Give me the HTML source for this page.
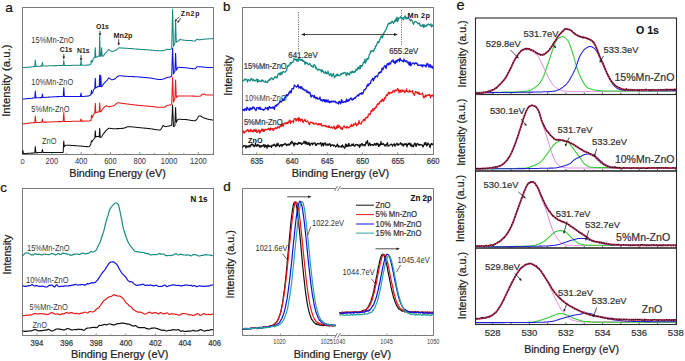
<!DOCTYPE html>
<html><head><meta charset="utf-8"><style>
html,body{margin:0;padding:0;background:#fff;overflow:hidden;width:685px;height:361px;}
svg{display:block;font-family:"Liberation Sans", sans-serif;}
</style></head><body>
<svg width="685" height="361" viewBox="0 0 685 361">
<rect width="685" height="361" fill="#fff"/>
<text x="5.3" y="11.6" font-size="13.6" text-anchor="start" fill="#111" stroke="#111" stroke-width="0.22">a</text>
<rect x="22.5" y="7.5" width="191" height="147" fill="none" stroke="#7c7c7c" stroke-width="1"/>
<line x1="22.5" y1="154.5" x2="22.5" y2="152.0" stroke="#7c7c7c" stroke-width="0.8"/>
<line x1="37.16" y1="154.5" x2="37.16" y2="153.0" stroke="#7c7c7c" stroke-width="0.8"/>
<line x1="51.82" y1="154.5" x2="51.82" y2="152.0" stroke="#7c7c7c" stroke-width="0.8"/>
<line x1="66.48" y1="154.5" x2="66.48" y2="153.0" stroke="#7c7c7c" stroke-width="0.8"/>
<line x1="81.14" y1="154.5" x2="81.14" y2="152.0" stroke="#7c7c7c" stroke-width="0.8"/>
<line x1="95.8" y1="154.5" x2="95.8" y2="153.0" stroke="#7c7c7c" stroke-width="0.8"/>
<line x1="110.46000000000001" y1="154.5" x2="110.46000000000001" y2="152.0" stroke="#7c7c7c" stroke-width="0.8"/>
<line x1="125.12" y1="154.5" x2="125.12" y2="153.0" stroke="#7c7c7c" stroke-width="0.8"/>
<line x1="139.78" y1="154.5" x2="139.78" y2="152.0" stroke="#7c7c7c" stroke-width="0.8"/>
<line x1="154.44" y1="154.5" x2="154.44" y2="153.0" stroke="#7c7c7c" stroke-width="0.8"/>
<line x1="169.1" y1="154.5" x2="169.1" y2="152.0" stroke="#7c7c7c" stroke-width="0.8"/>
<line x1="183.76000000000002" y1="154.5" x2="183.76000000000002" y2="153.0" stroke="#7c7c7c" stroke-width="0.8"/>
<line x1="198.42000000000002" y1="154.5" x2="198.42000000000002" y2="152.0" stroke="#7c7c7c" stroke-width="0.8"/>
<line x1="213.08" y1="154.5" x2="213.08" y2="153.0" stroke="#7c7c7c" stroke-width="0.8"/>
<text x="22.5" y="163.7" font-size="7.5" text-anchor="middle" fill="#333">0</text>
<text x="51.82" y="163.7" font-size="8.4" text-anchor="middle" fill="#333" textLength="12.51" lengthAdjust="spacingAndGlyphs">200</text>
<text x="81.14" y="163.7" font-size="8.4" text-anchor="middle" fill="#333" textLength="12.51" lengthAdjust="spacingAndGlyphs">400</text>
<text x="110.46000000000001" y="163.7" font-size="8.4" text-anchor="middle" fill="#333" textLength="12.51" lengthAdjust="spacingAndGlyphs">600</text>
<text x="139.78" y="163.7" font-size="8.4" text-anchor="middle" fill="#333" textLength="12.51" lengthAdjust="spacingAndGlyphs">800</text>
<text x="169.1" y="163.7" font-size="8.4" text-anchor="middle" fill="#333" textLength="16.69" lengthAdjust="spacingAndGlyphs">1000</text>
<text x="198.42000000000002" y="163.7" font-size="8.4" text-anchor="middle" fill="#333" textLength="16.69" lengthAdjust="spacingAndGlyphs">1200</text>
<text x="117.5" y="177.2" font-size="10.8" text-anchor="middle" fill="#222" stroke="#222" stroke-width="0.22">Binding Energy (eV)</text>
<text x="9.8" y="80.6" font-size="11.45" text-anchor="middle" fill="#222" transform="rotate(-90 9.8 80.6)" stroke="#222" stroke-width="0.22">Intensity (a.u.)</text>
<path d="M22.4,153.6L22.5,152.7L22.9,150.5L23.0,151.1L23.4,153.5L23.5,153.5L24.0,153.5L24.5,153.5L25.0,153.5L25.5,153.4L26.0,153.4L26.5,153.4L27.0,153.4L27.5,153.3L28.0,153.3L28.5,153.3L29.0,153.3L29.5,153.2L30.0,153.2L30.5,153.2L31.0,153.2L31.5,153.1L32.0,153.1L32.5,153.1L33.0,153.1L33.5,153.0L34.0,153.0L34.5,153.0L34.8,152.9L35.0,150.0L35.3,146.6L35.5,148.9L35.9,152.8L36.0,152.8L36.5,152.8L37.0,152.7L37.5,152.6L38.0,152.6L38.5,152.5L39.0,152.5L39.5,152.5L40.0,152.4L40.5,152.4L41.0,152.4L41.5,152.4L41.9,152.4L42.0,151.6L42.4,149.5L42.5,150.0L43.0,152.4L43.0,152.4L43.5,152.4L44.0,152.4L44.5,152.4L45.0,152.4L45.5,152.4L46.0,152.4L46.5,152.4L47.0,152.4L47.5,152.4L48.0,152.4L48.5,152.4L49.0,152.4L49.5,152.4L50.0,152.4L50.5,152.4L51.0,152.4L51.5,152.4L52.0,152.4L52.5,152.5L53.0,152.5L53.5,152.5L54.0,152.5L54.5,152.5L55.0,152.5L55.5,152.5L56.0,152.5L56.5,152.5L57.0,152.5L57.5,152.5L58.0,152.5L58.5,152.5L59.0,152.5L59.5,152.5L60.0,152.5L60.5,152.5L61.0,152.5L61.5,152.5L62.0,152.5L62.5,152.5L63.0,152.5L63.2,152.1L63.5,145.6L63.8,141.0L64.0,144.1L64.3,146.8L64.5,146.5L65.0,145.8L65.5,145.4L66.0,145.2L66.5,145.2L67.0,145.2L67.5,145.2L68.0,145.2L68.5,145.2L69.0,145.3L69.5,145.3L70.0,145.3L70.5,145.3L71.0,145.4L71.5,145.4L72.0,145.4L72.5,145.4L73.0,145.5L73.5,145.5L74.0,145.6L74.5,145.6L75.0,145.6L75.5,145.7L76.0,145.7L76.5,145.7L77.0,145.8L77.5,145.8L78.0,145.9L78.5,145.9L79.0,145.9L79.5,146.0L80.0,146.0L80.5,146.0L81.0,146.1L81.5,146.1L82.0,146.2L82.5,146.2L83.0,146.3L83.5,146.3L84.0,146.4L84.5,146.4L85.0,146.5L85.5,146.5L86.0,146.6L86.5,146.6L87.0,146.6L87.5,146.7L88.0,146.7L88.5,146.7L89.0,146.7L89.5,146.4L90.0,145.6L90.5,144.7L91.0,143.9L91.0,142.7L91.5,140.8L92.0,141.8L92.0,141.7L92.5,140.8L93.0,140.0L93.5,139.5L94.0,139.0L94.5,138.5L94.8,138.2L95.0,134.5L95.3,130.8L95.5,133.3L95.8,137.0L96.0,136.9L96.5,136.7L97.0,136.6L97.5,136.5L98.0,136.5L98.5,136.6L99.0,136.8L99.2,136.9L99.5,131.5L99.7,128.3L100.0,133.1L100.2,137.4L100.5,137.5L101.0,137.5L101.5,137.0L102.0,136.2L102.5,135.3L103.0,134.4L103.5,133.7L104.0,133.1L104.5,132.4L105.0,131.8L105.5,131.2L106.0,130.7L106.5,130.2L107.0,129.7L107.5,129.3L108.0,128.8L108.5,128.5L109.0,128.3L109.5,128.3L110.0,128.3L110.5,128.4L111.0,128.5L111.5,128.5L112.0,128.6L112.5,128.7L113.0,128.7L113.5,128.7L114.0,128.7L114.5,128.7L115.0,128.7L115.5,128.7L116.0,128.7L116.5,128.7L117.0,128.6L117.5,128.6L118.0,128.6L118.5,128.6L119.0,128.6L119.5,128.5L120.0,128.5L120.5,128.5L121.0,128.5L121.5,128.4L122.0,128.4L122.5,128.4L123.0,128.3L123.5,128.3L124.0,128.2L124.5,128.0L125.0,127.8L125.5,127.6L126.0,127.4L126.5,127.1L127.0,126.9L127.5,126.8L128.0,126.7L128.5,126.7L129.0,126.7L129.5,126.7L130.0,126.7L130.5,126.8L131.0,126.8L131.5,126.8L132.0,126.9L132.5,126.9L133.0,127.0L133.5,127.0L134.0,127.0L134.5,127.1L135.0,127.2L135.5,127.2L136.0,127.3L136.5,127.3L137.0,127.4L137.5,127.4L138.0,127.5L138.5,127.5L139.0,127.6L139.5,127.7L140.0,127.7L140.5,127.7L141.0,127.8L141.5,127.8L142.0,127.9L142.5,127.9L143.0,128.0L143.5,128.0L144.0,128.1L144.5,128.1L145.0,128.2L145.5,128.2L146.0,128.3L146.5,128.3L147.0,128.4L147.5,128.4L148.0,128.5L148.5,128.5L149.0,128.6L149.5,128.6L150.0,128.7L150.5,128.8L151.0,128.8L151.5,128.9L152.0,129.0L152.5,129.1L153.0,129.1L153.5,129.2L154.0,129.3L154.5,129.4L155.0,129.5L155.5,129.6L156.0,129.7L156.5,129.7L157.0,129.8L157.5,129.8L158.0,129.9L158.5,129.9L159.0,130.0L159.5,130.0L160.0,130.0L160.5,129.8L161.0,129.1L161.5,128.3L162.0,127.5L162.5,126.3L163.0,125.5L163.5,125.7L164.0,126.0L164.5,126.3L165.0,126.5L165.5,126.5L166.0,126.5L166.5,126.4L167.0,126.3L167.5,126.3L168.0,126.2L168.5,126.1L169.0,126.0L169.5,125.9L170.0,125.8L170.5,125.7L171.0,125.6L171.5,125.5L171.7,125.5L172.0,119.0L172.5,107.3L172.6,105.0L173.0,114.4L173.5,126.5L174.0,126.4L174.5,126.1L174.9,125.8L175.0,121.9L175.5,109.9L175.6,107.5L176.0,117.1L176.3,122.4L176.5,122.0L177.0,120.9L177.5,119.8L178.0,119.3L178.5,119.3L179.0,119.3L179.5,119.3L180.0,119.3L180.5,119.3L181.0,119.3L181.5,119.4L182.0,119.4L182.5,119.4L183.0,119.4L183.5,119.4L184.0,119.5L184.5,119.5L185.0,119.5L185.5,119.5L186.0,119.6L186.5,119.6L187.0,119.7L187.5,119.8L188.0,119.8L188.5,119.9L189.0,120.0L189.5,120.1L190.0,120.2L190.5,120.3L191.0,120.4L191.5,120.5L192.0,120.5L192.5,120.6L193.0,120.7L193.5,120.7L194.0,120.8L194.5,120.8L195.0,120.8L195.5,120.6L196.0,120.2L196.5,119.6L197.0,119.0L197.5,118.2L198.0,117.3L198.5,116.5L199.0,116.0L199.5,115.9L200.0,115.8L200.5,115.9L201.0,116.1L201.5,116.5L202.0,116.9L202.5,117.2L203.0,117.5L203.5,117.7L204.0,117.9L204.5,118.1L205.0,118.3L205.5,118.5L206.0,118.7L206.5,118.8L207.0,119.0L207.5,119.1L208.0,119.2L208.5,119.3L209.0,119.4L209.5,119.5L210.0,119.6L210.5,119.7L211.0,119.8L211.5,119.8L212.0,119.9L212.5,120.0L213.0,120.0" fill="none" stroke="#111" stroke-width="1.05" stroke-linejoin="round"/>
<path d="M22.5,124.0L23.0,123.9L23.5,123.8L24.0,123.8L24.5,123.7L25.0,123.6L25.5,123.6L26.0,123.5L26.5,123.4L27.0,123.4L27.5,123.3L28.0,123.2L28.5,123.2L29.0,123.1L29.5,123.1L30.0,123.0L30.5,122.9L31.0,122.9L31.5,122.8L32.0,122.8L32.5,122.7L33.0,122.7L33.5,122.6L34.0,122.6L34.5,122.6L34.8,122.6L35.0,119.6L35.3,116.0L35.5,118.4L35.9,122.5L36.0,122.5L36.5,122.5L37.0,122.5L37.5,122.4L38.0,122.4L38.5,122.4L39.0,122.4L39.5,122.4L40.0,122.3L40.5,122.3L41.0,122.3L41.5,122.3L41.9,122.3L42.0,121.4L42.4,119.0L42.5,119.6L43.0,122.2L43.0,122.2L43.5,122.2L44.0,122.2L44.5,122.2L45.0,122.1L45.5,122.1L46.0,122.1L46.5,122.1L47.0,122.1L47.5,122.0L48.0,122.0L48.5,122.0L49.0,122.0L49.5,122.0L50.0,121.9L50.5,121.9L51.0,121.9L51.5,121.9L52.0,121.9L52.5,121.8L53.0,121.8L53.5,121.8L54.0,121.8L54.5,121.8L55.0,121.7L55.5,121.7L56.0,121.7L56.5,121.7L57.0,121.7L57.5,121.7L58.0,121.6L58.5,121.6L59.0,121.6L59.5,121.6L60.0,121.6L60.5,121.6L61.0,121.6L61.5,121.5L62.0,121.5L62.5,121.5L63.0,121.5L63.2,121.5L63.5,117.4L63.8,112.5L64.0,115.8L64.3,121.5L64.5,121.5L65.0,121.5L65.5,121.4L66.0,121.4L66.5,121.4L67.0,121.4L67.5,121.4L68.0,121.4L68.5,121.4L69.0,121.4L69.5,121.4L70.0,121.4L70.5,121.4L71.0,121.4L71.5,121.4L72.0,121.3L72.5,121.3L73.0,121.3L73.5,121.3L74.0,121.3L74.5,121.3L75.0,121.3L75.5,121.3L76.0,121.3L76.5,121.3L77.0,121.3L77.5,121.3L78.0,121.2L78.5,121.2L79.0,121.2L79.5,121.2L80.0,121.2L80.5,121.2L80.5,121.0L81.0,119.0L81.5,121.0L81.5,121.2L82.0,121.1L82.5,121.1L83.0,121.1L83.5,121.1L84.0,121.1L84.5,121.0L85.0,121.0L85.5,121.0L86.0,121.0L86.5,121.0L87.0,120.9L87.5,120.9L88.0,120.9L88.5,120.9L89.0,120.9L89.5,120.9L90.0,120.8L90.5,120.8L91.0,120.7L91.0,120.6L91.5,115.8L91.6,115.0L92.0,118.0L92.2,117.5L92.5,116.6L93.0,115.6L93.5,114.7L94.0,114.0L94.5,113.6L94.8,113.4L95.0,108.6L95.3,103.3L95.5,106.9L95.8,112.8L96.0,112.7L96.5,112.5L97.0,112.3L97.5,112.1L98.0,112.0L98.5,111.9L99.0,111.9L99.2,111.9L99.5,106.2L99.7,103.0L100.0,107.8L100.2,111.8L100.5,111.8L101.0,111.6L101.5,110.9L102.0,109.8L102.5,109.0L103.0,108.4L103.5,107.9L104.0,107.4L104.5,107.0L105.0,106.6L105.5,106.3L106.0,106.0L106.5,105.8L107.0,105.9L107.5,106.2L108.0,106.6L108.5,106.7L109.0,106.7L109.5,106.6L110.0,106.6L110.5,106.5L111.0,106.4L111.5,106.3L112.0,106.1L112.5,106.0L113.0,105.9L113.5,105.7L114.0,105.5L114.5,105.2L115.0,104.8L115.5,104.4L116.0,104.0L116.5,103.6L117.0,103.2L117.5,103.0L118.0,102.8L118.5,102.8L119.0,102.8L119.5,102.9L120.0,103.0L120.5,103.1L121.0,103.1L121.5,103.2L122.0,103.3L122.5,103.4L123.0,103.4L123.5,103.5L124.0,103.6L124.5,103.6L125.0,103.7L125.5,103.7L126.0,103.8L126.5,103.9L127.0,103.9L127.5,104.0L128.0,104.1L128.5,104.1L129.0,104.2L129.5,104.2L130.0,104.3L130.5,104.4L131.0,104.4L131.5,104.5L132.0,104.6L132.5,104.6L133.0,104.7L133.5,104.7L134.0,104.8L134.5,104.9L135.0,104.9L135.5,105.0L136.0,105.1L136.5,105.1L137.0,105.2L137.5,105.2L138.0,105.3L138.5,105.3L139.0,105.4L139.5,105.5L140.0,105.5L140.5,105.5L141.0,105.6L141.5,105.6L142.0,105.7L142.5,105.7L143.0,105.8L143.5,105.8L144.0,105.8L144.5,105.9L145.0,105.9L145.5,105.9L146.0,106.0L146.5,106.0L147.0,106.1L147.5,106.1L148.0,106.1L148.5,106.2L149.0,106.2L149.5,106.3L150.0,106.3L150.5,106.3L151.0,106.4L151.5,106.5L152.0,106.5L152.5,106.6L153.0,106.6L153.5,106.7L154.0,106.8L154.5,106.8L155.0,106.9L155.5,107.0L156.0,107.0L156.5,107.1L157.0,107.1L157.5,107.2L158.0,107.2L158.5,107.3L159.0,107.3L159.5,107.3L160.0,107.3L160.5,107.3L161.0,107.3L161.5,107.3L162.0,107.3L162.5,107.2L163.0,107.2L163.5,107.2L164.0,107.1L164.5,107.1L165.0,107.0L165.5,106.8L166.0,106.3L166.5,105.8L167.0,105.5L167.5,105.4L168.0,105.3L168.5,105.2L169.0,105.2L169.5,105.1L170.0,105.0L170.5,104.9L171.0,104.7L171.5,104.5L171.7,104.4L172.0,94.8L172.5,80.4L172.6,77.5L173.0,89.0L173.5,102.0L174.0,100.7L174.5,99.4L174.9,98.8L175.0,95.6L175.5,82.6L175.6,80.0L176.0,90.4L176.3,97.7L176.5,97.5L177.0,96.9L177.5,96.3L178.0,96.0L178.5,96.0L179.0,96.0L179.5,96.0L180.0,96.0L180.5,96.0L181.0,96.0L181.5,96.0L182.0,96.0L182.5,96.0L183.0,96.0L183.5,96.0L184.0,96.0L184.5,96.0L185.0,96.0L185.5,96.0L186.0,96.0L186.5,96.0L187.0,96.0L187.5,96.0L188.0,96.0L188.5,96.0L189.0,96.0L189.5,96.0L190.0,96.0L190.5,96.0L191.0,96.0L191.5,96.0L192.0,96.0L192.5,96.0L193.0,96.1L193.5,96.1L194.0,96.1L194.5,96.1L195.0,96.1L195.5,96.2L196.0,96.2L196.5,96.2L197.0,96.2L197.5,96.3L198.0,96.3L198.5,96.3L199.0,96.3L199.5,96.3L200.0,96.3L200.5,96.1L201.0,95.7L201.5,95.2L202.0,94.6L202.5,94.2L203.0,94.0L203.5,94.0L204.0,94.2L204.5,94.3L205.0,94.5L205.5,94.7L206.0,94.8L206.5,95.0L207.0,95.0L207.5,95.0L208.0,95.0L208.5,95.0L209.0,95.0L209.5,95.0L210.0,95.0L210.5,95.0L211.0,95.0L211.5,95.0L212.0,95.0L212.5,95.0L213.0,95.0" fill="none" stroke="#e81818" stroke-width="1.05" stroke-linejoin="round"/>
<path d="M22.5,99.0L23.0,99.0L23.5,98.9L24.0,98.9L24.5,98.9L25.0,98.8L25.5,98.8L26.0,98.7L26.5,98.7L27.0,98.7L27.5,98.6L28.0,98.6L28.5,98.5L29.0,98.5L29.5,98.4L30.0,98.4L30.5,98.4L31.0,98.3L31.5,98.2L32.0,98.2L32.5,98.1L33.0,98.1L33.5,98.0L34.0,98.0L34.5,98.0L34.8,97.9L35.0,94.8L35.3,91.0L35.5,93.5L35.9,97.9L36.0,97.9L36.5,97.8L37.0,97.8L37.5,97.8L38.0,97.8L38.5,97.7L39.0,97.7L39.5,97.7L40.0,97.7L40.5,97.6L41.0,97.6L41.5,97.6L41.9,97.6L42.0,96.6L42.4,94.0L42.5,94.6L43.0,97.5L43.0,97.5L43.5,97.5L44.0,97.4L44.5,97.4L45.0,97.4L45.5,97.3L46.0,97.3L46.5,97.3L47.0,97.2L47.5,97.2L48.0,97.2L48.5,97.1L49.0,97.1L49.5,97.1L50.0,97.0L50.5,97.0L51.0,97.0L51.5,96.9L52.0,96.9L52.5,96.9L53.0,96.8L53.5,96.8L54.0,96.8L54.5,96.8L55.0,96.7L55.5,96.7L56.0,96.7L56.5,96.7L57.0,96.6L57.5,96.6L58.0,96.6L58.5,96.6L59.0,96.6L59.5,96.5L60.0,96.5L60.5,96.5L61.0,96.5L61.5,96.5L62.0,96.5L62.5,96.5L63.0,96.5L63.2,96.5L63.5,92.4L63.8,87.5L64.0,90.8L64.3,96.5L64.5,96.5L65.0,96.5L65.5,96.5L66.0,96.5L66.5,96.5L67.0,96.5L67.5,96.5L68.0,96.5L68.5,96.5L69.0,96.5L69.5,96.5L70.0,96.5L70.5,96.5L71.0,96.5L71.5,96.5L72.0,96.5L72.5,96.5L73.0,96.5L73.5,96.5L74.0,96.5L74.5,96.5L75.0,96.5L75.5,96.5L76.0,96.5L76.5,96.5L77.0,96.5L77.5,96.5L78.0,96.5L78.5,96.5L79.0,96.5L79.5,96.5L80.0,96.5L80.5,96.5L80.5,96.2L81.0,93.0L81.5,96.2L81.5,96.5L82.0,96.5L82.5,96.5L83.0,96.4L83.5,96.4L84.0,96.4L84.5,96.3L85.0,96.3L85.5,96.3L86.0,96.2L86.5,96.2L87.0,96.1L87.5,96.1L88.0,96.0L88.5,95.9L89.0,95.7L89.5,95.5L90.0,95.3L90.5,95.0L91.0,94.7L91.0,93.8L91.5,90.3L92.0,93.6L92.0,93.5L92.5,92.9L93.0,91.7L93.5,90.2L94.0,89.2L94.5,88.7L94.8,88.6L95.0,83.7L95.3,78.2L95.5,81.9L95.8,88.0L96.0,87.9L96.5,87.6L97.0,87.2L97.5,86.8L98.0,86.6L98.5,86.6L99.0,86.6L99.2,86.6L99.5,79.2L99.7,75.0L100.0,81.3L100.2,86.6L100.5,81.6L100.8,75.5L101.0,79.5L101.3,86.6L101.5,86.6L102.0,86.5L102.5,85.8L103.0,84.7L103.5,83.9L104.0,83.3L104.5,82.8L105.0,82.3L105.5,81.8L106.0,81.3L106.5,80.9L107.0,80.4L107.5,79.8L108.0,78.9L108.5,78.0L109.0,78.1L109.5,78.4L110.0,78.7L110.5,79.0L111.0,79.4L111.5,79.7L112.0,79.8L112.5,79.8L113.0,79.6L113.5,79.5L114.0,79.3L114.5,79.0L115.0,78.8L115.5,78.5L116.0,78.0L116.5,77.4L117.0,76.9L117.5,76.5L118.0,76.2L118.5,76.0L119.0,75.9L119.5,75.8L120.0,75.8L120.5,75.8L121.0,75.8L121.5,75.9L122.0,75.9L122.5,76.0L123.0,76.0L123.5,76.1L124.0,76.1L124.5,76.2L125.0,76.2L125.5,76.2L126.0,76.3L126.5,76.3L127.0,76.3L127.5,76.3L128.0,76.4L128.5,76.4L129.0,76.4L129.5,76.4L130.0,76.5L130.5,76.5L131.0,76.5L131.5,76.5L132.0,76.5L132.5,76.6L133.0,76.6L133.5,76.6L134.0,76.6L134.5,76.7L135.0,76.7L135.5,76.7L136.0,76.8L136.5,76.8L137.0,76.8L137.5,76.9L138.0,76.9L138.5,76.9L139.0,77.0L139.5,77.0L140.0,77.1L140.5,77.1L141.0,77.1L141.5,77.2L142.0,77.2L142.5,77.3L143.0,77.3L143.5,77.3L144.0,77.4L144.5,77.4L145.0,77.5L145.5,77.5L146.0,77.6L146.5,77.6L147.0,77.7L147.5,77.7L148.0,77.8L148.5,77.8L149.0,77.9L149.5,77.9L150.0,78.0L150.5,78.1L151.0,78.1L151.5,78.2L152.0,78.3L152.5,78.4L153.0,78.5L153.5,78.6L154.0,78.7L154.5,78.8L155.0,78.9L155.5,79.0L156.0,79.1L156.5,79.2L157.0,79.2L157.5,79.3L158.0,79.4L158.5,79.4L159.0,79.5L159.5,79.5L160.0,79.5L160.5,79.5L161.0,79.4L161.5,79.4L162.0,79.3L162.5,79.2L163.0,79.1L163.5,78.9L164.0,78.8L164.5,78.7L165.0,78.5L165.5,78.3L166.0,77.9L166.5,77.6L167.0,77.4L167.5,77.3L168.0,77.2L168.5,77.2L169.0,77.2L169.5,77.1L170.0,77.0L170.5,76.9L171.0,76.6L171.5,76.4L171.7,76.2L172.0,66.2L172.5,51.0L172.6,48.0L173.0,60.1L173.5,74.0L174.0,72.9L174.5,71.8L174.9,71.3L175.0,68.2L175.5,55.7L175.6,53.2L176.0,63.2L176.3,70.2L176.5,70.0L177.0,69.0L177.5,67.9L178.0,67.3L178.5,67.3L179.0,67.3L179.5,67.3L180.0,67.3L180.5,67.4L181.0,67.4L181.5,67.4L182.0,67.5L182.5,67.5L183.0,67.5L183.5,67.6L184.0,67.6L184.5,67.7L185.0,67.7L185.5,67.7L186.0,67.8L186.5,67.9L187.0,67.9L187.5,68.0L188.0,68.0L188.5,68.1L189.0,68.2L189.5,68.2L190.0,68.3L190.5,68.4L191.0,68.4L191.5,68.5L192.0,68.6L192.5,68.6L193.0,68.7L193.5,68.7L194.0,68.8L194.5,68.8L195.0,68.8L195.5,68.5L196.0,67.8L196.5,67.1L197.0,66.8L197.5,66.8L198.0,66.7L198.5,66.7L199.0,66.7L199.5,66.7L200.0,66.7L200.5,66.7L201.0,66.8L201.5,66.8L202.0,66.9L202.5,67.0L203.0,67.1L203.5,67.1L204.0,67.2L204.5,67.3L205.0,67.3L205.5,67.3L206.0,67.3L206.5,67.4L207.0,67.4L207.5,67.4L208.0,67.4L208.5,67.4L209.0,67.4L209.5,67.5L210.0,67.5L210.5,67.5L211.0,67.5L211.5,67.5L212.0,67.5L212.5,67.5L213.0,67.5" fill="none" stroke="#1010e0" stroke-width="1.05" stroke-linejoin="round"/>
<path d="M22.5,67.6L23.0,67.6L23.5,67.5L24.0,67.5L24.5,67.5L25.0,67.4L25.5,67.4L26.0,67.3L26.5,67.3L27.0,67.3L27.5,67.2L28.0,67.2L28.5,67.1L29.0,67.1L29.5,67.0L30.0,67.0L30.5,67.0L31.0,66.9L31.5,66.9L32.0,66.8L32.5,66.7L33.0,66.7L33.5,66.6L34.0,66.6L34.5,66.6L34.8,66.5L35.0,63.5L35.3,60.0L35.5,62.4L35.9,66.4L36.0,66.4L36.5,66.4L37.0,66.4L37.5,66.3L38.0,66.3L38.5,66.2L39.0,66.2L39.5,66.2L40.0,66.2L40.5,66.1L41.0,66.1L41.5,66.1L41.9,66.1L42.0,65.0L42.4,62.4L42.5,63.1L43.0,66.0L43.0,66.0L43.5,66.0L44.0,66.0L44.5,66.0L45.0,65.9L45.5,65.9L46.0,65.9L46.5,65.9L47.0,65.9L47.5,65.9L48.0,65.9L48.5,65.8L49.0,65.8L49.5,65.8L50.0,65.8L50.5,65.8L51.0,65.8L51.5,65.7L52.0,65.7L52.5,65.7L53.0,65.7L53.5,65.7L54.0,65.7L54.5,65.6L55.0,65.6L55.5,65.6L56.0,65.6L56.5,65.6L57.0,65.5L57.5,65.5L58.0,65.5L58.5,65.5L59.0,65.5L59.5,65.5L60.0,65.5L60.5,65.4L61.0,65.4L61.5,65.4L62.0,65.4L62.5,65.4L63.0,65.4L63.2,65.4L63.5,63.2L63.8,60.5L64.0,62.3L64.3,65.4L64.5,65.4L65.0,65.4L65.5,65.4L66.0,65.4L66.5,65.4L67.0,65.4L67.5,65.4L68.0,65.4L68.5,65.4L69.0,65.4L69.5,65.4L70.0,65.4L70.5,65.4L71.0,65.4L71.5,65.4L72.0,65.3L72.5,65.3L73.0,65.3L73.5,65.3L74.0,65.3L74.5,65.3L75.0,65.3L75.5,65.3L76.0,65.3L76.5,65.3L77.0,65.3L77.5,65.3L78.0,65.3L78.5,65.3L79.0,65.3L79.5,65.3L80.0,65.3L80.5,65.3L80.5,64.9L81.0,61.0L81.5,64.9L81.5,65.3L82.0,65.3L82.5,65.3L83.0,65.3L83.5,65.3L84.0,65.2L84.5,65.2L85.0,65.2L85.5,65.2L86.0,65.2L86.5,65.2L87.0,65.1L87.5,65.1L88.0,65.1L88.5,65.1L89.0,65.0L89.5,64.8L90.0,64.7L90.5,64.4L90.8,64.1L91.0,62.0L91.3,60.4L91.5,61.5L91.8,62.3L92.0,62.1L92.5,61.1L93.0,59.7L93.5,58.3L94.0,57.8L94.5,57.6L94.8,57.6L95.0,53.1L95.3,47.8L95.5,51.3L95.8,57.4L96.0,57.4L96.5,57.3L97.0,57.0L97.5,56.5L98.0,56.2L98.5,56.2L99.0,56.2L99.2,56.2L99.5,43.5L99.7,36.2L100.0,47.1L100.2,56.2L100.5,56.2L101.0,56.2L101.0,56.2L101.5,49.3L101.6,47.8L102.0,53.9L102.2,56.2L102.5,56.2L103.0,56.2L103.5,55.7L104.0,55.1L104.5,54.3L105.0,53.6L105.5,53.1L106.0,52.6L106.5,52.0L107.0,51.5L107.5,50.8L108.0,50.0L108.5,49.6L109.0,49.7L109.5,50.1L110.0,50.5L110.5,50.8L111.0,51.1L111.5,51.3L112.0,51.4L112.5,51.4L113.0,51.3L113.5,51.1L114.0,50.9L114.5,50.7L115.0,50.5L115.5,50.3L116.0,50.0L116.5,49.7L117.0,49.3L117.5,49.0L118.0,48.6L118.5,48.1L119.0,47.8L119.5,47.8L120.0,47.8L120.5,47.9L121.0,47.9L121.5,48.0L122.0,48.0L122.5,48.0L123.0,48.1L123.5,48.1L124.0,48.1L124.5,48.2L125.0,48.2L125.5,48.2L126.0,48.2L126.5,48.3L127.0,48.3L127.5,48.3L128.0,48.4L128.5,48.4L129.0,48.4L129.5,48.5L130.0,48.5L130.5,48.5L131.0,48.6L131.5,48.6L132.0,48.6L132.5,48.7L133.0,48.7L133.5,48.8L134.0,48.8L134.5,48.9L135.0,48.9L135.5,48.9L136.0,49.0L136.5,49.0L137.0,49.1L137.5,49.1L138.0,49.1L138.5,49.2L139.0,49.2L139.5,49.3L140.0,49.3L140.5,49.3L141.0,49.4L141.5,49.4L142.0,49.4L142.5,49.5L143.0,49.5L143.5,49.5L144.0,49.6L144.5,49.6L145.0,49.6L145.5,49.7L146.0,49.7L146.5,49.8L147.0,49.8L147.5,49.8L148.0,49.9L148.5,49.9L149.0,49.9L149.5,50.0L150.0,50.0L150.5,50.0L151.0,50.1L151.5,50.1L152.0,50.2L152.5,50.2L153.0,50.3L153.5,50.3L154.0,50.4L154.5,50.4L155.0,50.5L155.5,50.5L156.0,50.6L156.5,50.6L157.0,50.7L157.5,50.7L158.0,50.7L158.5,50.8L159.0,50.8L159.5,50.8L160.0,50.8L160.5,50.8L161.0,50.8L161.5,50.7L162.0,50.7L162.5,50.6L163.0,50.6L163.5,50.5L164.0,50.4L164.5,50.3L165.0,50.2L165.5,50.0L166.0,49.6L166.5,49.3L167.0,49.2L167.5,49.2L168.0,49.3L168.5,49.4L169.0,49.4L169.5,49.5L170.0,49.5L170.5,49.4L171.0,49.0L171.5,48.6L171.7,48.4L172.0,34.9L172.5,13.6L172.6,9.3L173.0,26.3L173.5,46.5L174.0,45.3L174.5,43.9L174.9,43.3L175.0,39.6L175.5,24.3L175.6,21.3L176.0,33.5L176.3,42.1L176.5,42.0L177.0,41.8L177.5,41.5L178.0,41.3L178.5,40.9L179.0,40.3L179.5,39.8L180.0,39.6L180.5,39.6L181.0,39.7L181.5,39.7L182.0,39.8L182.5,39.9L183.0,40.0L183.5,40.1L184.0,40.2L184.5,40.3L185.0,40.3L185.5,40.3L186.0,40.4L186.5,40.4L187.0,40.4L187.5,40.4L188.0,40.4L188.5,40.4L189.0,40.5L189.5,40.5L190.0,40.5L190.5,40.5L191.0,40.6L191.5,40.6L192.0,40.7L192.5,40.8L193.0,40.9L193.5,40.9L194.0,41.0L194.5,41.0L195.0,41.0L195.5,40.7L196.0,40.1L196.5,39.5L197.0,39.2L197.5,39.3L198.0,39.5L198.5,39.7L199.0,39.8L199.5,39.8L200.0,39.7L200.5,39.7L201.0,39.6L201.5,39.5L202.0,39.4L202.5,39.4L203.0,39.3L203.5,39.3L204.0,39.2L204.5,39.2L205.0,39.1L205.5,39.1L206.0,39.0L206.5,39.0L207.0,39.0L207.5,38.9L208.0,38.9L208.5,38.9L209.0,38.8L209.5,38.8L210.0,38.8L210.5,38.7L211.0,38.7L211.5,38.7L212.0,38.7L212.5,38.6L213.0,38.6" fill="none" stroke="#178a80" stroke-width="1.05" stroke-linejoin="round"/>
<text x="31.3" y="43" font-size="8.4" text-anchor="start" fill="#383838" textLength="42.51" lengthAdjust="spacingAndGlyphs">15%Mn-ZnO</text>
<text x="31.3" y="84.5" font-size="8.29" text-anchor="start" fill="#383838" textLength="41.95" lengthAdjust="spacingAndGlyphs">10%Mn-ZnO</text>
<text x="31.3" y="112" font-size="8.4" text-anchor="start" fill="#383838" textLength="38.34" lengthAdjust="spacingAndGlyphs">5%Mn-ZnO</text>
<text x="42" y="144" font-size="8.29" text-anchor="start" fill="#383838" textLength="14.39" lengthAdjust="spacingAndGlyphs">ZnO</text>
<text x="59.8" y="51.6" font-size="7.62" text-anchor="start" fill="#222" font-weight="bold" textLength="12.47" lengthAdjust="spacingAndGlyphs">C1s</text>
<text x="77" y="52.5" font-size="7.62" text-anchor="start" fill="#222" font-weight="bold" textLength="12.47" lengthAdjust="spacingAndGlyphs">N1s</text>
<text x="95.9" y="29" font-size="7.73" text-anchor="start" fill="#222" font-weight="bold" textLength="13.04" lengthAdjust="spacingAndGlyphs">O1s</text>
<text x="113.5" y="37.8" font-size="8.06" text-anchor="start" fill="#222" font-weight="bold" textLength="18.80" lengthAdjust="spacingAndGlyphs">Mn2p</text>
<text x="180.8" y="16.4" font-size="6.9" text-anchor="start" fill="#222" font-weight="bold" letter-spacing="0.7">Zn2p</text>
<line x1="63.8" y1="53.8" x2="63.8" y2="57.1" stroke="#222" stroke-width="0.8"/>
<path d="M62.5,56.6 L65.1,56.6 L63.8,59.6 Z" fill="#222"/>
<line x1="81" y1="55" x2="81" y2="58.7" stroke="#222" stroke-width="0.8"/>
<path d="M79.7,58.2 L82.3,58.2 L81,61.2 Z" fill="#222"/>
<line x1="100" y1="30.7" x2="100" y2="33.8" stroke="#222" stroke-width="0.8"/>
<path d="M98.7,33.3 L101.3,33.3 L100,36.3 Z" fill="#222"/>
<line x1="118.7" y1="39.2" x2="118.7" y2="43.3" stroke="#222" stroke-width="0.8"/>
<path d="M117.4,42.8 L120.0,42.8 L118.7,45.8 Z" fill="#222"/>
<line x1="179.4" y1="16.8" x2="175.92871716275025" y2="20.200440330367115" stroke="#222" stroke-width="0.8"/>
<path d="M174.50,21.60 L175.52,19.06 L177.06,20.64 Z" fill="#222"/>
<line x1="180.9" y1="18.2" x2="178.5" y2="21.4" stroke="#222" stroke-width="0.8"/>
<path d="M177.30,23.00 L177.92,20.34 L179.68,21.66 Z" fill="#222"/>
<text x="223.0" y="10.8" font-size="13.3" text-anchor="start" fill="#111" stroke="#111" stroke-width="0.22">b</text>
<rect x="242.5" y="7.5" width="191" height="147" fill="none" stroke="#7c7c7c" stroke-width="1"/>
<line x1="256.8" y1="154.5" x2="256.8" y2="152.3" stroke="#7c7c7c" stroke-width="0.8"/>
<line x1="274.425" y1="154.5" x2="274.425" y2="153.3" stroke="#7c7c7c" stroke-width="0.8"/>
<line x1="292.05" y1="154.5" x2="292.05" y2="152.3" stroke="#7c7c7c" stroke-width="0.8"/>
<line x1="309.675" y1="154.5" x2="309.675" y2="153.3" stroke="#7c7c7c" stroke-width="0.8"/>
<line x1="327.3" y1="154.5" x2="327.3" y2="152.3" stroke="#7c7c7c" stroke-width="0.8"/>
<line x1="344.925" y1="154.5" x2="344.925" y2="153.3" stroke="#7c7c7c" stroke-width="0.8"/>
<line x1="362.55" y1="154.5" x2="362.55" y2="152.3" stroke="#7c7c7c" stroke-width="0.8"/>
<line x1="380.175" y1="154.5" x2="380.175" y2="153.3" stroke="#7c7c7c" stroke-width="0.8"/>
<line x1="397.8" y1="154.5" x2="397.8" y2="152.3" stroke="#7c7c7c" stroke-width="0.8"/>
<line x1="415.425" y1="154.5" x2="415.425" y2="153.3" stroke="#7c7c7c" stroke-width="0.8"/>
<text x="256.8" y="163.7" font-size="8.62" text-anchor="middle" fill="#333" stroke="#333" stroke-width="0.22" textLength="12.85" lengthAdjust="spacingAndGlyphs">635</text>
<text x="292.05" y="163.7" font-size="8.62" text-anchor="middle" fill="#333" stroke="#333" stroke-width="0.22" textLength="12.85" lengthAdjust="spacingAndGlyphs">640</text>
<text x="327.3" y="163.7" font-size="8.62" text-anchor="middle" fill="#333" stroke="#333" stroke-width="0.22" textLength="12.85" lengthAdjust="spacingAndGlyphs">645</text>
<text x="362.55" y="163.7" font-size="8.62" text-anchor="middle" fill="#333" stroke="#333" stroke-width="0.22" textLength="12.85" lengthAdjust="spacingAndGlyphs">650</text>
<text x="397.8" y="163.7" font-size="8.62" text-anchor="middle" fill="#333" stroke="#333" stroke-width="0.22" textLength="12.85" lengthAdjust="spacingAndGlyphs">655</text>
<text x="433.05" y="163.7" font-size="8.62" text-anchor="middle" fill="#333" stroke="#333" stroke-width="0.22" textLength="12.85" lengthAdjust="spacingAndGlyphs">660</text>
<text x="340.5" y="176.8" font-size="10.9" text-anchor="middle" fill="#222" stroke="#222" stroke-width="0.22">Binding Energy (eV)</text>
<text x="232.2" y="75.6" font-size="10.85" text-anchor="middle" fill="#222" transform="rotate(-90 232.2 75.6)" stroke="#222" stroke-width="0.22">Intensity</text>
<path d="M242.5,146.6L243.0,146.9L243.5,146.2L244.0,145.5L244.5,145.8L245.0,145.4L245.5,146.7L246.0,148.0L246.5,146.1L247.0,145.8L247.5,147.0L248.0,147.0L248.5,146.5L249.0,145.5L249.5,146.4L250.0,147.0L250.5,145.0L251.0,145.5L251.5,144.1L252.0,144.4L252.5,144.1L253.0,145.7L253.5,145.0L254.0,146.5L254.5,146.5L255.0,145.8L255.5,143.4L256.0,145.3L256.5,146.2L257.0,146.2L257.5,144.5L258.0,145.4L258.5,145.0L259.0,145.3L259.5,147.1L260.0,145.5L260.5,146.2L261.0,147.1L261.5,145.6L262.0,145.9L262.5,146.2L263.0,146.0L263.5,144.7L264.0,146.2L264.5,147.3L265.0,144.6L265.5,146.7L266.0,146.2L266.5,145.6L267.0,148.2L267.5,146.9L268.0,144.7L268.5,145.9L269.0,146.5L269.5,145.8L270.0,146.5L270.5,145.9L271.0,146.7L271.5,147.3L272.0,145.2L272.5,145.7L273.0,145.2L273.5,145.5L274.0,144.2L274.5,144.7L275.0,145.4L275.5,146.6L276.0,146.7L276.5,144.0L277.0,144.4L277.5,145.7L278.0,143.2L278.5,144.5L279.0,145.3L279.5,146.7L280.0,146.1L280.5,144.8L281.0,144.6L281.5,145.0L282.0,146.6L282.5,144.6L283.0,144.5L283.5,145.1L284.0,144.6L284.5,144.3L285.0,143.3L285.5,144.3L286.0,144.1L286.5,145.7L287.0,145.2L287.5,144.4L288.0,144.9L288.5,144.0L289.0,145.2L289.5,144.3L290.0,144.5L290.5,142.7L291.0,143.9L291.5,141.8L292.0,141.3L292.5,143.1L293.0,142.8L293.5,144.2L294.0,146.2L294.5,143.1L295.0,142.9L295.5,143.9L296.0,144.2L296.5,143.5L297.0,143.5L297.5,144.5L298.0,144.1L298.5,142.5L299.0,143.4L299.5,143.5L300.0,142.5L300.5,143.6L301.0,142.8L301.5,144.6L302.0,144.0L302.5,143.7L303.0,143.0L303.5,143.1L304.0,141.2L304.5,142.2L305.0,143.6L305.5,141.5L306.0,144.0L306.5,142.0L307.0,144.2L307.5,143.0L308.0,144.5L308.5,143.8L309.0,142.3L309.5,145.2L310.0,145.6L310.5,143.9L311.0,143.5L311.5,143.5L312.0,143.0L312.5,144.9L313.0,143.5L313.5,143.7L314.0,143.0L314.5,143.0L315.0,142.7L315.5,145.3L316.0,144.3L316.5,145.2L317.0,144.2L317.5,143.4L318.0,143.6L318.5,143.6L319.0,144.1L319.5,143.8L320.0,143.7L320.5,142.6L321.0,143.5L321.5,146.0L322.0,143.8L322.5,143.2L323.0,144.9L323.5,145.9L324.0,143.1L324.5,144.1L325.0,143.7L325.5,142.8L326.0,145.3L326.5,144.9L327.0,144.8L327.5,144.1L328.0,145.3L328.5,144.4L329.0,144.6L329.5,143.7L330.0,143.8L330.5,146.4L331.0,144.9L331.5,145.5L332.0,145.2L332.5,144.8L333.0,144.8L333.5,146.0L334.0,145.2L334.5,145.3L335.0,145.7L335.5,146.9L336.0,146.5L336.5,146.0L337.0,144.8L337.5,144.1L338.0,146.6L338.5,146.9L339.0,145.8L339.5,146.4L340.0,146.8L340.5,146.9L341.0,146.9L341.5,145.7L342.0,147.2L342.5,144.8L343.0,146.7L343.5,146.7L344.0,147.2L344.5,148.3L345.0,147.7L345.5,144.6L346.0,144.0L346.5,146.5L347.0,145.0L347.5,145.9L348.0,146.7L348.5,144.0L349.0,143.4L349.5,146.0L350.0,146.1L350.5,145.7L351.0,145.9L351.5,144.8L352.0,144.1L352.5,145.4L353.0,144.6L353.5,144.0L354.0,146.1L354.5,145.9L355.0,146.1L355.5,144.6L356.0,144.6L356.5,144.3L357.0,144.5L357.5,145.5L358.0,144.7L358.5,145.7L359.0,146.1L359.5,147.4L360.0,144.1L360.5,146.0L361.0,145.2L361.5,144.8L362.0,143.3L362.5,144.4L363.0,145.7L363.5,144.9L364.0,144.9L364.5,144.6L365.0,146.0L365.5,144.5L366.0,142.1L366.5,143.2L367.0,141.8L367.5,140.6L368.0,143.7L368.5,145.9L369.0,144.6L369.5,143.1L370.0,143.5L370.5,145.6L371.0,144.9L371.5,144.6L372.0,144.5L372.5,144.7L373.0,145.5L373.5,145.3L374.0,144.7L374.5,143.5L375.0,144.8L375.5,144.0L376.0,145.4L376.5,143.2L377.0,144.2L377.5,144.3L378.0,143.3L378.5,146.4L379.0,146.3L379.5,144.3L380.0,145.3L380.5,144.6L381.0,141.7L381.5,144.4L382.0,144.5L382.5,144.4L383.0,143.3L383.5,144.0L384.0,144.4L384.5,145.8L385.0,145.0L385.5,144.8L386.0,146.1L386.5,144.1L387.0,143.7L387.5,142.7L388.0,146.1L388.5,145.9L389.0,145.8L389.5,145.4L390.0,144.8L390.5,144.7L391.0,144.2L391.5,144.2L392.0,144.8L392.5,146.3L393.0,145.3L393.5,144.4L394.0,143.8L394.5,143.9L395.0,146.3L395.5,145.3L396.0,144.6L396.5,144.0L397.0,143.2L397.5,144.4L398.0,145.4L398.5,144.2L399.0,144.2L399.5,144.2L400.0,144.3L400.5,142.7L401.0,143.9L401.5,143.7L402.0,145.2L402.5,143.9L403.0,145.3L403.5,146.2L404.0,144.3L404.5,143.8L405.0,144.6L405.5,144.4L406.0,143.5L406.5,145.2L407.0,146.8L407.5,144.5L408.0,144.1L408.5,143.4L409.0,144.6L409.5,143.1L410.0,143.3L410.5,145.7L411.0,143.9L411.5,145.9L412.0,146.5L412.5,145.2L413.0,145.5L413.5,146.8L414.0,144.6L414.5,143.7L415.0,143.0L415.5,144.7L416.0,146.4L416.5,145.8L417.0,143.6L417.5,143.5L418.0,144.0L418.5,144.9L419.0,144.5L419.5,145.0L420.0,145.0L420.5,144.4L421.0,144.7L421.5,145.0L422.0,144.8L422.5,145.6L423.0,147.0L423.5,145.7L424.0,144.7L424.5,143.0L425.0,144.7L425.5,142.5L426.0,143.1L426.5,145.7L427.0,145.8L427.5,144.6L428.0,142.9L428.5,144.1L429.0,144.2L429.5,145.9L430.0,147.6L430.5,145.4L431.0,143.9L431.5,143.5L432.0,144.7L432.5,144.6L433.0,143.5" fill="none" stroke="#111" stroke-width="1.25" stroke-linejoin="round"/>
<path d="M242.5,131.7L243.0,130.6L243.5,132.8L244.0,133.0L244.5,132.7L245.0,131.1L245.5,131.8L246.0,131.2L246.5,130.8L247.0,130.6L247.5,129.5L248.0,129.5L248.5,131.7L249.0,131.0L249.5,131.4L250.0,131.8L250.5,129.2L251.0,129.9L251.5,131.1L252.0,131.3L252.5,130.7L253.0,132.0L253.5,131.1L254.0,129.5L254.5,129.8L255.0,131.6L255.5,131.2L256.0,129.1L256.5,132.1L257.0,131.8L257.5,132.2L258.0,130.5L258.5,130.2L259.0,129.9L259.5,133.2L260.0,131.1L260.5,132.2L261.0,130.2L261.5,130.5L262.0,128.8L262.5,130.0L263.0,131.3L263.5,129.4L264.0,131.4L264.5,130.7L265.0,129.2L265.5,129.5L266.0,129.7L266.5,130.0L267.0,129.4L267.5,129.0L268.0,129.4L268.5,128.6L269.0,128.3L269.5,129.7L270.0,130.4L270.5,128.1L271.0,129.2L271.5,128.6L272.0,128.3L272.5,129.9L273.0,128.9L273.5,130.4L274.0,128.3L274.5,128.9L275.0,128.2L275.5,127.6L276.0,128.7L276.5,128.0L277.0,128.5L277.5,127.6L278.0,126.3L278.5,127.1L279.0,127.3L279.5,127.9L280.0,126.0L280.5,126.2L281.0,124.7L281.5,126.5L282.0,124.6L282.5,123.6L283.0,125.3L283.5,126.1L284.0,123.3L284.5,123.2L285.0,123.3L285.5,122.9L286.0,124.0L286.5,122.7L287.0,122.5L287.5,123.5L288.0,122.2L288.5,122.8L289.0,121.2L289.5,120.5L290.0,120.1L290.5,123.5L291.0,121.6L291.5,121.6L292.0,121.3L292.5,121.2L293.0,121.2L293.5,122.6L294.0,119.5L294.5,118.4L295.0,118.8L295.5,118.7L296.0,120.8L296.5,120.9L297.0,118.9L297.5,118.3L298.0,119.7L298.5,121.1L299.0,117.4L299.5,120.2L300.0,119.4L300.5,121.2L301.0,119.5L301.5,120.0L302.0,119.0L302.5,119.8L303.0,122.5L303.5,122.2L304.0,120.8L304.5,120.1L305.0,119.3L305.5,120.9L306.0,121.6L306.5,121.7L307.0,121.7L307.5,120.9L308.0,122.0L308.5,122.5L309.0,124.1L309.5,124.7L310.0,122.7L310.5,122.0L311.0,122.7L311.5,122.3L312.0,122.3L312.5,123.0L313.0,122.5L313.5,124.1L314.0,123.8L314.5,124.1L315.0,123.7L315.5,123.2L316.0,123.1L316.5,123.9L317.0,123.9L317.5,124.8L318.0,124.6L318.5,123.5L319.0,124.8L319.5,123.7L320.0,124.5L320.5,124.8L321.0,123.4L321.5,125.6L322.0,126.0L322.5,125.8L323.0,125.6L323.5,125.6L324.0,125.2L324.5,125.9L325.0,125.9L325.5,126.4L326.0,125.4L326.5,126.8L327.0,127.0L327.5,126.7L328.0,126.6L328.5,127.3L329.0,125.5L329.5,127.5L330.0,127.6L330.5,127.7L331.0,127.7L331.5,126.7L332.0,127.2L332.5,128.2L333.0,128.1L333.5,127.6L334.0,126.1L334.5,128.1L335.0,129.1L335.5,128.9L336.0,127.8L336.5,126.1L337.0,128.3L337.5,127.2L338.0,124.9L338.5,127.4L339.0,125.8L339.5,125.8L340.0,126.8L340.5,128.7L341.0,127.3L341.5,127.9L342.0,129.5L342.5,129.3L343.0,127.4L343.5,126.8L344.0,125.8L344.5,126.4L345.0,127.6L345.5,127.7L346.0,127.4L346.5,128.0L347.0,126.3L347.5,126.9L348.0,127.7L348.5,127.7L349.0,128.0L349.5,127.2L350.0,126.4L350.5,126.7L351.0,125.1L351.5,124.5L352.0,126.5L352.5,126.1L353.0,126.0L353.5,124.0L354.0,125.0L354.5,124.7L355.0,124.1L355.5,122.7L356.0,124.5L356.5,125.8L357.0,125.0L357.5,123.7L358.0,124.1L358.5,124.2L359.0,120.6L359.5,122.7L360.0,123.5L360.5,123.5L361.0,124.2L361.5,123.2L362.0,121.8L362.5,121.3L363.0,121.2L363.5,119.4L364.0,119.4L364.5,120.2L365.0,120.7L365.5,118.1L366.0,117.5L366.5,117.5L367.0,118.0L367.5,116.5L368.0,117.0L368.5,114.2L369.0,114.2L369.5,113.9L370.0,114.5L370.5,114.0L371.0,110.8L371.5,110.7L372.0,111.4L372.5,109.8L373.0,108.5L373.5,110.5L374.0,109.7L374.5,108.9L375.0,107.5L375.5,108.2L376.0,106.7L376.5,107.1L377.0,104.6L377.5,104.0L378.0,104.5L378.5,103.3L379.0,104.0L379.5,103.1L380.0,101.4L380.5,101.6L381.0,101.0L381.5,101.5L382.0,99.5L382.5,99.1L383.0,100.5L383.5,101.3L384.0,100.4L384.5,97.8L385.0,97.5L385.5,98.2L386.0,96.1L386.5,94.7L387.0,95.4L387.5,95.3L388.0,93.5L388.5,92.2L389.0,92.2L389.5,94.0L390.0,92.6L390.5,92.8L391.0,93.0L391.5,93.1L392.0,92.0L392.5,92.3L393.0,90.8L393.5,90.9L394.0,90.3L394.5,92.2L395.0,91.0L395.5,90.0L396.0,90.2L396.5,90.4L397.0,90.9L397.5,88.6L398.0,88.8L398.5,89.9L399.0,92.8L399.5,91.4L400.0,90.1L400.5,91.0L401.0,92.3L401.5,90.0L402.0,89.8L402.5,91.4L403.0,91.0L403.5,90.9L404.0,90.1L404.5,92.6L405.0,92.6L405.5,91.4L406.0,91.1L406.5,88.8L407.0,91.3L407.5,91.1L408.0,91.8L408.5,92.2L409.0,91.2L409.5,90.1L410.0,92.0L410.5,91.4L411.0,91.7L411.5,91.6L412.0,91.7L412.5,90.3L413.0,93.7L413.5,93.5L414.0,94.5L414.5,95.4L415.0,93.2L415.5,91.3L416.0,92.0L416.5,92.1L417.0,93.0L417.5,93.5L418.0,91.8L418.5,93.8L419.0,92.6L419.5,94.3L420.0,94.2L420.5,94.1L421.0,94.3L421.5,94.0L422.0,93.8L422.5,93.0L423.0,95.0L423.5,97.4L424.0,97.8L424.5,97.1L425.0,96.1L425.5,94.9L426.0,96.8L426.5,95.5L427.0,95.3L427.5,95.1L428.0,95.4L428.5,95.0L429.0,95.1L429.5,94.2L430.0,95.2L430.5,97.8L431.0,95.7L431.5,95.3L432.0,96.1L432.5,96.2L433.0,94.3" fill="none" stroke="#e81818" stroke-width="1.25" stroke-linejoin="round"/>
<path d="M242.5,109.3L243.0,110.3L243.5,109.7L244.0,109.7L244.5,110.8L245.0,108.7L245.5,109.1L246.0,108.8L246.5,110.3L247.0,107.2L247.5,108.0L248.0,108.5L248.5,109.7L249.0,109.9L249.5,110.3L250.0,107.7L250.5,109.5L251.0,108.7L251.5,108.3L252.0,109.3L252.5,107.8L253.0,106.7L253.5,108.1L254.0,107.3L254.5,108.2L255.0,109.3L255.5,109.6L256.0,110.7L256.5,108.8L257.0,107.3L257.5,107.9L258.0,107.8L258.5,107.7L259.0,109.2L259.5,108.1L260.0,107.0L260.5,109.4L261.0,109.0L261.5,109.4L262.0,109.2L262.5,109.6L263.0,109.2L263.5,110.3L264.0,109.6L264.5,109.4L265.0,109.1L265.5,107.3L266.0,108.4L266.5,108.5L267.0,108.7L267.5,107.5L268.0,110.1L268.5,108.7L269.0,107.0L269.5,106.5L270.0,107.9L270.5,108.1L271.0,107.5L271.5,108.0L272.0,107.3L272.5,108.1L273.0,106.8L273.5,107.2L274.0,108.4L274.5,109.4L275.0,105.8L275.5,105.5L276.0,105.2L276.5,106.3L277.0,104.3L277.5,104.5L278.0,104.6L278.5,103.4L279.0,103.0L279.5,102.9L280.0,101.0L280.5,101.1L281.0,101.9L281.5,102.0L282.0,101.0L282.5,98.9L283.0,99.6L283.5,100.5L284.0,99.7L284.5,98.3L285.0,97.0L285.5,97.6L286.0,95.9L286.5,94.5L287.0,94.5L287.5,96.0L288.0,94.5L288.5,94.5L289.0,92.5L289.5,92.9L290.0,91.0L290.5,91.0L291.0,93.0L291.5,90.8L292.0,88.7L292.5,88.5L293.0,88.6L293.5,88.8L294.0,86.6L294.5,84.9L295.0,86.0L295.5,86.3L296.0,86.3L296.5,87.2L297.0,86.3L297.5,86.3L298.0,84.6L298.5,86.6L299.0,88.2L299.5,87.2L300.0,86.7L300.5,87.0L301.0,88.7L301.5,86.6L302.0,87.6L302.5,88.9L303.0,89.5L303.5,88.9L304.0,89.9L304.5,89.9L305.0,90.6L305.5,90.6L306.0,90.0L306.5,91.4L307.0,92.5L307.5,91.1L308.0,92.0L308.5,93.1L309.0,91.9L309.5,93.1L310.0,92.6L310.5,95.2L311.0,97.0L311.5,96.9L312.0,95.0L312.5,95.9L313.0,95.8L313.5,96.2L314.0,97.6L314.5,95.5L315.0,97.7L315.5,97.4L316.0,98.8L316.5,97.9L317.0,97.2L317.5,98.4L318.0,99.2L318.5,98.8L319.0,99.2L319.5,98.2L320.0,97.0L320.5,100.1L321.0,100.5L321.5,100.0L322.0,100.2L322.5,101.2L323.0,99.9L323.5,99.6L324.0,100.5L324.5,101.7L325.0,99.7L325.5,101.8L326.0,100.3L326.5,100.0L327.0,102.2L327.5,101.1L328.0,99.8L328.5,100.9L329.0,102.5L329.5,102.8L330.0,101.3L330.5,102.0L331.0,102.3L331.5,101.1L332.0,102.0L332.5,101.7L333.0,101.1L333.5,101.2L334.0,101.8L334.5,101.8L335.0,101.2L335.5,101.4L336.0,102.9L336.5,102.3L337.0,102.9L337.5,103.2L338.0,102.9L338.5,104.1L339.0,101.3L339.5,102.4L340.0,101.7L340.5,103.8L341.0,103.4L341.5,99.7L342.0,100.4L342.5,102.2L343.0,102.6L343.5,102.4L344.0,101.6L344.5,102.0L345.0,102.1L345.5,101.5L346.0,102.0L346.5,99.0L347.0,101.2L347.5,100.0L348.0,101.5L348.5,100.3L349.0,99.5L349.5,100.3L350.0,99.0L350.5,98.5L351.0,97.8L351.5,99.2L352.0,99.8L352.5,100.0L353.0,98.8L353.5,99.4L354.0,98.2L354.5,97.8L355.0,98.2L355.5,98.3L356.0,96.6L356.5,96.2L357.0,96.0L357.5,95.8L358.0,94.7L358.5,96.0L359.0,94.6L359.5,94.7L360.0,93.3L360.5,93.9L361.0,93.6L361.5,92.7L362.0,94.4L362.5,92.8L363.0,93.4L363.5,92.1L364.0,89.9L364.5,89.6L365.0,89.9L365.5,89.1L366.0,88.5L366.5,87.4L367.0,85.5L367.5,86.1L368.0,84.0L368.5,85.7L369.0,84.4L369.5,83.7L370.0,83.7L370.5,83.5L371.0,81.1L371.5,80.0L372.0,79.9L372.5,78.4L373.0,79.1L373.5,80.9L374.0,78.1L374.5,78.6L375.0,76.4L375.5,77.2L376.0,76.3L376.5,76.0L377.0,76.3L377.5,76.8L378.0,74.8L378.5,73.8L379.0,72.4L379.5,73.2L380.0,72.1L380.5,72.5L381.0,71.4L381.5,72.0L382.0,68.1L382.5,68.9L383.0,69.6L383.5,67.9L384.0,66.8L384.5,66.7L385.0,65.3L385.5,66.7L386.0,68.7L386.5,66.9L387.0,64.1L387.5,63.7L388.0,64.1L388.5,65.0L389.0,63.0L389.5,62.8L390.0,64.2L390.5,64.0L391.0,62.4L391.5,61.2L392.0,60.6L392.5,61.0L393.0,59.8L393.5,62.3L394.0,61.3L394.5,62.3L395.0,63.7L395.5,62.7L396.0,60.3L396.5,62.0L397.0,62.2L397.5,60.2L398.0,59.7L398.5,60.2L399.0,59.2L399.5,61.6L400.0,58.2L400.5,59.1L401.0,60.2L401.5,60.4L402.0,60.9L402.5,61.1L403.0,60.9L403.5,61.9L404.0,59.0L404.5,60.8L405.0,60.6L405.5,61.5L406.0,61.7L406.5,60.7L407.0,61.2L407.5,62.9L408.0,62.6L408.5,62.1L409.0,65.0L409.5,65.2L410.0,61.8L410.5,63.5L411.0,65.9L411.5,64.4L412.0,63.6L412.5,63.1L413.0,62.8L413.5,63.2L414.0,63.1L414.5,64.3L415.0,63.4L415.5,63.2L416.0,62.7L416.5,63.8L417.0,63.3L417.5,64.2L418.0,65.6L418.5,65.2L419.0,65.4L419.5,65.3L420.0,65.1L420.5,64.9L421.0,65.0L421.5,66.0L422.0,64.7L422.5,66.9L423.0,65.9L423.5,65.0L424.0,65.2L424.5,65.2L425.0,66.0L425.5,65.4L426.0,67.0L426.5,65.0L427.0,63.4L427.5,64.6L428.0,63.8L428.5,65.8L429.0,67.2L429.5,66.6L430.0,64.5L430.5,65.2L431.0,67.7L431.5,66.5L432.0,66.1L432.5,67.3L433.0,68.8" fill="none" stroke="#1010e0" stroke-width="1.25" stroke-linejoin="round"/>
<path d="M242.5,81.4L243.0,80.3L243.5,80.4L244.0,80.6L244.5,79.4L245.0,78.9L245.5,79.8L246.0,79.1L246.5,79.8L247.0,80.4L247.5,82.1L248.0,79.5L248.5,79.8L249.0,79.9L249.5,80.5L250.0,81.0L250.5,79.6L251.0,79.0L251.5,78.3L252.0,79.2L252.5,80.7L253.0,80.4L253.5,79.5L254.0,80.1L254.5,80.8L255.0,81.2L255.5,80.3L256.0,80.4L256.5,79.1L257.0,80.0L257.5,82.4L258.0,79.4L258.5,80.8L259.0,81.6L259.5,81.1L260.0,80.7L260.5,81.3L261.0,81.5L261.5,81.2L262.0,79.6L262.5,80.9L263.0,80.5L263.5,80.8L264.0,81.6L264.5,82.1L265.0,82.2L265.5,81.0L266.0,82.1L266.5,82.5L267.0,82.4L267.5,82.3L268.0,80.7L268.5,80.4L269.0,80.9L269.5,79.0L270.0,80.0L270.5,79.3L271.0,79.0L271.5,77.6L272.0,78.1L272.5,78.9L273.0,79.6L273.5,79.4L274.0,78.1L274.5,77.5L275.0,76.7L275.5,77.5L276.0,76.8L276.5,77.4L277.0,78.0L277.5,75.9L278.0,74.0L278.5,74.0L279.0,73.2L279.5,73.4L280.0,75.3L280.5,74.1L281.0,72.2L281.5,73.9L282.0,74.2L282.5,72.4L283.0,71.6L283.5,71.6L284.0,72.0L284.5,72.0L285.0,72.2L285.5,71.7L286.0,71.1L286.5,70.5L287.0,68.8L287.5,66.0L288.0,66.4L288.5,66.2L289.0,65.0L289.5,65.2L290.0,63.5L290.5,62.5L291.0,64.0L291.5,63.0L292.0,62.1L292.5,62.3L293.0,62.2L293.5,60.9L294.0,58.2L294.5,59.3L295.0,59.5L295.5,59.1L296.0,60.1L296.5,61.0L297.0,59.3L297.5,58.9L298.0,61.5L298.5,59.4L299.0,58.5L299.5,59.8L300.0,60.0L300.5,59.2L301.0,60.4L301.5,59.5L302.0,59.3L302.5,60.6L303.0,61.4L303.5,60.5L304.0,61.4L304.5,61.8L305.0,64.3L305.5,61.8L306.0,63.4L306.5,62.5L307.0,62.6L307.5,63.7L308.0,64.3L308.5,64.8L309.0,64.1L309.5,63.3L310.0,63.7L310.5,64.9L311.0,65.5L311.5,66.4L312.0,65.9L312.5,66.7L313.0,67.3L313.5,66.1L314.0,64.6L314.5,64.9L315.0,65.4L315.5,68.2L316.0,66.9L316.5,68.8L317.0,68.9L317.5,70.2L318.0,69.9L318.5,69.1L319.0,69.2L319.5,69.8L320.0,70.1L320.5,69.8L321.0,70.7L321.5,72.1L322.0,69.7L322.5,71.3L323.0,70.8L323.5,72.0L324.0,72.9L324.5,72.4L325.0,73.0L325.5,71.4L326.0,73.7L326.5,72.7L327.0,73.8L327.5,73.4L328.0,71.1L328.5,72.8L329.0,74.3L329.5,75.6L330.0,74.7L330.5,74.4L331.0,73.3L331.5,76.0L332.0,76.6L332.5,75.0L333.0,74.4L333.5,73.4L334.0,75.9L334.5,77.8L335.0,76.2L335.5,76.4L336.0,75.6L336.5,74.3L337.0,76.0L337.5,74.0L338.0,74.7L338.5,75.4L339.0,75.9L339.5,75.6L340.0,75.3L340.5,74.1L341.0,73.6L341.5,74.7L342.0,74.0L342.5,73.2L343.0,73.2L343.5,73.6L344.0,72.4L344.5,72.5L345.0,72.5L345.5,74.1L346.0,74.7L346.5,75.7L347.0,72.6L347.5,73.1L348.0,74.5L348.5,73.5L349.0,73.4L349.5,75.0L350.0,73.0L350.5,71.9L351.0,71.7L351.5,73.1L352.0,72.9L352.5,71.2L353.0,71.3L353.5,72.6L354.0,72.5L354.5,71.3L355.0,72.1L355.5,71.6L356.0,69.2L356.5,70.0L357.0,70.3L357.5,68.8L358.0,66.9L358.5,68.1L359.0,68.9L359.5,68.8L360.0,65.4L360.5,68.6L361.0,65.3L361.5,66.3L362.0,66.3L362.5,65.4L363.0,63.8L363.5,62.1L364.0,62.9L364.5,61.0L365.0,59.1L365.5,63.1L366.0,61.3L366.5,61.1L367.0,58.2L367.5,59.5L368.0,59.2L368.5,58.3L369.0,55.9L369.5,53.9L370.0,53.8L370.5,51.3L371.0,51.0L371.5,51.9L372.0,50.5L372.5,50.5L373.0,50.3L373.5,51.5L374.0,50.3L374.5,48.4L375.0,48.5L375.5,46.1L376.0,45.7L376.5,45.9L377.0,43.3L377.5,43.1L378.0,41.5L378.5,42.2L379.0,42.6L379.5,39.9L380.0,39.5L380.5,37.7L381.0,36.5L381.5,35.9L382.0,37.7L382.5,37.9L383.0,35.2L383.5,33.1L384.0,33.2L384.5,31.6L385.0,31.6L385.5,30.3L386.0,29.4L386.5,28.7L387.0,26.7L387.5,25.7L388.0,23.8L388.5,24.2L389.0,23.1L389.5,23.7L390.0,22.8L390.5,23.5L391.0,23.4L391.5,21.4L392.0,21.4L392.5,21.3L393.0,22.6L393.5,23.3L394.0,22.2L394.5,20.8L395.0,21.7L395.5,19.2L396.0,21.2L396.5,18.9L397.0,17.1L397.5,21.6L398.0,20.7L398.5,18.0L399.0,18.5L399.5,18.2L400.0,18.1L400.5,16.6L401.0,17.1L401.5,18.2L402.0,18.1L402.5,18.8L403.0,18.1L403.5,19.8L404.0,17.3L404.5,17.6L405.0,15.9L405.5,16.6L406.0,19.0L406.5,17.5L407.0,18.7L407.5,18.3L408.0,17.6L408.5,18.4L409.0,18.6L409.5,19.1L410.0,20.5L410.5,20.7L411.0,19.7L411.5,19.7L412.0,21.0L412.5,21.2L413.0,22.7L413.5,24.4L414.0,23.0L414.5,22.1L415.0,22.0L415.5,21.5L416.0,21.6L416.5,21.8L417.0,22.5L417.5,22.9L418.0,24.0L418.5,23.3L419.0,23.3L419.5,22.9L420.0,25.5L420.5,25.1L421.0,26.1L421.5,25.6L422.0,26.0L422.5,24.7L423.0,25.8L423.5,27.4L424.0,24.3L424.5,26.2L425.0,26.8L425.5,25.7L426.0,26.0L426.5,26.2L427.0,24.6L427.5,25.2L428.0,24.1L428.5,24.1L429.0,24.3L429.5,24.8L430.0,25.2L430.5,25.3L431.0,23.9L431.5,26.8L432.0,26.4L432.5,25.7L433.0,24.5" fill="none" stroke="#178a80" stroke-width="1.25" stroke-linejoin="round"/>
<line x1="298.5" y1="12" x2="298.5" y2="51" stroke="#333" stroke-width="0.7" stroke-dasharray="1.2,1.2"/>
<line x1="401.5" y1="10" x2="401.5" y2="46" stroke="#333" stroke-width="0.7" stroke-dasharray="1.2,1.2"/>
<line x1="305.0" y1="34.5" x2="394.5" y2="34.5" stroke="#222" stroke-width="0.8"/>
<path d="M398.00,34.50 L394.00,35.90 L394.00,33.10 Z" fill="#222"/>
<path d="M301.00,34.50 L305.00,35.90 L305.00,33.10 Z" fill="#222"/>
<text x="288.3" y="57.5" font-size="8.85" text-anchor="start" fill="#333" stroke="#333" stroke-width="0.22" textLength="29.43" lengthAdjust="spacingAndGlyphs">641.2eV</text>
<text x="389.2" y="54.2" font-size="8.74" text-anchor="start" fill="#333" stroke="#333" stroke-width="0.22" textLength="29.06" lengthAdjust="spacingAndGlyphs">655.2eV</text>
<text x="407.5" y="17.5" font-size="7.3" text-anchor="start" fill="#111" font-weight="bold" letter-spacing="0.35">Mn 2p</text>
<text x="243.7" y="69" font-size="8.51" text-anchor="start" fill="#383838" stroke="#383838" stroke-width="0.22" textLength="43.08" lengthAdjust="spacingAndGlyphs">15%Mn-ZnO</text>
<text x="244.8" y="100.6" font-size="8.29" text-anchor="start" fill="#383838" textLength="41.95" lengthAdjust="spacingAndGlyphs">10%Mn-ZnO</text>
<text x="243.9" y="124.7" font-size="8.51" text-anchor="start" fill="#383838" stroke="#383838" stroke-width="0.22" textLength="38.85" lengthAdjust="spacingAndGlyphs">5%Mn-ZnO</text>
<text x="248.1" y="143.3" font-size="8.06" text-anchor="start" fill="#111" font-weight="bold" textLength="14.40" lengthAdjust="spacingAndGlyphs">ZnO</text>
<text x="0.2" y="191.9" font-size="13.3" text-anchor="start" fill="#111" stroke="#111" stroke-width="0.22">c</text>
<rect x="22.5" y="188.5" width="191" height="147" fill="none" stroke="#7c7c7c" stroke-width="1"/>
<line x1="37.0" y1="335.5" x2="37.0" y2="333.3" stroke="#7c7c7c" stroke-width="0.8"/>
<line x1="51.8" y1="335.5" x2="51.8" y2="334.3" stroke="#7c7c7c" stroke-width="0.8"/>
<line x1="66.6" y1="335.5" x2="66.6" y2="333.3" stroke="#7c7c7c" stroke-width="0.8"/>
<line x1="81.4" y1="335.5" x2="81.4" y2="334.3" stroke="#7c7c7c" stroke-width="0.8"/>
<line x1="96.2" y1="335.5" x2="96.2" y2="333.3" stroke="#7c7c7c" stroke-width="0.8"/>
<line x1="111.0" y1="335.5" x2="111.0" y2="334.3" stroke="#7c7c7c" stroke-width="0.8"/>
<line x1="125.80000000000001" y1="335.5" x2="125.80000000000001" y2="333.3" stroke="#7c7c7c" stroke-width="0.8"/>
<line x1="140.60000000000002" y1="335.5" x2="140.60000000000002" y2="334.3" stroke="#7c7c7c" stroke-width="0.8"/>
<line x1="155.4" y1="335.5" x2="155.4" y2="333.3" stroke="#7c7c7c" stroke-width="0.8"/>
<line x1="170.20000000000002" y1="335.5" x2="170.20000000000002" y2="334.3" stroke="#7c7c7c" stroke-width="0.8"/>
<line x1="185.0" y1="335.5" x2="185.0" y2="333.3" stroke="#7c7c7c" stroke-width="0.8"/>
<line x1="199.8" y1="335.5" x2="199.8" y2="334.3" stroke="#7c7c7c" stroke-width="0.8"/>
<text x="37.0" y="345.5" font-size="8.62" text-anchor="middle" fill="#333" stroke="#333" stroke-width="0.22" textLength="12.85" lengthAdjust="spacingAndGlyphs">394</text>
<text x="66.6" y="345.5" font-size="8.62" text-anchor="middle" fill="#333" stroke="#333" stroke-width="0.22" textLength="12.85" lengthAdjust="spacingAndGlyphs">396</text>
<text x="96.2" y="345.5" font-size="8.62" text-anchor="middle" fill="#333" stroke="#333" stroke-width="0.22" textLength="12.85" lengthAdjust="spacingAndGlyphs">398</text>
<text x="125.80000000000001" y="345.5" font-size="8.62" text-anchor="middle" fill="#333" stroke="#333" stroke-width="0.22" textLength="12.85" lengthAdjust="spacingAndGlyphs">400</text>
<text x="155.4" y="345.5" font-size="8.62" text-anchor="middle" fill="#333" stroke="#333" stroke-width="0.22" textLength="12.85" lengthAdjust="spacingAndGlyphs">402</text>
<text x="185.0" y="345.5" font-size="8.62" text-anchor="middle" fill="#333" stroke="#333" stroke-width="0.22" textLength="12.85" lengthAdjust="spacingAndGlyphs">404</text>
<text x="214.60000000000002" y="345.5" font-size="8.62" text-anchor="middle" fill="#333" stroke="#333" stroke-width="0.22" textLength="12.85" lengthAdjust="spacingAndGlyphs">406</text>
<text x="119.7" y="357.8" font-size="10.9" text-anchor="middle" fill="#222" stroke="#222" stroke-width="0.22">Binding Energy (eV)</text>
<text x="10.9" y="254.55" font-size="10.66" text-anchor="middle" fill="#222" transform="rotate(-90 10.9 254.55)" stroke="#222" stroke-width="0.22">Intensity</text>
<path d="M22.5,331.2L23.0,331.1L23.5,331.1L24.0,331.2L24.5,331.3L25.0,331.4L25.5,331.4L26.0,331.3L26.5,331.3L27.0,331.2L27.5,331.1L28.0,331.1L28.5,331.0L29.0,331.0L29.5,330.9L30.0,330.8L30.5,330.8L31.0,330.8L31.5,330.8L32.0,330.7L32.5,330.5L33.0,330.3L33.5,330.0L34.0,329.7L34.5,329.6L35.0,329.6L35.5,329.7L36.0,329.9L36.5,330.1L37.0,330.3L37.5,330.5L38.0,330.7L38.5,330.9L39.0,330.9L39.5,330.8L40.0,330.7L40.5,330.7L41.0,330.8L41.5,330.8L42.0,330.7L42.5,330.5L43.0,330.4L43.5,330.4L44.0,330.4L44.5,330.2L45.0,330.1L45.5,330.1L46.0,330.1L46.5,330.1L47.0,329.9L47.5,329.6L48.0,329.4L48.5,329.3L49.0,329.4L49.5,329.7L50.0,330.1L50.5,330.4L51.0,330.7L51.5,330.9L52.0,331.0L52.5,331.0L53.0,330.8L53.5,330.6L54.0,330.3L54.5,330.0L55.0,329.7L55.5,329.4L56.0,329.2L56.5,329.0L57.0,329.0L57.5,328.9L58.0,328.9L58.5,329.0L59.0,329.1L59.5,329.2L60.0,329.3L60.5,329.4L61.0,329.4L61.5,329.5L62.0,329.6L62.5,329.8L63.0,329.8L63.5,329.8L64.0,329.8L64.5,329.8L65.0,329.7L65.5,329.5L66.0,329.2L66.5,328.9L67.0,328.6L67.5,328.5L68.0,328.5L68.5,328.7L69.0,328.9L69.5,329.1L70.0,329.3L70.5,329.5L71.0,329.7L71.5,329.8L72.0,330.0L72.5,330.0L73.0,329.9L73.5,329.7L74.0,329.5L74.5,329.5L75.0,329.5L75.5,329.6L76.0,329.6L76.5,329.6L77.0,329.6L77.5,329.4L78.0,329.3L78.5,329.2L79.0,329.2L79.5,329.4L80.0,329.5L80.5,329.5L81.0,329.4L81.5,329.4L82.0,329.6L82.5,329.8L83.0,330.1L83.5,330.3L84.0,330.3L84.5,330.0L85.0,329.6L85.5,329.2L86.0,328.8L86.5,328.5L87.0,328.2L87.5,328.1L88.0,328.0L88.5,328.0L89.0,328.0L89.5,328.0L90.0,328.0L90.5,327.8L91.0,327.7L91.5,327.6L92.0,327.5L92.5,327.5L93.0,327.4L93.5,327.3L94.0,327.3L94.5,327.3L95.0,327.4L95.5,327.6L96.0,327.7L96.5,327.7L97.0,327.5L97.5,327.1L98.0,326.5L98.5,326.0L99.0,325.6L99.5,325.4L100.0,325.5L100.5,325.5L101.0,325.5L101.5,325.3L102.0,325.2L102.5,325.0L103.0,324.8L103.5,324.7L104.0,324.5L104.5,324.4L105.0,324.5L105.5,324.6L106.0,324.8L106.5,324.9L107.0,324.8L107.5,324.5L108.0,324.2L108.5,324.0L109.0,324.0L109.5,324.0L110.0,324.0L110.5,324.1L111.0,324.2L111.5,324.4L112.0,324.6L112.5,324.7L113.0,324.8L113.5,324.8L114.0,324.8L114.5,324.8L115.0,324.7L115.5,324.4L116.0,324.2L116.5,323.9L117.0,323.7L117.5,323.6L118.0,323.6L118.5,323.6L119.0,323.6L119.5,323.5L120.0,323.4L120.5,323.3L121.0,323.2L121.5,323.2L122.0,323.2L122.5,323.1L123.0,323.1L123.5,323.2L124.0,323.3L124.5,323.4L125.0,323.5L125.5,323.6L126.0,323.7L126.5,323.8L127.0,323.9L127.5,324.1L128.0,324.1L128.5,324.1L129.0,324.2L129.5,324.3L130.0,324.6L130.5,324.9L131.0,325.2L131.5,325.3L132.0,325.5L132.5,325.8L133.0,326.1L133.5,326.2L134.0,326.1L134.5,325.8L135.0,325.6L135.5,325.5L136.0,325.8L136.5,326.2L137.0,326.7L137.5,327.0L138.0,327.3L138.5,327.4L139.0,327.6L139.5,327.6L140.0,327.6L140.5,327.6L141.0,327.6L141.5,327.6L142.0,327.6L142.5,327.6L143.0,327.6L143.5,327.6L144.0,327.5L144.5,327.6L145.0,327.8L145.5,328.1L146.0,328.4L146.5,328.6L147.0,328.7L147.5,328.7L148.0,328.8L148.5,329.0L149.0,329.1L149.5,329.0L150.0,328.8L150.5,328.5L151.0,328.3L151.5,328.2L152.0,328.2L152.5,328.2L153.0,328.2L153.5,328.1L154.0,328.0L154.5,327.9L155.0,328.0L155.5,328.2L156.0,328.3L156.5,328.5L157.0,328.6L157.5,328.7L158.0,328.9L158.5,329.1L159.0,329.3L159.5,329.5L160.0,329.7L160.5,329.8L161.0,330.0L161.5,330.2L162.0,330.3L162.5,330.3L163.0,330.2L163.5,330.2L164.0,330.2L164.5,330.3L165.0,330.5L165.5,330.7L166.0,330.9L166.5,331.0L167.0,331.0L167.5,330.8L168.0,330.6L168.5,330.4L169.0,330.4L169.5,330.5L170.0,330.5L170.5,330.4L171.0,330.2L171.5,330.1L172.0,329.9L172.5,329.8L173.0,329.7L173.5,329.6L174.0,329.6L174.5,329.8L175.0,329.9L175.5,330.0L176.0,330.1L176.5,330.0L177.0,329.9L177.5,329.7L178.0,329.6L178.5,329.7L179.0,329.9L179.5,330.3L180.0,330.7L180.5,331.1L181.0,331.3L181.5,331.2L182.0,331.0L182.5,330.9L183.0,331.0L183.5,331.1L184.0,331.3L184.5,331.4L185.0,331.5L185.5,331.5L186.0,331.4L186.5,331.3L187.0,331.2L187.5,331.1L188.0,331.1L188.5,331.1L189.0,331.2L189.5,331.2L190.0,331.2L190.5,331.1L191.0,331.0L191.5,330.9L192.0,330.7L192.5,330.5L193.0,330.3L193.5,330.4L194.0,330.6L194.5,330.9L195.0,331.0L195.5,331.0L196.0,330.9L196.5,331.0L197.0,331.0L197.5,331.0L198.0,330.9L198.5,330.6L199.0,330.4L199.5,330.1L200.0,329.8L200.5,329.7L201.0,329.7L201.5,329.9L202.0,330.0L202.5,330.2L203.0,330.5L203.5,330.7L204.0,331.0L204.5,331.1L205.0,331.0L205.5,330.9L206.0,330.6L206.5,330.5L207.0,330.4L207.5,330.4L208.0,330.4L208.5,330.4L209.0,330.4L209.5,330.2L210.0,330.0L210.5,329.8L211.0,329.7L211.5,329.6L212.0,329.6L212.5,329.6L213.0,329.6" fill="none" stroke="#111" stroke-width="1.2" stroke-linejoin="round"/>
<path d="M22.5,315.5L23.0,315.6L23.5,315.7L24.0,315.7L24.5,315.6L25.0,315.5L25.5,315.4L26.0,315.2L26.5,315.2L27.0,315.2L27.5,315.3L28.0,315.3L28.5,315.2L29.0,315.0L29.5,314.8L30.0,314.8L30.5,314.8L31.0,314.8L31.5,314.8L32.0,314.7L32.5,314.5L33.0,314.1L33.5,313.8L34.0,313.7L34.5,313.7L35.0,313.7L35.5,313.7L36.0,313.7L36.5,313.8L37.0,314.0L37.5,314.0L38.0,314.0L38.5,313.9L39.0,313.8L39.5,313.7L40.0,313.7L40.5,313.7L41.0,313.7L41.5,313.8L42.0,313.9L42.5,314.0L43.0,314.0L43.5,313.9L44.0,313.8L44.5,313.8L45.0,314.0L45.5,314.2L46.0,314.4L46.5,314.4L47.0,314.4L47.5,314.3L48.0,314.3L48.5,314.3L49.0,314.1L49.5,313.7L50.0,313.3L50.5,313.0L51.0,312.8L51.5,312.7L52.0,312.8L52.5,312.9L53.0,313.1L53.5,313.4L54.0,313.7L54.5,313.9L55.0,314.0L55.5,314.1L56.0,314.0L56.5,314.0L57.0,314.1L57.5,314.1L58.0,314.1L58.5,314.1L59.0,314.2L59.5,314.4L60.0,314.6L60.5,314.7L61.0,314.5L61.5,314.1L62.0,313.8L62.5,313.7L63.0,313.8L63.5,314.0L64.0,313.9L64.5,313.6L65.0,313.2L65.5,312.8L66.0,312.7L66.5,312.7L67.0,312.8L67.5,312.9L68.0,313.1L68.5,313.2L69.0,313.2L69.5,313.1L70.0,312.9L70.5,312.7L71.0,312.6L71.5,312.6L72.0,312.8L72.5,312.9L73.0,313.1L73.5,313.2L74.0,313.4L74.5,313.5L75.0,313.6L75.5,313.7L76.0,313.6L76.5,313.4L77.0,313.3L77.5,313.4L78.0,313.7L78.5,314.0L79.0,314.0L79.5,313.9L80.0,313.6L80.5,313.3L81.0,313.2L81.5,313.1L82.0,313.1L82.5,313.1L83.0,312.9L83.5,312.7L84.0,312.4L84.5,312.2L85.0,312.1L85.5,312.3L86.0,312.5L86.5,312.8L87.0,313.0L87.5,313.0L88.0,312.8L88.5,312.3L89.0,311.9L89.5,311.6L90.0,311.5L90.5,311.5L91.0,311.6L91.5,311.8L92.0,312.0L92.5,312.0L93.0,312.0L93.5,311.8L94.0,311.5L94.5,311.2L95.0,310.8L95.5,310.2L96.0,309.6L96.5,309.0L97.0,308.6L97.5,308.3L98.0,308.2L98.5,307.9L99.0,307.4L99.5,306.7L100.0,306.0L100.5,305.2L101.0,304.5L101.5,303.8L102.0,303.1L102.5,302.5L103.0,301.8L103.5,301.1L104.0,300.5L104.5,300.1L105.0,299.9L105.5,299.7L106.0,299.3L106.5,298.8L107.0,298.3L107.5,297.8L108.0,297.5L108.5,297.2L109.0,296.9L109.5,296.7L110.0,296.7L110.5,296.6L111.0,296.5L111.5,296.2L112.0,295.9L112.5,295.5L113.0,295.2L113.5,294.9L114.0,294.8L114.5,294.8L115.0,295.1L115.5,295.4L116.0,295.6L116.5,295.7L117.0,295.8L117.5,295.9L118.0,296.0L118.5,296.0L119.0,296.1L119.5,296.1L120.0,296.2L120.5,296.4L121.0,296.8L121.5,297.2L122.0,297.7L122.5,298.2L123.0,298.7L123.5,299.2L124.0,299.7L124.5,300.5L125.0,301.3L125.5,302.1L126.0,302.8L126.5,303.3L127.0,303.6L127.5,303.9L128.0,304.4L128.5,304.9L129.0,305.5L129.5,306.0L130.0,306.3L130.5,306.5L131.0,306.7L131.5,307.2L132.0,307.9L132.5,308.7L133.0,309.3L133.5,309.6L134.0,309.9L134.5,310.2L135.0,310.5L135.5,310.9L136.0,311.2L136.5,311.5L137.0,311.7L137.5,311.9L138.0,312.1L138.5,312.2L139.0,312.2L139.5,312.1L140.0,312.0L140.5,312.1L141.0,312.3L141.5,312.5L142.0,312.7L142.5,313.0L143.0,313.3L143.5,313.6L144.0,313.8L144.5,314.0L145.0,314.1L145.5,314.0L146.0,313.9L146.5,313.7L147.0,313.4L147.5,313.1L148.0,312.8L148.5,312.5L149.0,312.3L149.5,312.2L150.0,312.3L150.5,312.6L151.0,312.9L151.5,313.2L152.0,313.4L152.5,313.3L153.0,313.2L153.5,312.9L154.0,312.7L154.5,312.7L155.0,312.7L155.5,312.8L156.0,312.8L156.5,312.9L157.0,313.1L157.5,313.5L158.0,313.8L158.5,313.9L159.0,313.7L159.5,313.3L160.0,312.8L160.5,312.6L161.0,312.7L161.5,312.9L162.0,313.2L162.5,313.5L163.0,313.7L163.5,313.8L164.0,313.9L164.5,313.8L165.0,313.6L165.5,313.4L166.0,313.2L166.5,313.0L167.0,312.9L167.5,313.0L168.0,313.4L168.5,313.9L169.0,314.3L169.5,314.4L170.0,314.3L170.5,314.0L171.0,313.8L171.5,313.7L172.0,313.8L172.5,313.9L173.0,313.9L173.5,314.0L174.0,314.0L174.5,314.1L175.0,314.2L175.5,314.4L176.0,314.5L176.5,314.5L177.0,314.5L177.5,314.6L178.0,314.8L178.5,315.1L179.0,315.3L179.5,315.1L180.0,314.8L180.5,314.3L181.0,313.9L181.5,313.8L182.0,313.8L182.5,313.7L183.0,313.7L183.5,313.5L184.0,313.5L184.5,313.5L185.0,313.7L185.5,313.9L186.0,314.0L186.5,314.0L187.0,314.0L187.5,314.1L188.0,314.4L188.5,314.8L189.0,315.0L189.5,314.9L190.0,314.7L190.5,314.7L191.0,314.7L191.5,315.0L192.0,315.2L192.5,315.4L193.0,315.4L193.5,315.4L194.0,315.3L194.5,315.1L195.0,314.9L195.5,314.6L196.0,314.3L196.5,314.1L197.0,313.9L197.5,313.7L198.0,313.7L198.5,313.9L199.0,314.4L199.5,315.0L200.0,315.4L200.5,315.5L201.0,315.2L201.5,314.9L202.0,314.5L202.5,314.1L203.0,313.9L203.5,313.8L204.0,313.8L204.5,313.9L205.0,314.1L205.5,314.3L206.0,314.5L206.5,314.6L207.0,314.6L207.5,314.5L208.0,314.4L208.5,314.3L209.0,314.4L209.5,314.5L210.0,314.7L210.5,314.7L211.0,314.6L211.5,314.3L212.0,314.2L212.5,314.1L213.0,314.2" fill="none" stroke="#e81818" stroke-width="1.2" stroke-linejoin="round"/>
<path d="M22.5,285.7L23.0,285.8L23.5,286.0L24.0,286.1L24.5,286.3L25.0,286.4L25.5,286.4L26.0,286.4L26.5,286.3L27.0,286.2L27.5,286.0L28.0,285.8L28.5,285.7L29.0,285.6L29.5,285.6L30.0,285.6L30.5,285.5L31.0,285.2L31.5,284.8L32.0,284.6L32.5,284.7L33.0,285.1L33.5,285.5L34.0,285.9L34.5,286.0L35.0,285.9L35.5,285.8L36.0,285.6L36.5,285.6L37.0,285.7L37.5,285.8L38.0,286.1L38.5,286.3L39.0,286.3L39.5,286.3L40.0,286.3L40.5,286.3L41.0,286.3L41.5,286.3L42.0,286.2L42.5,286.1L43.0,286.2L43.5,286.3L44.0,286.5L44.5,286.7L45.0,286.8L45.5,287.0L46.0,287.0L46.5,287.0L47.0,286.9L47.5,286.7L48.0,286.3L48.5,285.8L49.0,285.5L49.5,285.4L50.0,285.4L50.5,285.4L51.0,285.3L51.5,285.1L52.0,285.1L52.5,285.3L53.0,285.8L53.5,286.5L54.0,286.9L54.5,287.0L55.0,286.5L55.5,285.8L56.0,285.1L56.5,284.8L57.0,285.0L57.5,285.5L58.0,286.1L58.5,286.5L59.0,286.7L59.5,286.7L60.0,286.5L60.5,286.3L61.0,286.1L61.5,286.0L62.0,286.1L62.5,286.3L63.0,286.4L63.5,286.3L64.0,286.1L64.5,285.9L65.0,285.9L65.5,285.9L66.0,285.9L66.5,286.0L67.0,286.0L67.5,286.0L68.0,285.9L68.5,285.8L69.0,285.8L69.5,285.7L70.0,285.7L70.5,285.6L71.0,285.4L71.5,285.3L72.0,285.2L72.5,285.2L73.0,285.2L73.5,285.1L74.0,284.9L74.5,284.6L75.0,284.4L75.5,284.4L76.0,284.5L76.5,284.7L77.0,284.9L77.5,285.0L78.0,285.1L78.5,285.0L79.0,285.0L79.5,284.9L80.0,284.9L80.5,284.8L81.0,284.7L81.5,284.6L82.0,284.5L82.5,284.5L83.0,284.6L83.5,284.7L84.0,284.9L84.5,285.1L85.0,285.2L85.5,284.9L86.0,284.5L86.5,284.1L87.0,283.8L87.5,283.7L88.0,283.8L88.5,283.8L89.0,283.7L89.5,283.6L90.0,283.4L90.5,283.2L91.0,282.9L91.5,282.7L92.0,282.7L92.5,282.8L93.0,282.9L93.5,282.9L94.0,282.8L94.5,282.6L95.0,282.4L95.5,282.1L96.0,281.7L96.5,281.2L97.0,280.6L97.5,280.0L98.0,279.4L98.5,278.7L99.0,277.9L99.5,277.1L100.0,276.2L100.5,275.5L101.0,274.8L101.5,274.0L102.0,273.3L102.5,272.6L103.0,272.0L103.5,271.4L104.0,270.9L104.5,270.3L105.0,269.5L105.5,268.7L106.0,267.9L106.5,267.1L107.0,266.4L107.5,265.6L108.0,264.8L108.5,264.0L109.0,263.4L109.5,262.8L110.0,262.4L110.5,262.1L111.0,262.0L111.5,262.0L112.0,262.0L112.5,261.9L113.0,261.8L113.5,261.9L114.0,262.1L114.5,262.5L115.0,262.9L115.5,263.3L116.0,263.7L116.5,264.1L117.0,264.7L117.5,265.5L118.0,266.4L118.5,267.4L119.0,268.4L119.5,269.3L120.0,270.1L120.5,271.0L121.0,271.8L121.5,272.6L122.0,273.3L122.5,273.9L123.0,274.5L123.5,274.9L124.0,275.3L124.5,275.8L125.0,276.3L125.5,276.9L126.0,277.5L126.5,278.3L127.0,279.1L127.5,279.9L128.0,280.5L128.5,280.9L129.0,281.4L129.5,281.7L130.0,281.8L130.5,281.7L131.0,281.7L131.5,281.8L132.0,282.0L132.5,282.4L133.0,282.8L133.5,283.2L134.0,283.7L134.5,284.1L135.0,284.5L135.5,284.9L136.0,285.2L136.5,285.3L137.0,285.4L137.5,285.3L138.0,285.2L138.5,285.0L139.0,284.9L139.5,284.8L140.0,284.8L140.5,284.9L141.0,284.8L141.5,284.7L142.0,284.4L142.5,284.2L143.0,284.2L143.5,284.4L144.0,284.7L144.5,285.1L145.0,285.3L145.5,285.4L146.0,285.4L146.5,285.3L147.0,285.2L147.5,285.2L148.0,285.3L148.5,285.4L149.0,285.3L149.5,285.2L150.0,285.1L150.5,285.1L151.0,285.1L151.5,285.3L152.0,285.4L152.5,285.6L153.0,285.7L153.5,285.8L154.0,285.8L154.5,285.7L155.0,285.5L155.5,285.4L156.0,285.3L156.5,285.3L157.0,285.5L157.5,285.9L158.0,286.2L158.5,286.5L159.0,286.5L159.5,286.5L160.0,286.4L160.5,286.4L161.0,286.5L161.5,286.5L162.0,286.4L162.5,286.2L163.0,285.8L163.5,285.5L164.0,285.2L164.5,285.0L165.0,285.1L165.5,285.5L166.0,286.0L166.5,286.4L167.0,286.6L167.5,286.5L168.0,286.3L168.5,286.0L169.0,285.8L169.5,285.7L170.0,285.6L170.5,285.5L171.0,285.3L171.5,285.2L172.0,285.1L172.5,285.1L173.0,285.0L173.5,284.9L174.0,284.8L174.5,285.0L175.0,285.1L175.5,285.3L176.0,285.5L176.5,285.5L177.0,285.5L177.5,285.4L178.0,285.3L178.5,285.4L179.0,285.4L179.5,285.5L180.0,285.6L180.5,285.8L181.0,285.9L181.5,285.9L182.0,285.8L182.5,285.7L183.0,285.6L183.5,285.5L184.0,285.3L184.5,285.2L185.0,285.1L185.5,285.1L186.0,285.1L186.5,285.2L187.0,285.2L187.5,285.2L188.0,285.2L188.5,285.4L189.0,285.5L189.5,285.5L190.0,285.4L190.5,285.3L191.0,285.3L191.5,285.6L192.0,285.9L192.5,286.1L193.0,286.1L193.5,285.8L194.0,285.6L194.5,285.6L195.0,285.8L195.5,286.1L196.0,286.4L196.5,286.6L197.0,286.6L197.5,286.5L198.0,286.3L198.5,286.0L199.0,285.8L199.5,285.8L200.0,286.0L200.5,286.2L201.0,286.2L201.5,286.1L202.0,286.0L202.5,286.1L203.0,286.2L203.5,286.3L204.0,286.4L204.5,286.4L205.0,286.3L205.5,286.2L206.0,286.1L206.5,286.0L207.0,286.1L207.5,286.1L208.0,286.1L208.5,286.1L209.0,286.0L209.5,285.9L210.0,285.6L210.5,285.3L211.0,285.1L211.5,285.0L212.0,285.0L212.5,285.1L213.0,285.2" fill="none" stroke="#1010e0" stroke-width="1.2" stroke-linejoin="round"/>
<path d="M22.5,255.6L23.0,255.4L23.5,255.0L24.0,254.4L24.5,253.8L25.0,253.3L25.5,253.0L26.0,252.9L26.5,252.9L27.0,252.9L27.5,253.0L28.0,253.0L28.5,253.1L29.0,253.4L29.5,253.9L30.0,254.3L30.5,254.6L31.0,254.7L31.5,254.8L32.0,254.8L32.5,254.8L33.0,254.9L33.5,254.8L34.0,254.5L34.5,254.1L35.0,253.9L35.5,253.8L36.0,253.9L36.5,254.1L37.0,254.3L37.5,254.4L38.0,254.4L38.5,254.3L39.0,254.2L39.5,254.2L40.0,254.2L40.5,254.4L41.0,254.7L41.5,254.9L42.0,254.9L42.5,254.8L43.0,254.6L43.5,254.3L44.0,254.0L44.5,254.0L45.0,254.1L45.5,254.2L46.0,254.4L46.5,254.4L47.0,254.5L47.5,254.5L48.0,254.6L48.5,254.6L49.0,254.6L49.5,254.5L50.0,254.3L50.5,254.0L51.0,253.7L51.5,253.5L52.0,253.5L52.5,253.7L53.0,253.9L53.5,254.1L54.0,254.3L54.5,254.5L55.0,254.7L55.5,254.8L56.0,254.8L56.5,254.6L57.0,254.3L57.5,253.9L58.0,253.7L58.5,253.6L59.0,253.8L59.5,254.2L60.0,254.4L60.5,254.5L61.0,254.4L61.5,254.0L62.0,253.6L62.5,253.3L63.0,253.2L63.5,253.3L64.0,253.3L64.5,253.4L65.0,253.5L65.5,253.6L66.0,253.8L66.5,253.9L67.0,254.1L67.5,254.1L68.0,254.2L68.5,254.3L69.0,254.5L69.5,254.8L70.0,255.1L70.5,255.2L71.0,255.3L71.5,255.2L72.0,255.1L72.5,254.9L73.0,254.6L73.5,254.4L74.0,254.3L74.5,254.2L75.0,254.2L75.5,254.1L76.0,254.0L76.5,254.0L77.0,254.0L77.5,254.1L78.0,254.2L78.5,254.3L79.0,254.3L79.5,254.3L80.0,254.3L80.5,254.1L81.0,253.7L81.5,253.4L82.0,253.1L82.5,253.0L83.0,253.1L83.5,253.3L84.0,253.5L84.5,253.6L85.0,253.8L85.5,253.9L86.0,253.8L86.5,253.7L87.0,253.5L87.5,253.3L88.0,253.3L88.5,253.2L89.0,253.0L89.5,252.7L90.0,252.2L90.5,251.7L91.0,251.6L91.5,251.7L92.0,251.9L92.5,252.0L93.0,252.0L93.5,251.8L94.0,251.5L94.5,251.2L95.0,251.0L95.5,250.7L96.0,250.3L96.5,249.6L97.0,248.5L97.5,247.4L98.0,246.3L98.5,245.3L99.0,244.4L99.5,243.4L100.0,242.4L100.5,241.0L101.0,239.5L101.5,237.8L102.0,236.3L102.5,234.8L103.0,233.4L103.5,231.9L104.0,230.2L104.5,228.3L105.0,226.2L105.5,224.0L106.0,221.9L106.5,220.1L107.0,218.5L107.5,217.0L108.0,215.4L108.5,213.6L109.0,211.8L109.5,210.2L110.0,209.0L110.5,208.2L111.0,207.4L111.5,206.8L112.0,206.1L112.5,205.6L113.0,205.1L113.5,204.6L114.0,204.1L114.5,203.6L115.0,203.2L115.5,203.0L116.0,203.0L116.5,203.1L117.0,203.3L117.5,203.6L118.0,204.2L118.5,205.3L119.0,207.0L119.5,209.1L120.0,211.4L120.5,213.8L121.0,216.1L121.5,218.6L122.0,221.3L122.5,224.1L123.0,226.6L123.5,228.8L124.0,230.7L124.5,232.2L125.0,233.8L125.5,235.3L126.0,236.8L126.5,238.2L127.0,239.6L127.5,240.8L128.0,241.9L128.5,242.8L129.0,243.7L129.5,244.5L130.0,245.3L130.5,246.0L131.0,246.7L131.5,247.3L132.0,247.8L132.5,248.4L133.0,249.1L133.5,249.7L134.0,250.3L134.5,250.9L135.0,251.3L135.5,251.5L136.0,251.6L136.5,251.6L137.0,251.6L137.5,251.6L138.0,251.7L138.5,251.9L139.0,252.0L139.5,252.1L140.0,252.1L140.5,252.3L141.0,252.4L141.5,252.5L142.0,252.5L142.5,252.5L143.0,252.4L143.5,252.5L144.0,252.6L144.5,252.9L145.0,253.1L145.5,253.4L146.0,253.6L146.5,253.7L147.0,253.7L147.5,253.6L148.0,253.5L148.5,253.6L149.0,253.8L149.5,254.3L150.0,254.7L150.5,255.0L151.0,255.0L151.5,254.8L152.0,254.7L152.5,254.6L153.0,254.6L153.5,254.7L154.0,254.6L154.5,254.5L155.0,254.5L155.5,254.6L156.0,254.6L156.5,254.6L157.0,254.5L157.5,254.3L158.0,254.0L158.5,253.8L159.0,253.7L159.5,253.7L160.0,253.8L160.5,253.9L161.0,254.1L161.5,254.2L162.0,254.2L162.5,254.1L163.0,254.0L163.5,254.0L164.0,254.2L164.5,254.6L165.0,255.1L165.5,255.4L166.0,255.7L166.5,255.7L167.0,255.7L167.5,255.6L168.0,255.5L168.5,255.5L169.0,255.5L169.5,255.5L170.0,255.6L170.5,255.6L171.0,255.5L171.5,255.3L172.0,255.1L172.5,255.1L173.0,255.1L173.5,255.0L174.0,254.8L174.5,254.5L175.0,254.1L175.5,253.8L176.0,253.7L176.5,254.0L177.0,254.4L177.5,254.7L178.0,255.0L178.5,255.0L179.0,254.8L179.5,254.5L180.0,254.4L180.5,254.3L181.0,254.3L181.5,254.4L182.0,254.5L182.5,254.6L183.0,254.8L183.5,254.9L184.0,255.0L184.5,255.0L185.0,255.0L185.5,255.1L186.0,255.2L186.5,255.2L187.0,255.1L187.5,255.0L188.0,254.8L188.5,254.8L189.0,254.9L189.5,255.2L190.0,255.5L190.5,255.7L191.0,255.8L191.5,255.7L192.0,255.5L192.5,255.1L193.0,254.8L193.5,254.6L194.0,254.6L194.5,254.6L195.0,254.7L195.5,254.8L196.0,254.9L196.5,255.0L197.0,255.2L197.5,255.4L198.0,255.7L198.5,255.9L199.0,256.0L199.5,256.0L200.0,255.9L200.5,255.7L201.0,255.5L201.5,255.4L202.0,255.4L202.5,255.4L203.0,255.4L203.5,255.3L204.0,255.1L204.5,254.9L205.0,254.8L205.5,254.7L206.0,254.7L206.5,254.8L207.0,254.9L207.5,255.0L208.0,255.0L208.5,255.0L209.0,255.0L209.5,255.1L210.0,255.1L210.5,255.2L211.0,255.2L211.5,255.3L212.0,255.5L212.5,255.8L213.0,256.0" fill="none" stroke="#178a80" stroke-width="1.2" stroke-linejoin="round"/>
<text x="27" y="251" font-size="8.4" text-anchor="start" fill="#383838" textLength="42.51" lengthAdjust="spacingAndGlyphs">15%Mn-ZnO</text>
<text x="26" y="283" font-size="8.4" text-anchor="start" fill="#383838" textLength="42.51" lengthAdjust="spacingAndGlyphs">10%Mn-ZnO</text>
<text x="29.5" y="310" font-size="8.4" text-anchor="start" fill="#383838" textLength="38.34" lengthAdjust="spacingAndGlyphs">5%Mn-ZnO</text>
<text x="32.5" y="328" font-size="8.29" text-anchor="start" fill="#383838" textLength="14.39" lengthAdjust="spacingAndGlyphs">ZnO</text>
<text x="190.5" y="202" font-size="8.96" text-anchor="start" fill="#111" font-weight="bold" stroke="#111" stroke-width="0.1" textLength="16.90" lengthAdjust="spacingAndGlyphs">N 1s</text>
<text x="223.3" y="191" font-size="13.5" text-anchor="start" fill="#111" stroke="#111" stroke-width="0.22">d</text>
<path d="M335.5,188.5 L242.5,188.5 L242.5,335.5 L335.5,335.5" fill="none" stroke="#7c7c7c" stroke-width="1"/>
<path d="M340.5,188.5 L433.5,188.5 L433.5,335.5 L340.5,335.5" fill="none" stroke="#7c7c7c" stroke-width="1"/>
<line x1="334.5" y1="191.0" x2="337.5" y2="186.0" stroke="#555" stroke-width="0.8"/>
<line x1="337.5" y1="191.0" x2="340.5" y2="186.0" stroke="#555" stroke-width="0.8"/>
<line x1="334.5" y1="338.0" x2="337.5" y2="333.0" stroke="#555" stroke-width="0.8"/>
<line x1="337.5" y1="338.0" x2="340.5" y2="333.0" stroke="#555" stroke-width="0.8"/>
<line x1="243.3" y1="335.5" x2="243.3" y2="334.5" stroke="#7c7c7c" stroke-width="0.7"/>
<line x1="252.6" y1="335.5" x2="252.6" y2="334.5" stroke="#7c7c7c" stroke-width="0.7"/>
<line x1="261.9" y1="335.5" x2="261.9" y2="334.5" stroke="#7c7c7c" stroke-width="0.7"/>
<line x1="271.2" y1="335.5" x2="271.2" y2="334.5" stroke="#7c7c7c" stroke-width="0.7"/>
<line x1="280.5" y1="335.5" x2="280.5" y2="333.5" stroke="#7c7c7c" stroke-width="0.7"/>
<line x1="289.8" y1="335.5" x2="289.8" y2="334.5" stroke="#7c7c7c" stroke-width="0.7"/>
<line x1="299.1" y1="335.5" x2="299.1" y2="334.5" stroke="#7c7c7c" stroke-width="0.7"/>
<line x1="308.4" y1="335.5" x2="308.4" y2="334.5" stroke="#7c7c7c" stroke-width="0.7"/>
<line x1="317.7" y1="335.5" x2="317.7" y2="334.5" stroke="#7c7c7c" stroke-width="0.7"/>
<line x1="327.0" y1="335.5" x2="327.0" y2="333.5" stroke="#7c7c7c" stroke-width="0.7"/>
<line x1="349.0" y1="335.5" x2="349.0" y2="334.5" stroke="#7c7c7c" stroke-width="0.7"/>
<line x1="358.5" y1="335.5" x2="358.5" y2="334.5" stroke="#7c7c7c" stroke-width="0.7"/>
<line x1="368.0" y1="335.5" x2="368.0" y2="334.5" stroke="#7c7c7c" stroke-width="0.7"/>
<line x1="377.5" y1="335.5" x2="377.5" y2="334.5" stroke="#7c7c7c" stroke-width="0.7"/>
<line x1="387.0" y1="335.5" x2="387.0" y2="333.5" stroke="#7c7c7c" stroke-width="0.7"/>
<line x1="396.5" y1="335.5" x2="396.5" y2="334.5" stroke="#7c7c7c" stroke-width="0.7"/>
<line x1="406.0" y1="335.5" x2="406.0" y2="334.5" stroke="#7c7c7c" stroke-width="0.7"/>
<line x1="415.5" y1="335.5" x2="415.5" y2="334.5" stroke="#7c7c7c" stroke-width="0.7"/>
<line x1="425.0" y1="335.5" x2="425.0" y2="334.5" stroke="#7c7c7c" stroke-width="0.7"/>
<text x="279.5" y="343.6" font-size="6.27" text-anchor="middle" fill="#383838" textLength="12.46" lengthAdjust="spacingAndGlyphs">1020</text>
<text x="320.5" y="343.6" font-size="6.27" text-anchor="start" fill="#383838" textLength="24.92" lengthAdjust="spacingAndGlyphs">10251040</text>
<text x="386.6" y="343.6" font-size="6.27" text-anchor="middle" fill="#383838" textLength="12.46" lengthAdjust="spacingAndGlyphs">1045</text>
<text x="433.2" y="343.6" font-size="6.27" text-anchor="middle" fill="#383838" textLength="12.46" lengthAdjust="spacingAndGlyphs">1050</text>
<text x="342.5" y="357.8" font-size="10.9" text-anchor="middle" fill="#222" stroke="#222" stroke-width="0.22">Binding Energy (eV)</text>
<text x="234.1" y="264.25" font-size="10.8" text-anchor="middle" fill="#222" transform="rotate(-90 234.1 264.25)" stroke="#222" stroke-width="0.22">Intensity (a.u.)</text>
<path d="M242.5,328.4L243.0,328.9L243.5,329.0L244.0,328.6L244.5,328.5L245.0,329.4L245.5,328.7L246.0,329.3L246.5,328.9L247.0,328.7L247.5,328.8L248.0,328.8L248.5,328.9L249.0,328.7L249.5,328.6L250.0,328.6L250.5,328.8L251.0,328.7L251.5,328.2L252.0,328.2L252.5,328.4L253.0,328.2L253.5,328.2L254.0,328.0L254.5,328.2L255.0,328.3L255.5,328.4L256.0,328.1L256.5,328.6L257.0,328.0L257.5,328.8L258.0,328.2L258.5,328.0L259.0,327.7L259.5,327.1L260.0,327.7L260.5,327.8L261.0,328.1L261.5,327.3L262.0,328.0L262.5,327.4L263.0,327.6L263.5,326.7L264.0,327.4L264.5,327.2L265.0,327.4L265.5,327.1L266.0,326.8L266.5,327.2L267.0,327.1L267.5,327.0L268.0,327.0L268.5,326.9L269.0,326.5L269.5,326.1L270.0,326.0L270.5,326.5L271.0,326.2L271.5,325.9L272.0,325.6L272.5,325.5L273.0,325.3L273.5,324.9L274.0,324.5L274.5,324.9L275.0,324.0L275.5,323.3L276.0,322.6L276.5,322.2L277.0,321.8L277.5,321.0L278.0,319.8L278.5,318.8L279.0,317.5L279.5,315.8L280.0,314.8L280.5,312.8L281.0,311.3L281.5,308.2L282.0,305.8L282.5,303.2L283.0,299.8L283.5,296.1L284.0,292.5L284.5,288.8L285.0,284.6L285.5,280.0L286.0,275.4L286.5,270.4L287.0,265.0L287.5,259.6L288.0,254.0L288.5,248.6L289.0,243.1L289.5,237.4L290.0,232.1L290.5,226.7L291.0,221.5L291.5,217.1L292.0,213.4L292.5,209.7L293.0,207.0L293.5,204.3L294.0,202.9L294.5,202.2L295.0,202.0L295.5,202.3L296.0,203.9L296.5,206.1L297.0,208.7L297.5,212.6L298.0,216.7L298.5,220.8L299.0,226.2L299.5,230.8L300.0,236.1L300.5,241.6L301.0,247.0L301.5,252.9L302.0,258.3L302.5,264.1L303.0,269.0L303.5,274.0L304.0,278.6L304.5,282.9L305.0,287.5L305.5,291.3L306.0,295.5L306.5,298.7L307.0,302.2L307.5,304.8L308.0,307.4L308.5,309.6L309.0,311.6L309.5,313.5L310.0,315.2L310.5,316.2L311.0,317.8L311.5,319.4L312.0,319.6L312.5,320.4L313.0,321.0L313.5,321.4L314.0,322.6L314.5,322.7L315.0,323.2L315.5,323.9L316.0,324.3L316.5,323.7L317.0,324.4L317.5,324.5L318.0,324.6L318.5,324.7L319.0,324.7L319.5,325.2L320.0,325.1L320.5,325.1L321.0,325.4L321.5,325.4L322.0,325.3L322.5,325.3L323.0,325.7L323.5,325.5L324.0,325.4L324.5,325.2L325.0,325.4L325.5,325.2L326.0,325.5L326.5,325.6L327.0,325.1L327.5,325.6L328.0,325.8L328.5,325.7L329.0,325.4L329.5,326.0L330.0,325.5L330.5,325.4L331.0,325.5L331.5,325.7L332.0,326.0L332.5,326.1L333.0,325.8L333.5,325.5L334.0,325.6L334.5,325.6L335.0,325.8L335.5,325.4" fill="none" stroke="#111" stroke-width="1.2" stroke-linejoin="round"/>
<path d="M242.5,328.9L243.0,329.0L243.5,328.8L244.0,328.9L244.5,328.5L245.0,328.4L245.5,328.6L246.0,329.0L246.5,328.9L247.0,328.5L247.5,328.9L248.0,328.5L248.5,328.9L249.0,328.6L249.5,328.4L250.0,328.6L250.5,328.2L251.0,328.1L251.5,328.0L252.0,328.4L252.5,328.3L253.0,328.2L253.5,328.1L254.0,328.5L254.5,328.0L255.0,327.9L255.5,328.4L256.0,328.4L256.5,328.0L257.0,327.5L257.5,327.7L258.0,328.0L258.5,327.8L259.0,328.1L259.5,327.3L260.0,327.8L260.5,327.4L261.0,327.9L261.5,327.5L262.0,327.7L262.5,327.2L263.0,327.0L263.5,327.0L264.0,327.0L264.5,326.9L265.0,327.3L265.5,327.3L266.0,327.0L266.5,326.6L267.0,326.7L267.5,326.5L268.0,326.9L268.5,326.5L269.0,326.5L269.5,326.1L270.0,325.6L270.5,325.8L271.0,325.5L271.5,325.7L272.0,325.4L272.5,325.0L273.0,324.9L273.5,325.1L274.0,324.1L274.5,323.8L275.0,323.5L275.5,322.9L276.0,322.4L276.5,322.1L277.0,321.6L277.5,320.0L278.0,319.5L278.5,318.4L279.0,317.2L279.5,315.9L280.0,314.3L280.5,313.0L281.0,310.8L281.5,308.8L282.0,306.5L282.5,304.0L283.0,301.2L283.5,298.5L284.0,295.0L284.5,291.6L285.0,287.8L285.5,283.6L286.0,279.5L286.5,275.0L287.0,270.7L287.5,265.7L288.0,260.7L288.5,256.0L289.0,251.0L289.5,245.3L290.0,241.1L290.5,235.6L291.0,230.7L291.5,226.3L292.0,221.5L292.5,217.2L293.0,214.1L293.5,209.9L294.0,207.3L294.5,205.2L295.0,203.0L295.5,202.1L296.0,201.8L296.5,202.5L297.0,202.5L297.5,204.2L298.0,206.5L298.5,209.0L299.0,211.8L299.5,215.9L300.0,219.8L300.5,224.2L301.0,229.0L301.5,233.8L302.0,238.6L302.5,243.6L303.0,248.4L303.5,253.7L304.0,258.8L304.5,263.6L305.0,268.5L305.5,272.9L306.0,278.0L306.5,282.4L307.0,285.7L307.5,289.7L308.0,293.1L308.5,296.8L309.0,299.6L309.5,302.3L310.0,304.8L310.5,307.2L311.0,309.1L311.5,311.4L312.0,312.8L312.5,314.6L313.0,315.9L313.5,317.3L314.0,318.1L314.5,319.3L315.0,319.6L315.5,320.7L316.0,321.1L316.5,321.8L317.0,322.2L317.5,322.8L318.0,322.4L318.5,323.3L319.0,323.1L319.5,324.0L320.0,323.4L320.5,323.9L321.0,323.8L321.5,324.8L322.0,324.2L322.5,324.6L323.0,324.6L323.5,324.3L324.0,324.8L324.5,325.1L325.0,325.0L325.5,325.3L326.0,325.0L326.5,325.2L327.0,325.1L327.5,325.3L328.0,325.7L328.5,325.4L329.0,325.4L329.5,325.2L330.0,325.2L330.5,325.8L331.0,325.2L331.5,325.2L332.0,325.5L332.5,325.4L333.0,326.0L333.5,324.9L334.0,325.6L334.5,325.8L335.0,325.3L335.5,325.4" fill="none" stroke="#e81818" stroke-width="1.2" stroke-linejoin="round"/>
<path d="M242.5,329.0L243.0,329.3L243.5,328.6L244.0,328.5L244.5,329.1L245.0,329.2L245.5,328.7L246.0,328.2L246.5,329.1L247.0,328.6L247.5,328.9L248.0,328.6L248.5,328.5L249.0,328.5L249.5,328.9L250.0,328.9L250.5,328.0L251.0,328.2L251.5,328.9L252.0,328.3L252.5,328.0L253.0,328.3L253.5,328.3L254.0,328.3L254.5,328.1L255.0,328.1L255.5,328.1L256.0,328.2L256.5,327.9L257.0,328.0L257.5,328.0L258.0,328.3L258.5,328.0L259.0,327.9L259.5,328.0L260.0,327.9L260.5,328.1L261.0,327.9L261.5,328.1L262.0,328.0L262.5,327.6L263.0,327.4L263.5,327.7L264.0,327.6L264.5,327.4L265.0,327.0L265.5,326.8L266.0,327.3L266.5,327.4L267.0,327.3L267.5,326.7L268.0,327.2L268.5,326.8L269.0,326.9L269.5,326.9L270.0,326.5L270.5,326.4L271.0,326.0L271.5,326.2L272.0,325.9L272.5,326.3L273.0,326.1L273.5,326.2L274.0,325.9L274.5,325.5L275.0,325.5L275.5,325.2L276.0,325.2L276.5,324.9L277.0,324.2L277.5,324.2L278.0,323.8L278.5,323.3L279.0,323.1L279.5,322.8L280.0,321.7L280.5,321.0L281.0,319.7L281.5,319.3L282.0,318.2L282.5,316.6L283.0,315.9L283.5,314.5L284.0,312.6L284.5,310.9L285.0,308.7L285.5,306.9L286.0,304.0L286.5,301.6L287.0,299.3L287.5,295.7L288.0,292.5L288.5,288.8L289.0,284.7L289.5,281.0L290.0,276.8L290.5,272.0L291.0,267.8L291.5,263.3L292.0,258.4L292.5,252.7L293.0,247.9L293.5,242.8L294.0,238.5L294.5,233.5L295.0,228.8L295.5,223.9L296.0,219.6L296.5,215.9L297.0,212.4L297.5,209.0L298.0,206.6L298.5,204.6L299.0,203.0L299.5,201.8L300.0,201.2L300.5,201.9L301.0,203.0L301.5,204.4L302.0,206.5L302.5,209.1L303.0,212.5L303.5,215.9L304.0,219.9L304.5,223.8L305.0,228.4L305.5,233.3L306.0,237.8L306.5,242.7L307.0,247.9L307.5,253.3L308.0,257.9L308.5,263.1L309.0,267.4L309.5,271.9L310.0,276.0L310.5,280.4L311.0,284.9L311.5,288.4L312.0,292.0L312.5,295.3L313.0,298.2L313.5,301.0L314.0,303.7L314.5,306.2L315.0,308.3L315.5,310.3L316.0,312.0L316.5,313.3L317.0,314.9L317.5,316.0L318.0,317.6L318.5,317.8L319.0,319.1L319.5,320.5L320.0,320.5L320.5,320.9L321.0,321.7L321.5,322.5L322.0,322.5L322.5,323.0L323.0,323.2L323.5,323.3L324.0,324.4L324.5,323.8L325.0,323.9L325.5,324.0L326.0,324.4L326.5,324.5L327.0,324.7L327.5,324.6L328.0,324.3L328.5,324.9L329.0,324.7L329.5,324.8L330.0,324.5L330.5,324.8L331.0,324.8L331.5,325.0L332.0,324.7L332.5,325.1L333.0,325.2L333.5,324.9L334.0,325.1L334.5,325.0L335.0,325.5L335.5,324.7" fill="none" stroke="#1010e0" stroke-width="1.2" stroke-linejoin="round"/>
<path d="M242.5,328.9L243.0,328.6L243.5,328.8L244.0,329.1L244.5,328.7L245.0,328.9L245.5,328.6L246.0,329.3L246.5,329.0L247.0,329.1L247.5,328.4L248.0,328.4L248.5,329.0L249.0,328.6L249.5,328.6L250.0,328.7L250.5,328.3L251.0,328.7L251.5,328.5L252.0,328.6L252.5,328.3L253.0,328.6L253.5,328.2L254.0,328.6L254.5,328.6L255.0,328.5L255.5,328.4L256.0,328.4L256.5,327.5L257.0,328.4L257.5,328.1L258.0,328.1L258.5,328.0L259.0,327.7L259.5,327.9L260.0,328.1L260.5,328.3L261.0,327.7L261.5,327.6L262.0,328.2L262.5,327.6L263.0,328.2L263.5,327.7L264.0,327.4L264.5,327.8L265.0,328.0L265.5,327.1L266.0,327.8L266.5,327.3L267.0,327.7L267.5,327.2L268.0,326.8L268.5,327.3L269.0,327.4L269.5,327.6L270.0,327.4L270.5,327.1L271.0,326.8L271.5,326.7L272.0,326.6L272.5,326.4L273.0,326.5L273.5,325.8L274.0,326.4L274.5,326.2L275.0,326.8L275.5,326.2L276.0,325.8L276.5,325.9L277.0,325.3L277.5,325.3L278.0,324.7L278.5,325.3L279.0,324.9L279.5,324.1L280.0,324.1L280.5,324.0L281.0,323.4L281.5,322.9L282.0,322.0L282.5,321.5L283.0,320.9L283.5,320.3L284.0,318.9L284.5,317.8L285.0,317.1L285.5,315.2L286.0,314.2L286.5,312.3L287.0,310.6L287.5,308.7L288.0,306.1L288.5,303.5L289.0,300.3L289.5,297.3L290.0,294.4L290.5,291.1L291.0,287.3L291.5,283.5L292.0,278.8L292.5,274.3L293.0,269.9L293.5,264.8L294.0,259.9L294.5,254.6L295.0,250.0L295.5,244.4L296.0,239.7L296.5,234.2L297.0,230.0L297.5,224.8L298.0,220.8L298.5,216.1L299.0,212.7L299.5,209.9L300.0,206.6L300.5,204.6L301.0,202.9L301.5,201.5L302.0,201.8L302.5,202.1L303.0,202.7L303.5,204.8L304.0,206.6L304.5,209.3L305.0,212.8L305.5,216.3L306.0,221.2L306.5,224.6L307.0,229.8L307.5,234.7L308.0,239.0L308.5,244.1L309.0,249.8L309.5,254.6L310.0,259.8L310.5,264.9L311.0,269.2L311.5,273.7L312.0,277.7L312.5,282.6L313.0,286.3L313.5,290.3L314.0,293.8L314.5,296.6L315.0,300.4L315.5,303.0L316.0,305.4L316.5,307.2L317.0,309.5L317.5,311.3L318.0,313.0L318.5,314.3L319.0,316.0L319.5,317.1L320.0,318.2L320.5,318.9L321.0,320.1L321.5,320.6L322.0,320.4L322.5,321.5L323.0,322.1L323.5,322.7L324.0,322.8L324.5,323.1L325.0,323.2L325.5,323.8L326.0,323.7L326.5,323.8L327.0,323.9L327.5,324.4L328.0,324.2L328.5,324.0L329.0,324.7L329.5,324.5L330.0,324.8L330.5,324.9L331.0,325.1L331.5,325.1L332.0,324.8L332.5,324.9L333.0,324.7L333.5,325.5L334.0,325.2L334.5,325.5L335.0,325.1L335.5,324.7" fill="none" stroke="#2aa49c" stroke-width="1.2" stroke-linejoin="round"/>
<path d="M339.5,313.1L340.0,312.7L340.5,312.7L341.0,312.6L341.5,312.8L342.0,312.8L342.5,312.1L343.0,312.9L343.5,312.4L344.0,312.4L344.5,313.1L345.0,312.8L345.5,312.4L346.0,311.9L346.5,312.5L347.0,312.6L347.5,312.4L348.0,312.1L348.5,312.2L349.0,312.0L349.5,312.5L350.0,312.6L350.5,312.7L351.0,312.1L351.5,312.4L352.0,312.5L352.5,312.1L353.0,312.2L353.5,312.9L354.0,312.3L354.5,312.4L355.0,312.0L355.5,312.1L356.0,311.6L356.5,312.0L357.0,312.4L357.5,312.6L358.0,312.3L358.5,312.1L359.0,311.8L359.5,311.6L360.0,311.6L360.5,311.8L361.0,311.3L361.5,311.7L362.0,311.0L362.5,310.6L363.0,310.7L363.5,310.3L364.0,310.2L364.5,310.7L365.0,310.0L365.5,309.8L366.0,309.7L366.5,309.3L367.0,308.2L367.5,308.2L368.0,307.2L368.5,306.3L369.0,305.6L369.5,304.0L370.0,303.1L370.5,302.0L371.0,300.9L371.5,299.0L372.0,297.4L372.5,296.0L373.0,294.1L373.5,291.9L374.0,289.8L374.5,286.9L375.0,284.5L375.5,282.2L376.0,279.4L376.5,276.7L377.0,274.7L377.5,271.5L378.0,268.7L378.5,266.6L379.0,264.7L379.5,261.9L380.0,260.3L380.5,258.0L381.0,256.6L381.5,255.4L382.0,254.7L382.5,254.9L383.0,254.0L383.5,255.2L384.0,255.1L384.5,256.4L385.0,258.1L385.5,259.7L386.0,261.6L386.5,263.2L387.0,266.1L387.5,268.2L388.0,271.8L388.5,273.6L389.0,276.4L389.5,278.6L390.0,281.4L390.5,283.7L391.0,286.9L391.5,288.8L392.0,291.3L392.5,293.1L393.0,295.1L393.5,297.5L394.0,298.5L394.5,299.8L395.0,301.9L395.5,302.7L396.0,304.0L396.5,305.5L397.0,305.9L397.5,307.2L398.0,307.4L398.5,308.7L399.0,309.1L399.5,309.1L400.0,309.5L400.5,309.7L401.0,310.3L401.5,310.8L402.0,310.3L402.5,311.2L403.0,310.7L403.5,310.9L404.0,310.8L404.5,312.0L405.0,311.5L405.5,311.7L406.0,311.4L406.5,312.0L407.0,311.1L407.5,311.8L408.0,312.5L408.5,311.8L409.0,311.9L409.5,312.2L410.0,311.8L410.5,312.0L411.0,312.3L411.5,312.1L412.0,312.2L412.5,312.0L413.0,312.2L413.5,312.2L414.0,312.6L414.5,312.4L415.0,312.1L415.5,311.5L416.0,312.5L416.5,312.5L417.0,312.0L417.5,311.7L418.0,312.0L418.5,312.6L419.0,312.0L419.5,312.2L420.0,312.4L420.5,312.7L421.0,312.4L421.5,312.4L422.0,312.2L422.5,312.9L423.0,312.7L423.5,312.4L424.0,312.0L424.5,312.2L425.0,312.6L425.5,312.2L426.0,312.7L426.5,312.6L427.0,312.6L427.5,312.7L428.0,312.6L428.5,312.2L429.0,312.4L429.5,313.2L430.0,312.1L430.5,312.4L431.0,312.8L431.5,312.5L432.0,312.3L432.5,312.1L433.0,312.7" fill="none" stroke="#111" stroke-width="1.2" stroke-linejoin="round"/>
<path d="M339.5,312.9L340.0,313.1L340.5,312.6L341.0,312.9L341.5,312.3L342.0,312.6L342.5,312.4L343.0,312.6L343.5,312.8L344.0,312.9L344.5,312.2L345.0,312.9L345.5,312.4L346.0,312.2L346.5,312.4L347.0,312.0L347.5,312.5L348.0,312.5L348.5,312.4L349.0,312.6L349.5,312.3L350.0,312.4L350.5,311.9L351.0,312.4L351.5,312.1L352.0,312.2L352.5,312.3L353.0,312.3L353.5,311.7L354.0,311.7L354.5,312.1L355.0,312.3L355.5,312.2L356.0,312.4L356.5,312.5L357.0,312.2L357.5,312.0L358.0,311.6L358.5,311.6L359.0,311.7L359.5,311.9L360.0,311.8L360.5,311.7L361.0,311.5L361.5,311.7L362.0,311.5L362.5,311.4L363.0,311.2L363.5,310.8L364.0,310.5L364.5,310.8L365.0,310.5L365.5,310.0L366.0,309.7L366.5,310.1L367.0,308.8L367.5,308.4L368.0,308.0L368.5,306.9L369.0,306.6L369.5,306.3L370.0,305.1L370.5,304.0L371.0,302.8L371.5,301.4L372.0,300.3L372.5,298.4L373.0,296.7L373.5,295.0L374.0,293.3L374.5,291.1L375.0,289.1L375.5,286.0L376.0,284.6L376.5,282.5L377.0,279.7L377.5,276.7L378.0,274.0L378.5,271.8L379.0,269.0L379.5,267.1L380.0,264.4L380.5,262.7L381.0,260.9L381.5,258.2L382.0,257.4L382.5,255.9L383.0,254.9L383.5,254.6L384.0,254.5L384.5,255.1L385.0,254.8L385.5,256.5L386.0,257.9L386.5,259.0L387.0,260.7L387.5,262.4L388.0,264.2L388.5,267.0L389.0,269.4L389.5,271.9L390.0,275.0L390.5,277.0L391.0,279.4L391.5,282.3L392.0,283.8L392.5,286.2L393.0,288.7L393.5,290.8L394.0,293.3L394.5,294.9L395.0,297.3L395.5,298.9L396.0,300.2L396.5,301.2L397.0,302.8L397.5,304.0L398.0,304.5L398.5,305.8L399.0,306.7L399.5,307.3L400.0,308.3L400.5,308.8L401.0,308.7L401.5,309.4L402.0,309.5L402.5,310.2L403.0,310.0L403.5,310.8L404.0,310.9L404.5,311.2L405.0,311.0L405.5,310.8L406.0,311.8L406.5,311.4L407.0,311.9L407.5,311.7L408.0,311.8L408.5,312.2L409.0,311.9L409.5,312.2L410.0,311.4L410.5,312.1L411.0,311.8L411.5,311.9L412.0,312.0L412.5,312.1L413.0,312.5L413.5,311.5L414.0,312.1L414.5,311.9L415.0,312.5L415.5,312.0L416.0,312.3L416.5,312.1L417.0,312.4L417.5,312.5L418.0,312.1L418.5,312.3L419.0,311.8L419.5,312.4L420.0,312.5L420.5,312.1L421.0,312.7L421.5,311.7L422.0,311.8L422.5,311.9L423.0,312.2L423.5,312.4L424.0,312.4L424.5,312.4L425.0,312.6L425.5,312.3L426.0,312.0L426.5,312.1L427.0,313.1L427.5,311.7L428.0,312.4L428.5,312.9L429.0,312.6L429.5,312.2L430.0,312.5L430.5,312.7L431.0,312.8L431.5,312.2L432.0,312.7L432.5,312.6L433.0,312.8" fill="none" stroke="#e81818" stroke-width="1.2" stroke-linejoin="round"/>
<path d="M339.5,313.5L340.0,313.0L340.5,312.6L341.0,313.2L341.5,313.6L342.0,313.3L342.5,313.1L343.0,313.8L343.5,312.7L344.0,313.3L344.5,312.8L345.0,313.0L345.5,313.0L346.0,313.4L346.5,312.7L347.0,312.8L347.5,312.5L348.0,313.1L348.5,312.8L349.0,313.0L349.5,312.6L350.0,312.8L350.5,313.2L351.0,312.8L351.5,313.0L352.0,313.0L352.5,312.7L353.0,312.3L353.5,313.1L354.0,312.8L354.5,313.0L355.0,312.1L355.5,312.2L356.0,312.0L356.5,312.4L357.0,312.9L357.5,312.8L358.0,312.6L358.5,312.6L359.0,312.8L359.5,312.4L360.0,312.6L360.5,312.5L361.0,311.7L361.5,312.2L362.0,312.7L362.5,312.1L363.0,312.1L363.5,311.9L364.0,311.9L364.5,312.3L365.0,311.8L365.5,311.5L366.0,310.7L366.5,311.3L367.0,310.7L367.5,310.6L368.0,311.2L368.5,310.9L369.0,309.8L369.5,310.3L370.0,309.8L370.5,309.0L371.0,308.9L371.5,307.6L372.0,307.0L372.5,306.2L373.0,305.5L373.5,305.1L374.0,303.4L374.5,302.2L375.0,301.0L375.5,299.9L376.0,298.2L376.5,296.8L377.0,294.5L377.5,292.4L378.0,290.6L378.5,288.5L379.0,285.9L379.5,283.9L380.0,281.9L380.5,278.7L381.0,276.4L381.5,274.2L382.0,271.1L382.5,268.6L383.0,266.1L383.5,264.3L384.0,262.2L384.5,260.1L385.0,258.5L385.5,257.4L386.0,256.1L386.5,254.6L387.0,254.5L387.5,254.3L388.0,254.7L388.5,254.9L389.0,255.6L389.5,256.9L390.0,257.9L390.5,260.1L391.0,261.9L391.5,264.3L392.0,266.1L392.5,268.7L393.0,271.0L393.5,273.5L394.0,276.6L394.5,278.7L395.0,281.5L395.5,283.5L396.0,286.2L396.5,288.0L397.0,290.6L397.5,292.6L398.0,294.9L398.5,296.6L399.0,298.2L399.5,300.1L400.0,301.3L400.5,302.7L401.0,304.0L401.5,304.8L402.0,305.7L402.5,306.7L403.0,307.3L403.5,308.2L404.0,309.0L404.5,309.4L405.0,309.5L405.5,309.6L406.0,310.3L406.5,310.6L407.0,311.2L407.5,311.0L408.0,311.3L408.5,311.7L409.0,311.5L409.5,311.7L410.0,312.4L410.5,312.4L411.0,312.2L411.5,312.2L412.0,311.9L412.5,312.4L413.0,312.3L413.5,312.4L414.0,312.2L414.5,312.4L415.0,312.4L415.5,312.6L416.0,312.9L416.5,312.7L417.0,312.1L417.5,312.3L418.0,312.1L418.5,312.4L419.0,312.8L419.5,312.8L420.0,312.5L420.5,312.8L421.0,312.5L421.5,312.3L422.0,312.4L422.5,312.5L423.0,313.2L423.5,312.4L424.0,313.2L424.5,313.3L425.0,312.8L425.5,312.9L426.0,312.7L426.5,312.9L427.0,313.1L427.5,312.9L428.0,313.2L428.5,313.3L429.0,313.1L429.5,313.1L430.0,313.0L430.5,313.1L431.0,312.7L431.5,313.1L432.0,313.1L432.5,312.8L433.0,313.7" fill="none" stroke="#1010e0" stroke-width="1.2" stroke-linejoin="round"/>
<path d="M339.5,314.8L340.0,314.8L340.5,315.2L341.0,314.5L341.5,314.8L342.0,314.6L342.5,314.8L343.0,315.0L343.5,315.1L344.0,315.4L344.5,315.3L345.0,315.4L345.5,315.2L346.0,314.9L346.5,315.3L347.0,314.8L347.5,314.8L348.0,315.4L348.5,315.2L349.0,315.0L349.5,315.2L350.0,315.2L350.5,314.5L351.0,314.9L351.5,314.5L352.0,314.9L352.5,314.7L353.0,315.3L353.5,315.0L354.0,314.6L354.5,314.8L355.0,314.4L355.5,314.8L356.0,314.9L356.5,314.8L357.0,314.1L357.5,314.6L358.0,314.8L358.5,314.8L359.0,315.0L359.5,314.2L360.0,314.7L360.5,314.4L361.0,314.6L361.5,314.6L362.0,314.7L362.5,314.3L363.0,314.4L363.5,314.0L364.0,313.9L364.5,314.4L365.0,314.2L365.5,313.6L366.0,313.8L366.5,314.0L367.0,314.3L367.5,314.0L368.0,313.8L368.5,312.9L369.0,313.2L369.5,313.2L370.0,312.9L370.5,312.7L371.0,312.1L371.5,312.4L372.0,311.8L372.5,310.9L373.0,310.0L373.5,310.3L374.0,308.7L374.5,308.4L375.0,307.7L375.5,305.7L376.0,304.9L376.5,303.4L377.0,302.2L377.5,300.5L378.0,299.3L378.5,297.0L379.0,294.8L379.5,293.0L380.0,290.3L380.5,288.0L381.0,286.3L381.5,282.8L382.0,280.3L382.5,277.9L383.0,274.9L383.5,272.0L384.0,270.4L384.5,267.4L385.0,265.1L385.5,263.0L386.0,260.9L386.5,259.2L387.0,258.2L387.5,257.7L388.0,256.5L388.5,256.1L389.0,255.4L389.5,256.1L390.0,256.5L390.5,258.1L391.0,259.2L391.5,260.9L392.0,262.7L392.5,264.7L393.0,266.7L393.5,269.8L394.0,271.7L394.5,274.3L395.0,277.2L395.5,279.7L396.0,282.6L396.5,285.4L397.0,287.7L397.5,290.0L398.0,292.3L398.5,294.7L399.0,295.9L399.5,298.5L400.0,299.8L400.5,301.4L401.0,303.2L401.5,304.5L402.0,306.0L402.5,307.2L403.0,307.2L403.5,308.7L404.0,310.1L404.5,310.5L405.0,311.2L405.5,311.4L406.0,311.3L406.5,311.8L407.0,312.7L407.5,313.1L408.0,312.8L408.5,313.2L409.0,313.5L409.5,313.1L410.0,313.6L410.5,314.4L411.0,314.6L411.5,314.0L412.0,314.7L412.5,314.1L413.0,314.0L413.5,313.7L414.0,314.7L414.5,314.3L415.0,315.2L415.5,314.6L416.0,314.6L416.5,314.0L417.0,315.1L417.5,314.5L418.0,314.6L418.5,314.0L419.0,315.0L419.5,315.0L420.0,314.6L420.5,314.8L421.0,314.9L421.5,315.1L422.0,314.9L422.5,315.4L423.0,314.8L423.5,314.7L424.0,314.8L424.5,314.2L425.0,314.7L425.5,315.3L426.0,315.1L426.5,314.7L427.0,315.1L427.5,314.4L428.0,314.9L428.5,315.2L429.0,315.3L429.5,314.8L430.0,315.3L430.5,315.6L431.0,315.0L431.5,315.3L432.0,314.6L432.5,314.5L433.0,315.3" fill="none" stroke="#2aa49c" stroke-width="1.2" stroke-linejoin="round"/>
<line x1="287.2" y1="196.8" x2="308.6" y2="196.8" stroke="#222" stroke-width="0.8"/>
<path d="M311.60,196.80 L308.10,198.20 L308.10,195.40 Z" fill="#222"/>
<line x1="375.5" y1="248.8" x2="397.0" y2="248.8" stroke="#222" stroke-width="0.8"/>
<path d="M400.00,248.80 L396.50,250.20 L396.50,247.40 Z" fill="#222"/>
<text x="255.5" y="250.7" font-size="8.4" text-anchor="start" fill="#333" textLength="32.11" lengthAdjust="spacingAndGlyphs">1021.6eV</text>
<text x="312" y="226" font-size="8.4" text-anchor="start" fill="#333" textLength="32.11" lengthAdjust="spacingAndGlyphs">1022.2eV</text>
<text x="342.6" y="274.6" font-size="8.4" text-anchor="start" fill="#333" textLength="32.11" lengthAdjust="spacingAndGlyphs">1044.7eV</text>
<text x="397.6" y="262.8" font-size="8.4" text-anchor="start" fill="#333" textLength="32.11" lengthAdjust="spacingAndGlyphs">1045.4eV</text>
<line x1="282.5" y1="253.7" x2="287.5" y2="260" stroke="#222" stroke-width="0.7"/>
<line x1="310.8" y1="226.5" x2="307.8" y2="235" stroke="#222" stroke-width="0.7"/>
<line x1="371.5" y1="278.8" x2="375.7" y2="284.3" stroke="#222" stroke-width="0.7"/>
<line x1="400.6" y1="265" x2="396.5" y2="272" stroke="#222" stroke-width="0.7"/>
<text x="410.5" y="201" font-size="8.96" text-anchor="start" fill="#111" font-weight="bold" stroke="#111" stroke-width="0.1" textLength="21.33" lengthAdjust="spacingAndGlyphs">Zn 2p</text>
<line x1="356" y1="205.2" x2="374" y2="205.2" stroke="#111" stroke-width="1.0"/>
<text x="375.6" y="207.79999999999998" font-size="8.62" text-anchor="start" fill="#333" stroke="#333" stroke-width="0.22" textLength="14.98" lengthAdjust="spacingAndGlyphs">ZnO</text>
<line x1="356" y1="214.6" x2="374" y2="214.6" stroke="#e81818" stroke-width="1.0"/>
<text x="375.6" y="217.2" font-size="8.62" text-anchor="start" fill="#333" stroke="#333" stroke-width="0.22" textLength="41.50" lengthAdjust="spacingAndGlyphs">5% Mn-ZnO</text>
<line x1="356" y1="224" x2="374" y2="224" stroke="#1010e0" stroke-width="1.0"/>
<text x="375.6" y="226.6" font-size="8.62" text-anchor="start" fill="#333" stroke="#333" stroke-width="0.22" textLength="45.79" lengthAdjust="spacingAndGlyphs">10% Mn-ZnO</text>
<line x1="356" y1="233.1" x2="374" y2="233.1" stroke="#2aa49c" stroke-width="1.0"/>
<text x="375.6" y="235.7" font-size="8.62" text-anchor="start" fill="#333" stroke="#333" stroke-width="0.22" textLength="45.79" lengthAdjust="spacingAndGlyphs">15% Mn-ZnO</text>
<text x="456.6" y="9.6" font-size="14.5" text-anchor="start" fill="#111" stroke="#111" stroke-width="0.22">e</text>
<rect x="475.5" y="18" width="201" height="76.5" fill="none" stroke="#2a2a2a" stroke-width="1.1"/>
<rect x="475.5" y="94.5" width="201" height="76.5" fill="none" stroke="#2a2a2a" stroke-width="1.1"/>
<rect x="475.5" y="171" width="201" height="77" fill="none" stroke="#2a2a2a" stroke-width="1.1"/>
<rect x="475.5" y="248" width="201" height="76.5" fill="none" stroke="#2a2a2a" stroke-width="1.1"/>
<line x1="492.7" y1="94.5" x2="492.7" y2="92.5" stroke="#2a2a2a" stroke-width="0.7"/>
<line x1="511.01" y1="94.5" x2="511.01" y2="92.5" stroke="#2a2a2a" stroke-width="0.7"/>
<line x1="529.3199999999999" y1="94.5" x2="529.3199999999999" y2="92.5" stroke="#2a2a2a" stroke-width="0.7"/>
<line x1="547.63" y1="94.5" x2="547.63" y2="92.5" stroke="#2a2a2a" stroke-width="0.7"/>
<line x1="565.9399999999999" y1="94.5" x2="565.9399999999999" y2="92.5" stroke="#2a2a2a" stroke-width="0.7"/>
<line x1="584.25" y1="94.5" x2="584.25" y2="92.5" stroke="#2a2a2a" stroke-width="0.7"/>
<line x1="602.56" y1="94.5" x2="602.56" y2="92.5" stroke="#2a2a2a" stroke-width="0.7"/>
<line x1="620.87" y1="94.5" x2="620.87" y2="92.5" stroke="#2a2a2a" stroke-width="0.7"/>
<line x1="639.18" y1="94.5" x2="639.18" y2="92.5" stroke="#2a2a2a" stroke-width="0.7"/>
<line x1="657.49" y1="94.5" x2="657.49" y2="92.5" stroke="#2a2a2a" stroke-width="0.7"/>
<line x1="675.8" y1="94.5" x2="675.8" y2="92.5" stroke="#2a2a2a" stroke-width="0.7"/>
<line x1="492.7" y1="171" x2="492.7" y2="169.0" stroke="#2a2a2a" stroke-width="0.7"/>
<line x1="511.01" y1="171" x2="511.01" y2="169.0" stroke="#2a2a2a" stroke-width="0.7"/>
<line x1="529.3199999999999" y1="171" x2="529.3199999999999" y2="169.0" stroke="#2a2a2a" stroke-width="0.7"/>
<line x1="547.63" y1="171" x2="547.63" y2="169.0" stroke="#2a2a2a" stroke-width="0.7"/>
<line x1="565.9399999999999" y1="171" x2="565.9399999999999" y2="169.0" stroke="#2a2a2a" stroke-width="0.7"/>
<line x1="584.25" y1="171" x2="584.25" y2="169.0" stroke="#2a2a2a" stroke-width="0.7"/>
<line x1="602.56" y1="171" x2="602.56" y2="169.0" stroke="#2a2a2a" stroke-width="0.7"/>
<line x1="620.87" y1="171" x2="620.87" y2="169.0" stroke="#2a2a2a" stroke-width="0.7"/>
<line x1="639.18" y1="171" x2="639.18" y2="169.0" stroke="#2a2a2a" stroke-width="0.7"/>
<line x1="657.49" y1="171" x2="657.49" y2="169.0" stroke="#2a2a2a" stroke-width="0.7"/>
<line x1="675.8" y1="171" x2="675.8" y2="169.0" stroke="#2a2a2a" stroke-width="0.7"/>
<line x1="492.7" y1="248" x2="492.7" y2="246.0" stroke="#2a2a2a" stroke-width="0.7"/>
<line x1="511.01" y1="248" x2="511.01" y2="246.0" stroke="#2a2a2a" stroke-width="0.7"/>
<line x1="529.3199999999999" y1="248" x2="529.3199999999999" y2="246.0" stroke="#2a2a2a" stroke-width="0.7"/>
<line x1="547.63" y1="248" x2="547.63" y2="246.0" stroke="#2a2a2a" stroke-width="0.7"/>
<line x1="565.9399999999999" y1="248" x2="565.9399999999999" y2="246.0" stroke="#2a2a2a" stroke-width="0.7"/>
<line x1="584.25" y1="248" x2="584.25" y2="246.0" stroke="#2a2a2a" stroke-width="0.7"/>
<line x1="602.56" y1="248" x2="602.56" y2="246.0" stroke="#2a2a2a" stroke-width="0.7"/>
<line x1="620.87" y1="248" x2="620.87" y2="246.0" stroke="#2a2a2a" stroke-width="0.7"/>
<line x1="639.18" y1="248" x2="639.18" y2="246.0" stroke="#2a2a2a" stroke-width="0.7"/>
<line x1="657.49" y1="248" x2="657.49" y2="246.0" stroke="#2a2a2a" stroke-width="0.7"/>
<line x1="675.8" y1="248" x2="675.8" y2="246.0" stroke="#2a2a2a" stroke-width="0.7"/>
<line x1="492.7" y1="324.5" x2="492.7" y2="322.5" stroke="#2a2a2a" stroke-width="0.7"/>
<line x1="511.01" y1="324.5" x2="511.01" y2="322.5" stroke="#2a2a2a" stroke-width="0.7"/>
<line x1="529.3199999999999" y1="324.5" x2="529.3199999999999" y2="322.5" stroke="#2a2a2a" stroke-width="0.7"/>
<line x1="547.63" y1="324.5" x2="547.63" y2="322.5" stroke="#2a2a2a" stroke-width="0.7"/>
<line x1="565.9399999999999" y1="324.5" x2="565.9399999999999" y2="322.5" stroke="#2a2a2a" stroke-width="0.7"/>
<line x1="584.25" y1="324.5" x2="584.25" y2="322.5" stroke="#2a2a2a" stroke-width="0.7"/>
<line x1="602.56" y1="324.5" x2="602.56" y2="322.5" stroke="#2a2a2a" stroke-width="0.7"/>
<line x1="620.87" y1="324.5" x2="620.87" y2="322.5" stroke="#2a2a2a" stroke-width="0.7"/>
<line x1="639.18" y1="324.5" x2="639.18" y2="322.5" stroke="#2a2a2a" stroke-width="0.7"/>
<line x1="657.49" y1="324.5" x2="657.49" y2="322.5" stroke="#2a2a2a" stroke-width="0.7"/>
<line x1="675.8" y1="324.5" x2="675.8" y2="322.5" stroke="#2a2a2a" stroke-width="0.7"/>
<text x="492.7" y="336.2" font-size="9.5" text-anchor="middle" fill="#333" stroke="#333" stroke-width="0.22">528</text>
<text x="529.3199999999999" y="336.2" font-size="9.5" text-anchor="middle" fill="#333" stroke="#333" stroke-width="0.22">530</text>
<text x="565.9399999999999" y="336.2" font-size="9.5" text-anchor="middle" fill="#333" stroke="#333" stroke-width="0.22">532</text>
<text x="602.56" y="336.2" font-size="9.5" text-anchor="middle" fill="#333" stroke="#333" stroke-width="0.22">534</text>
<text x="639.18" y="336.2" font-size="9.5" text-anchor="middle" fill="#333" stroke="#333" stroke-width="0.22">536</text>
<text x="675.8" y="336.2" font-size="9.5" text-anchor="middle" fill="#333" stroke="#333" stroke-width="0.22">538</text>
<text x="571.6" y="352.8" font-size="10.6" text-anchor="middle" fill="#222" stroke="#222" stroke-width="0.22">Binding Energy (eV)</text>
<text x="466.3" y="53.95" font-size="10.6" text-anchor="middle" fill="#222" transform="rotate(-90 466.3 53.95)" stroke="#222" stroke-width="0.22">Intensity (a.u.)</text>
<text x="464.9" y="132.3" font-size="10.6" text-anchor="middle" fill="#222" transform="rotate(-90 464.9 132.3)" stroke="#222" stroke-width="0.22">Intensity (a.u.)</text>
<text x="464.2" y="208.5" font-size="10.6" text-anchor="middle" fill="#222" transform="rotate(-90 464.2 208.5)" stroke="#222" stroke-width="0.22">Intensity (a.u.)</text>
<text x="465.9" y="285.6" font-size="10.6" text-anchor="middle" fill="#222" transform="rotate(-90 465.9 285.6)" stroke="#222" stroke-width="0.22">Intensity (a.u.)</text>
<text x="636" y="33.5" font-size="10.6" text-anchor="start" fill="#111" font-weight="bold" stroke="#111" stroke-width="0.1">O 1s</text>
<path d="M476.0,93.8L476.5,93.8L477.0,93.8L477.5,93.7L478.0,93.7L478.5,93.6L479.0,93.6L479.5,93.5L480.0,93.5L480.5,93.4L481.0,93.3L481.5,93.3L482.0,93.2L482.5,93.1L483.0,93.0L483.5,93.0L484.0,92.9L484.5,92.8L485.0,92.7L485.5,92.6L486.0,92.5L486.5,92.4L487.0,92.3L487.5,92.1L488.0,92.0L488.5,91.9L489.0,91.7L489.5,91.6L490.0,91.4L490.5,91.2L491.0,91.1L491.5,90.9L492.0,90.7L492.5,90.5L493.0,90.2L493.5,90.0L494.0,89.8L494.5,89.5L495.0,89.2L495.5,88.9L496.0,88.5L496.5,88.1L497.0,87.7L497.5,87.2L498.0,86.7L498.5,86.2L499.0,85.7L499.5,85.2L500.0,84.7L500.5,84.2L501.0,83.7L501.5,83.2L502.0,82.6L502.5,82.1L503.0,81.5L503.5,80.9L504.0,80.3L504.5,79.7L505.0,79.0L505.5,78.3L506.0,77.5L506.5,76.6L507.0,75.7L507.5,74.8L508.0,73.8L508.5,72.8L509.0,71.9L509.5,70.9L510.0,69.9L510.5,68.9L511.0,67.9L511.5,66.8L512.0,65.8L512.5,64.7L513.0,63.6L513.5,62.6L514.0,61.6L514.5,60.6L515.0,59.7L515.5,58.8L516.0,58.0L516.5,57.2L517.0,56.5L517.5,55.8L518.0,55.1L518.5,54.4L519.0,53.8L519.5,53.1L520.0,52.5L520.5,51.9L521.0,51.3L521.5,50.9L522.0,50.6L522.5,50.3L523.0,50.1L523.5,49.9L524.0,49.7L524.5,49.5L525.0,49.3L525.5,49.2L526.0,49.1L526.5,49.0L527.0,49.3L527.5,49.4L528.0,49.6L528.5,49.7L529.0,49.9L529.5,50.1L530.0,50.3L530.5,50.5L531.0,50.7L531.5,51.0L532.0,51.3L532.5,51.6L533.0,51.9L533.5,52.3L534.0,52.6L534.5,53.0L535.0,53.4L535.5,53.8L536.0,54.2L536.5,54.7L537.0,55.2L537.5,55.8L538.0,56.4L538.5,57.0L539.0,57.7L539.5,58.6L540.0,59.6L540.5,60.6L541.0,61.7L541.5,62.8L542.0,64.0L542.5,65.1L543.0,66.2L543.5,67.3L544.0,68.3L544.5,69.4L545.0,70.4L545.5,71.5L546.0,72.6L546.5,73.6L547.0,74.6L547.5,75.6L548.0,76.6L548.5,77.5L549.0,78.4L549.5,79.3L550.0,80.2L550.5,81.1L551.0,82.0L551.5,82.8L552.0,83.6L552.5,84.3L553.0,84.9L553.5,85.5L554.0,86.0L554.5,86.5L555.0,86.9L555.5,87.4L556.0,87.8L556.5,88.1L557.0,88.5L557.5,88.8L558.0,89.0L558.5,89.3L559.0,89.5L559.5,89.8L560.0,90.0L560.5,90.2L561.0,90.4L561.5,90.6L562.0,90.7L562.5,90.8L563.0,90.9L563.5,91.0L564.0,91.0L564.5,91.1L565.0,91.1L565.5,91.2L566.0,91.2L566.5,91.2L567.0,91.3L567.5,91.3L568.0,91.3L568.5,91.4L569.0,91.4L569.5,91.4L570.0,91.4L570.5,91.5L571.0,91.5L571.5,91.5L572.0,91.5L572.5,91.5L573.0,91.5L573.5,91.5L574.0,91.5L574.5,91.5L575.0,91.5L575.5,91.5L576.0,91.5L576.5,91.5L577.0,91.5L577.5,91.5L578.0,91.5L578.5,91.5L579.0,91.5L579.5,91.5L580.0,91.5L580.5,91.5L581.0,91.5L581.5,91.5L582.0,91.5L582.5,91.5L583.0,91.5L583.5,91.5L584.0,91.5L584.5,91.5L585.0,91.5L585.5,91.5L586.0,91.5L586.5,91.5L587.0,91.5L587.5,91.5L588.0,91.5L588.5,91.5L589.0,91.5L589.5,91.5L590.0,91.5L590.5,91.5L591.0,91.5L591.5,91.5L592.0,91.5L592.5,91.5L593.0,91.5L593.5,91.5L594.0,91.5L594.5,91.5L595.0,91.5L595.5,91.5L596.0,91.5L596.5,91.5L597.0,91.5L597.5,91.5L598.0,91.5L598.5,91.5L599.0,91.5L599.5,91.5L600.0,91.5L600.5,91.5L601.0,91.5L601.5,91.5L602.0,91.5L602.5,91.5L603.0,91.5L603.5,91.5L604.0,91.5L604.5,91.5L605.0,91.5L605.5,91.5L606.0,91.5L606.5,91.5L607.0,91.5L607.5,91.5L608.0,91.5L608.5,91.5L609.0,91.5L609.5,91.5L610.0,91.5L610.5,91.5L611.0,91.5L611.5,91.5L612.0,91.5L612.5,91.5L613.0,91.5L613.5,91.5L614.0,91.5L614.5,91.5L615.0,91.5L615.5,91.5L616.0,91.5L616.5,91.5L617.0,91.5L617.5,91.5L618.0,91.5L618.5,91.5L619.0,91.5L619.5,91.5L620.0,91.5L620.5,91.5L621.0,91.5L621.5,91.4L622.0,91.4L622.5,91.4L623.0,91.4L623.5,91.4L624.0,91.4L624.5,91.4L625.0,91.4L625.5,91.4L626.0,91.4L626.5,91.4L627.0,91.4L627.5,91.4L628.0,91.4L628.5,91.4L629.0,91.4L629.5,91.4L630.0,91.4L630.5,91.4L631.0,91.4L631.5,91.4L632.0,91.4L632.5,91.4L633.0,91.4L633.5,91.4L634.0,91.4L634.5,91.4L635.0,91.4L635.5,91.4L636.0,91.4L636.5,91.4L637.0,91.4L637.5,91.4L638.0,91.4L638.5,91.4L639.0,91.4L639.5,91.4L640.0,91.4L640.5,91.4L641.0,91.4L641.5,91.4L642.0,91.4L642.5,91.3L643.0,91.3L643.5,91.3L644.0,91.3L644.5,91.3L645.0,91.3L645.5,91.3L646.0,91.3L646.5,91.3L647.0,91.3L647.5,91.3L648.0,91.3L648.5,91.3L649.0,91.3L649.5,91.3L650.0,91.3L650.5,91.3L651.0,91.3L651.5,91.3L652.0,91.3L652.5,91.3L653.0,91.3L653.5,91.3L654.0,91.3L654.5,91.3L655.0,91.2L655.5,91.2L656.0,91.2L656.5,91.2L657.0,91.2L657.5,91.2L658.0,91.2L658.5,91.2L659.0,91.2L659.5,91.2L660.0,91.2L660.5,91.2L661.0,91.2L661.5,91.2L662.0,91.2L662.5,91.2L663.0,91.2L663.5,91.2L664.0,91.2L664.5,91.2L665.0,91.1L665.5,91.1L666.0,91.1L666.5,91.1L667.0,91.1L667.5,91.1L668.0,91.1L668.5,91.1L669.0,91.1L669.5,91.1L670.0,91.1L670.5,91.1L671.0,91.1L671.5,91.1L672.0,91.1L672.5,91.0L673.0,91.0L673.5,91.0L674.0,91.0L674.5,91.0L675.0,91.0L675.5,91.0L676.0,91.0" fill="none" stroke="#dd7ddd" stroke-width="1.0" stroke-linejoin="round"/>
<path d="M476.0,92.3L476.5,92.3L477.0,92.3L477.5,92.3L478.0,92.3L478.5,92.3L479.0,92.3L479.5,92.3L480.0,92.3L480.5,92.3L481.0,92.3L481.5,92.3L482.0,92.3L482.5,92.3L483.0,92.3L483.5,92.3L484.0,92.3L484.5,92.3L485.0,92.3L485.5,92.3L486.0,92.3L486.5,92.3L487.0,92.3L487.5,92.3L488.0,92.3L488.5,92.3L489.0,92.3L489.5,92.3L490.0,92.3L490.5,92.3L491.0,92.3L491.5,92.2L492.0,92.2L492.5,92.2L493.0,92.2L493.5,92.2L494.0,92.2L494.5,92.2L495.0,92.2L495.5,92.2L496.0,92.2L496.5,92.2L497.0,92.2L497.5,92.2L498.0,92.2L498.5,92.2L499.0,92.2L499.5,92.2L500.0,92.2L500.5,92.2L501.0,92.2L501.5,92.2L502.0,92.2L502.5,92.1L503.0,92.1L503.5,92.1L504.0,92.1L504.5,92.1L505.0,92.1L505.5,92.1L506.0,92.1L506.5,92.1L507.0,92.1L507.5,92.1L508.0,92.1L508.5,92.1L509.0,92.1L509.5,92.0L510.0,92.0L510.5,92.0L511.0,92.0L511.5,92.0L512.0,92.0L512.5,92.0L513.0,92.0L513.5,92.0L514.0,92.0L514.5,92.0L515.0,92.0L515.5,91.9L516.0,91.9L516.5,91.9L517.0,91.9L517.5,91.9L518.0,91.9L518.5,91.9L519.0,91.9L519.5,91.8L520.0,91.8L520.5,91.8L521.0,91.7L521.5,91.7L522.0,91.7L522.5,91.6L523.0,91.6L523.5,91.5L524.0,91.5L524.5,91.4L525.0,91.3L525.5,91.3L526.0,91.2L526.5,91.1L527.0,91.1L527.5,91.0L528.0,90.9L528.5,90.8L529.0,90.7L529.5,90.5L530.0,90.3L530.5,90.1L531.0,89.9L531.5,89.6L532.0,89.4L532.5,89.1L533.0,88.8L533.5,88.5L534.0,88.1L534.5,87.8L535.0,87.4L535.5,87.1L536.0,86.7L536.5,86.3L537.0,85.9L537.5,85.5L538.0,85.1L538.5,84.5L539.0,84.0L539.5,83.4L540.0,82.7L540.5,82.0L541.0,81.2L541.5,80.4L542.0,79.5L542.5,78.6L543.0,77.6L543.5,76.5L544.0,75.2L544.5,73.9L545.0,72.4L545.5,70.9L546.0,69.4L546.5,67.9L547.0,66.4L547.5,65.0L548.0,63.6L548.5,62.1L549.0,60.6L549.5,59.1L550.0,57.6L550.5,56.0L551.0,54.5L551.5,53.1L552.0,51.6L552.5,50.2L553.0,48.8L553.5,47.3L554.0,45.8L554.5,44.5L555.0,43.3L555.5,42.3L556.0,41.5L556.5,40.8L557.0,40.1L557.5,39.5L558.0,38.9L558.5,38.4L559.0,38.0L559.5,37.7L560.0,37.4L560.5,37.2L561.0,36.9L561.5,36.8L562.0,36.6L562.5,36.6L563.0,36.6L563.5,36.8L564.0,37.0L564.5,37.3L565.0,37.6L565.5,38.0L566.0,38.5L566.5,39.0L567.0,39.5L567.5,40.0L568.0,40.7L568.5,41.5L569.0,42.6L569.5,43.8L570.0,45.1L570.5,46.5L571.0,48.0L571.5,49.5L572.0,51.0L572.5,52.5L573.0,54.0L573.5,55.7L574.0,57.4L574.5,59.2L575.0,61.1L575.5,62.9L576.0,64.7L576.5,66.4L577.0,68.0L577.5,69.5L578.0,70.8L578.5,72.2L579.0,73.4L579.5,74.7L580.0,75.8L580.5,77.0L581.0,78.0L581.5,79.1L582.0,80.0L582.5,80.9L583.0,81.8L583.5,82.6L584.0,83.5L584.5,84.3L585.0,85.1L585.5,85.8L586.0,86.4L586.5,87.0L587.0,87.4L587.5,87.7L588.0,87.9L588.5,88.2L589.0,88.4L589.5,88.6L590.0,88.8L590.5,88.9L591.0,89.1L591.5,89.3L592.0,89.4L592.5,89.5L593.0,89.7L593.5,89.8L594.0,89.9L594.5,90.0L595.0,90.1L595.5,90.1L596.0,90.2L596.5,90.3L597.0,90.3L597.5,90.4L598.0,90.4L598.5,90.5L599.0,90.5L599.5,90.6L600.0,90.6L600.5,90.7L601.0,90.7L601.5,90.8L602.0,90.8L602.5,90.8L603.0,90.9L603.5,90.9L604.0,90.9L604.5,90.9L605.0,91.0L605.5,91.0L606.0,91.0L606.5,91.0L607.0,91.0L607.5,91.0L608.0,91.0L608.5,91.0L609.0,91.0L609.5,91.0L610.0,91.0L610.5,91.0L611.0,91.0L611.5,91.0L612.0,91.0L612.5,91.0L613.0,91.0L613.5,91.0L614.0,91.0L614.5,91.0L615.0,91.0L615.5,91.0L616.0,91.0L616.5,91.0L617.0,91.0L617.5,91.0L618.0,91.0L618.5,91.0L619.0,91.0L619.5,91.0L620.0,91.0L620.5,91.0L621.0,91.0L621.5,91.0L622.0,91.0L622.5,91.0L623.0,91.0L623.5,91.0L624.0,91.0L624.5,91.0L625.0,91.0L625.5,91.0L626.0,91.0L626.5,91.0L627.0,91.0L627.5,91.0L628.0,91.0L628.5,91.0L629.0,91.0L629.5,91.0L630.0,91.0L630.5,91.0L631.0,91.0L631.5,91.0L632.0,91.0L632.5,91.0L633.0,91.0L633.5,91.0L634.0,91.0L634.5,91.0L635.0,91.0L635.5,91.0L636.0,91.0L636.5,91.0L637.0,91.0L637.5,91.0L638.0,91.0L638.5,91.0L639.0,91.0L639.5,91.0L640.0,91.0L640.5,91.0L641.0,91.0L641.5,91.0L642.0,91.0L642.5,91.0L643.0,91.0L643.5,91.0L644.0,91.0L644.5,91.0L645.0,91.0L645.5,91.0L646.0,91.0L646.5,91.0L647.0,91.0L647.5,91.0L648.0,91.0L648.5,91.0L649.0,91.0L649.5,91.0L650.0,91.0L650.5,91.0L651.0,91.0L651.5,91.0L652.0,91.0L652.5,91.0L653.0,91.0L653.5,91.0L654.0,91.0L654.5,91.0L655.0,91.0L655.5,91.0L656.0,91.0L656.5,91.0L657.0,91.0L657.5,91.0L658.0,91.0L658.5,91.0L659.0,91.0L659.5,91.0L660.0,91.0L660.5,91.0L661.0,91.0L661.5,91.0L662.0,91.0L662.5,91.0L663.0,91.0L663.5,91.0L664.0,91.0L664.5,91.0L665.0,91.0L665.5,91.0L666.0,91.0L666.5,91.0L667.0,91.0L667.5,91.0L668.0,91.0L668.5,91.0L669.0,91.0L669.5,91.0L670.0,91.0L670.5,91.0L671.0,91.0L671.5,91.0L672.0,91.0L672.5,91.0L673.0,91.0L673.5,91.0L674.0,91.0L674.5,91.0L675.0,91.0L675.5,91.0L676.0,91.0" fill="none" stroke="#2ecc2e" stroke-width="1.05" stroke-linejoin="round"/>
<path d="M476.0,92.6L476.5,92.6L477.0,92.6L477.5,92.6L478.0,92.6L478.5,92.6L479.0,92.6L479.5,92.6L480.0,92.6L480.5,92.6L481.0,92.6L481.5,92.6L482.0,92.6L482.5,92.6L483.0,92.6L483.5,92.6L484.0,92.6L484.5,92.6L485.0,92.6L485.5,92.6L486.0,92.6L486.5,92.6L487.0,92.6L487.5,92.6L488.0,92.6L488.5,92.6L489.0,92.6L489.5,92.6L490.0,92.6L490.5,92.6L491.0,92.6L491.5,92.6L492.0,92.6L492.5,92.6L493.0,92.6L493.5,92.6L494.0,92.6L494.5,92.5L495.0,92.5L495.5,92.5L496.0,92.5L496.5,92.5L497.0,92.5L497.5,92.5L498.0,92.5L498.5,92.5L499.0,92.5L499.5,92.5L500.0,92.5L500.5,92.5L501.0,92.5L501.5,92.5L502.0,92.5L502.5,92.5L503.0,92.5L503.5,92.5L504.0,92.5L504.5,92.5L505.0,92.5L505.5,92.5L506.0,92.5L506.5,92.5L507.0,92.5L507.5,92.4L508.0,92.4L508.5,92.4L509.0,92.4L509.5,92.4L510.0,92.4L510.5,92.4L511.0,92.4L511.5,92.4L512.0,92.4L512.5,92.4L513.0,92.4L513.5,92.4L514.0,92.4L514.5,92.4L515.0,92.4L515.5,92.4L516.0,92.3L516.5,92.3L517.0,92.3L517.5,92.3L518.0,92.3L518.5,92.3L519.0,92.3L519.5,92.3L520.0,92.3L520.5,92.3L521.0,92.3L521.5,92.3L522.0,92.3L522.5,92.3L523.0,92.2L523.5,92.2L524.0,92.2L524.5,92.2L525.0,92.2L525.5,92.2L526.0,92.2L526.5,92.2L527.0,92.2L527.5,92.2L528.0,92.2L528.5,92.2L529.0,92.1L529.5,92.1L530.0,92.1L530.5,92.1L531.0,92.1L531.5,92.1L532.0,92.1L532.5,92.1L533.0,92.1L533.5,92.1L534.0,92.0L534.5,92.0L535.0,92.0L535.5,92.0L536.0,92.0L536.5,92.0L537.0,92.0L537.5,92.0L538.0,92.0L538.5,92.0L539.0,91.9L539.5,91.9L540.0,91.9L540.5,91.9L541.0,91.9L541.5,91.9L542.0,91.9L542.5,91.9L543.0,91.8L543.5,91.8L544.0,91.8L544.5,91.8L545.0,91.8L545.5,91.8L546.0,91.8L546.5,91.8L547.0,91.7L547.5,91.7L548.0,91.7L548.5,91.6L549.0,91.6L549.5,91.6L550.0,91.5L550.5,91.5L551.0,91.5L551.5,91.4L552.0,91.4L552.5,91.3L553.0,91.3L553.5,91.2L554.0,91.1L554.5,91.1L555.0,91.0L555.5,90.9L556.0,90.8L556.5,90.7L557.0,90.5L557.5,90.3L558.0,90.1L558.5,89.9L559.0,89.6L559.5,89.4L560.0,89.1L560.5,88.8L561.0,88.5L561.5,88.1L562.0,87.8L562.5,87.4L563.0,87.1L563.5,86.7L564.0,86.3L564.5,85.9L565.0,85.5L565.5,85.1L566.0,84.6L566.5,84.0L567.0,83.5L567.5,82.8L568.0,82.1L568.5,81.4L569.0,80.7L569.5,79.9L570.0,79.1L570.5,78.2L571.0,77.3L571.5,76.4L572.0,75.5L572.5,74.5L573.0,73.6L573.5,72.6L574.0,71.6L574.5,70.5L575.0,69.5L575.5,68.4L576.0,67.1L576.5,65.6L577.0,64.1L577.5,62.5L578.0,61.0L578.5,59.5L579.0,58.2L579.5,56.9L580.0,55.9L580.5,55.0L581.0,54.1L581.5,53.3L582.0,52.5L582.5,51.8L583.0,51.1L583.5,50.5L584.0,49.9L584.5,49.4L585.0,49.0L585.5,48.6L586.0,48.2L586.5,47.9L587.0,47.5L587.5,47.2L588.0,47.0L588.5,46.7L589.0,46.5L589.5,46.4L590.0,46.4L590.5,46.4L591.0,46.5L591.5,46.7L592.0,46.9L592.5,47.2L593.0,47.5L593.5,47.8L594.0,48.2L594.5,48.6L595.0,49.0L595.5,49.5L596.0,50.2L596.5,50.9L597.0,51.8L597.5,52.8L598.0,53.9L598.5,55.0L599.0,56.1L599.5,57.2L600.0,58.2L600.5,59.2L601.0,60.3L601.5,61.5L602.0,62.6L602.5,63.8L603.0,64.9L603.5,66.1L604.0,67.3L604.5,68.4L605.0,69.5L605.5,70.6L606.0,71.7L606.5,72.8L607.0,73.9L607.5,75.0L608.0,76.0L608.5,77.0L609.0,78.0L609.5,78.9L610.0,79.8L610.5,80.6L611.0,81.4L611.5,82.2L612.0,83.0L612.5,83.7L613.0,84.4L613.5,85.0L614.0,85.6L614.5,86.1L615.0,86.6L615.5,87.0L616.0,87.4L616.5,87.8L617.0,88.2L617.5,88.5L618.0,88.8L618.5,89.1L619.0,89.3L619.5,89.5L620.0,89.6L620.5,89.7L621.0,89.8L621.5,89.8L622.0,89.9L622.5,90.0L623.0,90.0L623.5,90.1L624.0,90.2L624.5,90.2L625.0,90.3L625.5,90.3L626.0,90.3L626.5,90.4L627.0,90.4L627.5,90.4L628.0,90.5L628.5,90.5L629.0,90.5L629.5,90.5L630.0,90.5L630.5,90.5L631.0,90.5L631.5,90.5L632.0,90.5L632.5,90.5L633.0,90.5L633.5,90.5L634.0,90.5L634.5,90.5L635.0,90.5L635.5,90.5L636.0,90.5L636.5,90.5L637.0,90.5L637.5,90.5L638.0,90.5L638.5,90.5L639.0,90.5L639.5,90.5L640.0,90.5L640.5,90.5L641.0,90.5L641.5,90.6L642.0,90.6L642.5,90.6L643.0,90.6L643.5,90.6L644.0,90.6L644.5,90.6L645.0,90.6L645.5,90.6L646.0,90.6L646.5,90.6L647.0,90.6L647.5,90.6L648.0,90.6L648.5,90.6L649.0,90.6L649.5,90.6L650.0,90.6L650.5,90.6L651.0,90.6L651.5,90.6L652.0,90.6L652.5,90.6L653.0,90.6L653.5,90.6L654.0,90.6L654.5,90.6L655.0,90.6L655.5,90.6L656.0,90.6L656.5,90.6L657.0,90.6L657.5,90.6L658.0,90.6L658.5,90.6L659.0,90.6L659.5,90.6L660.0,90.6L660.5,90.6L661.0,90.6L661.5,90.6L662.0,90.6L662.5,90.6L663.0,90.6L663.5,90.6L664.0,90.6L664.5,90.6L665.0,90.6L665.5,90.6L666.0,90.6L666.5,90.6L667.0,90.6L667.5,90.6L668.0,90.6L668.5,90.6L669.0,90.6L669.5,90.6L670.0,90.6L670.5,90.6L671.0,90.6L671.5,90.6L672.0,90.6L672.5,90.6L673.0,90.6L673.5,90.6L674.0,90.6L674.5,90.6L675.0,90.6L675.5,90.6L676.0,90.6" fill="none" stroke="#2323d6" stroke-width="1.05" stroke-linejoin="round"/>
<path d="M476.0,93.4L476.5,93.4L477.0,93.4L477.5,93.3L478.0,93.3L478.5,93.2L479.0,93.2L479.5,93.1L480.0,93.1L480.5,93.0L481.0,92.9L481.5,92.9L482.0,92.8L482.5,92.7L483.0,92.6L483.5,92.6L484.0,92.5L484.5,92.4L485.0,92.3L485.5,92.2L486.0,92.1L486.5,92.0L487.0,91.9L487.5,91.7L488.0,91.6L488.5,91.5L489.0,91.3L489.5,91.2L490.0,91.0L490.5,90.8L491.0,90.7L491.5,90.5L492.0,90.3L492.5,90.1L493.0,89.8L493.5,89.6L494.0,89.4L494.5,89.1L495.0,88.8L495.5,88.5L496.0,88.1L496.5,87.7L497.0,87.3L497.5,86.8L498.0,86.3L498.5,85.8L499.0,85.3L499.5,84.8L500.0,84.3L500.5,83.8L501.0,83.3L501.5,82.8L502.0,82.2L502.5,81.7L503.0,81.1L503.5,80.5L504.0,79.9L504.5,79.3L505.0,78.6L505.5,77.9L506.0,77.1L506.5,76.2L507.0,75.3L507.5,74.4L508.0,73.4L508.5,72.4L509.0,71.5L509.5,70.5L510.0,69.5L510.5,68.5L511.0,67.5L511.5,66.4L512.0,65.4L512.5,64.3L513.0,63.2L513.5,62.2L514.0,61.2L514.5,60.2L515.0,59.3L515.5,58.4L516.0,57.6L516.5,56.8L517.0,56.1L517.5,55.4L518.0,54.7L518.5,54.0L519.0,53.4L519.5,52.7L520.0,52.1L520.5,51.5L521.0,50.9L521.5,50.5L522.0,50.2L522.5,49.9L523.0,49.7L523.5,49.5L524.0,49.3L524.5,49.1L525.0,48.9L525.5,48.8L526.0,48.7L526.5,48.6L527.0,48.6L527.5,48.6L528.0,48.7L528.5,48.8L529.0,49.0L529.5,49.1L530.0,49.3L530.5,49.6L531.0,49.8L531.5,50.0L532.0,50.2L532.5,50.4L533.0,50.7L533.5,51.0L534.0,51.3L534.5,51.6L535.0,51.9L535.5,52.2L536.0,52.6L536.5,52.9L537.0,53.1L537.5,53.4L538.0,53.6L538.5,53.8L539.0,54.0L539.5,54.2L540.0,54.4L540.5,54.6L541.0,54.7L541.5,54.8L542.0,54.8L542.5,54.8L543.0,54.7L543.5,54.5L544.0,54.3L544.5,54.0L545.0,53.7L545.5,53.4L546.0,53.0L546.5,52.6L547.0,52.2L547.5,51.8L548.0,51.4L548.5,50.9L549.0,50.4L549.5,49.8L550.0,49.1L550.5,48.4L551.0,47.6L551.5,46.8L552.0,46.0L552.5,45.3L553.0,44.5L553.5,43.7L554.0,42.9L554.5,42.1L555.0,41.3L555.5,40.5L556.0,39.6L556.5,38.8L557.0,38.0L557.5,37.3L558.0,36.6L558.5,35.9L559.0,35.3L559.5,34.7L560.0,34.1L560.5,33.5L561.0,33.0L561.5,32.5L562.0,32.0L562.5,31.5L563.0,31.0L563.5,30.5L564.0,30.0L564.5,29.6L565.0,29.3L565.5,29.1L566.0,29.0L566.5,29.0L567.0,29.1L567.5,29.1L568.0,29.2L568.5,29.4L569.0,29.5L569.5,29.6L570.0,29.8L570.5,30.0L571.0,30.4L571.5,30.8L572.0,31.3L572.5,31.8L573.0,32.3L573.5,32.8L574.0,33.2L574.5,33.5L575.0,33.9L575.5,34.2L576.0,34.6L576.5,34.9L577.0,35.2L577.5,35.5L578.0,35.7L578.5,36.0L579.0,36.2L579.5,36.4L580.0,36.6L580.5,36.7L581.0,36.9L581.5,37.0L582.0,37.1L582.5,37.2L583.0,37.3L583.5,37.4L584.0,37.5L584.5,37.6L585.0,37.7L585.5,37.8L586.0,38.0L586.5,38.1L587.0,38.3L587.5,38.5L588.0,38.6L588.5,38.8L589.0,39.0L589.5,39.3L590.0,39.5L590.5,39.8L591.0,40.1L591.5,40.4L592.0,40.8L592.5,41.3L593.0,41.8L593.5,42.4L594.0,43.1L594.5,43.9L595.0,44.9L595.5,45.8L596.0,46.8L596.5,47.9L597.0,49.1L597.5,50.4L598.0,51.7L598.5,53.1L599.0,54.4L599.5,55.8L600.0,57.0L600.5,58.2L601.0,59.3L601.5,60.4L602.0,61.6L602.5,62.7L603.0,63.8L603.5,64.9L604.0,66.0L604.5,67.2L605.0,68.4L605.5,69.6L606.0,70.8L606.5,71.9L607.0,73.1L607.5,74.2L608.0,75.2L608.5,76.2L609.0,77.1L609.5,78.1L610.0,79.0L610.5,79.8L611.0,80.6L611.5,81.4L612.0,82.0L612.5,82.6L613.0,83.2L613.5,83.7L614.0,84.2L614.5,84.7L615.0,85.2L615.5,85.6L616.0,86.0L616.5,86.4L617.0,86.7L617.5,87.0L618.0,87.3L618.5,87.5L619.0,87.8L619.5,88.0L620.0,88.2L620.5,88.4L621.0,88.6L621.5,88.8L622.0,88.9L622.5,89.1L623.0,89.2L623.5,89.3L624.0,89.4L624.5,89.5L625.0,89.5L625.5,89.5L626.0,89.6L626.5,89.6L627.0,89.6L627.5,89.7L628.0,89.7L628.5,89.7L629.0,89.7L629.5,89.8L630.0,89.8L630.5,89.8L631.0,89.8L631.5,89.8L632.0,89.9L632.5,89.9L633.0,89.9L633.5,89.9L634.0,89.9L634.5,89.9L635.0,89.9L635.5,90.0L636.0,90.0L636.5,90.0L637.0,90.0L637.5,90.0L638.0,90.0L638.5,90.0L639.0,90.0L639.5,90.0L640.0,90.0L640.5,90.0L641.0,90.0L641.5,90.0L642.0,90.0L642.5,90.0L643.0,90.0L643.5,90.0L644.0,90.0L644.5,90.0L645.0,90.0L645.5,90.0L646.0,90.0L646.5,90.0L647.0,90.0L647.5,90.0L648.0,90.0L648.5,90.0L649.0,90.0L649.5,90.0L650.0,90.0L650.5,90.0L651.0,90.0L651.5,90.0L652.0,90.0L652.5,90.0L653.0,90.0L653.5,90.0L654.0,90.0L654.5,90.0L655.0,90.0L655.5,90.0L656.0,90.0L656.5,90.0L657.0,89.9L657.5,89.9L658.0,89.9L658.5,89.9L659.0,89.9L659.5,89.9L660.0,89.9L660.5,89.9L661.0,89.9L661.5,89.9L662.0,89.9L662.5,89.9L663.0,89.9L663.5,89.9L664.0,89.9L664.5,89.8L665.0,89.8L665.5,89.8L666.0,89.8L666.5,89.8L667.0,89.8L667.5,89.8L668.0,89.8L668.5,89.8L669.0,89.7L669.5,89.7L670.0,89.7L670.5,89.7L671.0,89.7L671.5,89.7L672.0,89.6L672.5,89.6L673.0,89.6L673.5,89.6L674.0,89.6L674.5,89.6L675.0,89.5L675.5,89.5L676.0,89.5" fill="none" stroke="#de4a74" stroke-width="1.9" stroke-linejoin="round"/>
<path d="M476.0,93.4L476.5,93.4L477.0,93.2L477.5,93.2L478.0,93.5L478.5,93.7L479.0,93.1L479.5,92.6L480.0,93.4L480.5,93.2L481.0,93.1L481.5,92.9L482.0,93.5L482.5,92.7L483.0,92.8L483.5,92.0L484.0,92.3L484.5,92.2L485.0,92.3L485.5,92.3L486.0,91.9L486.5,92.5L487.0,91.5L487.5,91.6L488.0,91.7L488.5,91.1L489.0,91.5L489.5,91.3L490.0,90.9L490.5,91.4L491.0,90.7L491.5,90.5L492.0,90.0L492.5,89.5L493.0,89.6L493.5,89.5L494.0,89.2L494.5,89.3L495.0,88.1L495.5,88.1L496.0,87.6L496.5,88.1L497.0,87.1L497.5,86.6L498.0,86.0L498.5,86.1L499.0,85.2L499.5,84.9L500.0,83.7L500.5,84.1L501.0,83.4L501.5,82.9L502.0,82.6L502.5,81.6L503.0,81.1L503.5,80.7L504.0,80.0L504.5,79.2L505.0,78.6L505.5,77.7L506.0,77.3L506.5,76.5L507.0,75.3L507.5,74.9L508.0,72.9L508.5,72.4L509.0,72.0L509.5,70.3L510.0,69.0L510.5,68.9L511.0,67.6L511.5,66.1L512.0,65.6L512.5,64.0L513.0,62.8L513.5,62.1L514.0,61.0L514.5,59.9L515.0,59.2L515.5,58.1L516.0,57.6L516.5,56.8L517.0,56.3L517.5,55.2L518.0,54.3L518.5,53.6L519.0,53.3L519.5,53.1L520.0,52.3L520.5,51.3L521.0,51.2L521.5,50.2L522.0,50.5L522.5,49.8L523.0,49.9L523.5,49.7L524.0,49.2L524.5,49.2L525.0,48.6L525.5,48.7L526.0,49.0L526.5,49.8L527.0,48.8L527.5,48.6L528.0,48.4L528.5,49.1L529.0,48.5L529.5,48.9L530.0,49.4L530.5,49.2L531.0,50.2L531.5,50.3L532.0,50.0L532.5,50.2L533.0,50.3L533.5,50.5L534.0,51.4L534.5,51.8L535.0,52.0L535.5,52.3L536.0,52.4L536.5,53.0L537.0,52.7L537.5,53.4L538.0,54.0L538.5,54.2L539.0,53.9L539.5,54.1L540.0,54.8L540.5,55.1L541.0,54.2L541.5,54.6L542.0,54.9L542.5,55.1L543.0,54.4L543.5,54.7L544.0,54.2L544.5,54.7L545.0,53.8L545.5,53.3L546.0,52.9L546.5,52.9L547.0,52.4L547.5,51.5L548.0,51.5L548.5,50.5L549.0,50.2L549.5,49.4L550.0,48.7L550.5,48.1L551.0,47.3L551.5,47.0L552.0,46.3L552.5,45.2L553.0,44.1L553.5,44.0L554.0,42.3L554.5,41.5L555.0,41.5L555.5,40.6L556.0,39.9L556.5,38.7L557.0,37.6L557.5,37.1L558.0,36.8L558.5,35.7L559.0,35.1L559.5,34.3L560.0,33.7L560.5,33.8L561.0,33.1L561.5,32.1L562.0,31.7L562.5,31.3L563.0,31.2L563.5,30.2L564.0,30.0L564.5,29.0L565.0,28.9L565.5,29.2L566.0,29.3L566.5,28.7L567.0,28.8L567.5,29.4L568.0,29.1L568.5,29.2L569.0,29.6L569.5,29.7L570.0,30.1L570.5,30.3L571.0,30.2L571.5,30.8L572.0,31.3L572.5,31.4L573.0,32.0L573.5,33.1L574.0,32.7L574.5,33.8L575.0,34.0L575.5,34.2L576.0,34.7L576.5,35.0L577.0,35.5L577.5,35.3L578.0,35.7L578.5,35.9L579.0,36.8L579.5,36.7L580.0,36.3L580.5,36.6L581.0,36.6L581.5,37.0L582.0,37.1L582.5,37.9L583.0,36.7L583.5,37.7L584.0,37.6L584.5,37.3L585.0,37.6L585.5,37.7L586.0,38.0L586.5,38.4L587.0,37.8L587.5,38.8L588.0,38.5L588.5,39.3L589.0,39.1L589.5,39.6L590.0,39.7L590.5,40.1L591.0,40.1L591.5,40.2L592.0,41.0L592.5,41.5L593.0,42.4L593.5,41.8L594.0,43.0L594.5,44.3L595.0,44.5L595.5,45.7L596.0,47.4L596.5,48.3L597.0,48.8L597.5,50.8L598.0,52.0L598.5,53.3L599.0,54.5L599.5,55.8L600.0,56.7L600.5,58.0L601.0,59.5L601.5,60.5L602.0,62.1L602.5,62.6L603.0,63.0L603.5,64.8L604.0,66.1L604.5,67.3L605.0,68.4L605.5,69.3L606.0,71.2L606.5,71.7L607.0,73.3L607.5,74.1L608.0,74.8L608.5,76.6L609.0,76.4L609.5,77.8L610.0,79.1L610.5,79.7L611.0,80.9L611.5,81.3L612.0,81.9L612.5,83.2L613.0,83.1L613.5,83.6L614.0,83.9L614.5,84.5L615.0,85.4L615.5,85.8L616.0,86.0L616.5,86.2L617.0,86.9L617.5,86.5L618.0,87.2L618.5,87.5L619.0,87.5L619.5,88.0L620.0,88.0L620.5,88.1L621.0,89.1L621.5,89.0L622.0,89.3L622.5,89.1L623.0,89.5L623.5,89.5L624.0,89.7L624.5,90.2L625.0,89.4L625.5,89.6L626.0,89.5L626.5,88.5L627.0,89.2L627.5,89.7L628.0,89.9L628.5,89.5L629.0,90.1L629.5,90.1L630.0,89.7L630.5,90.2L631.0,90.3L631.5,90.0L632.0,89.6L632.5,90.3L633.0,89.8L633.5,89.8L634.0,90.0L634.5,89.8L635.0,90.3L635.5,90.2L636.0,90.3L636.5,90.1L637.0,89.7L637.5,89.9L638.0,90.3L638.5,89.9L639.0,90.9L639.5,89.9L640.0,89.8L640.5,90.3L641.0,90.2L641.5,90.0L642.0,89.9L642.5,90.1L643.0,90.3L643.5,90.2L644.0,89.9L644.5,90.1L645.0,90.3L645.5,90.2L646.0,89.1L646.5,89.7L647.0,89.8L647.5,89.9L648.0,90.0L648.5,90.3L649.0,90.2L649.5,90.0L650.0,90.0L650.5,90.5L651.0,89.8L651.5,90.1L652.0,90.5L652.5,90.1L653.0,89.4L653.5,90.1L654.0,89.9L654.5,89.9L655.0,90.3L655.5,90.1L656.0,89.9L656.5,90.2L657.0,90.1L657.5,90.0L658.0,90.0L658.5,90.0L659.0,89.8L659.5,89.8L660.0,89.9L660.5,89.6L661.0,89.5L661.5,90.3L662.0,89.8L662.5,89.9L663.0,89.8L663.5,89.9L664.0,89.9L664.5,89.9L665.0,89.6L665.5,90.1L666.0,89.6L666.5,90.1L667.0,89.2L667.5,89.5L668.0,90.1L668.5,89.7L669.0,89.5L669.5,89.8L670.0,89.4L670.5,89.7L671.0,89.0L671.5,89.5L672.0,89.5L672.5,89.8L673.0,89.9L673.5,89.3L674.0,90.1L674.5,89.4L675.0,88.9L675.5,88.8L676.0,90.0" fill="none" stroke="#3a0e1a" stroke-width="1.1" stroke-linejoin="round" stroke-dasharray="2.2,0.7"/>
<path d="M476.0,169.1L476.5,169.1L477.0,169.1L477.5,169.1L478.0,169.1L478.5,169.1L479.0,169.1L479.5,169.0L480.0,169.0L480.5,169.0L481.0,169.0L481.5,169.0L482.0,168.9L482.5,168.9L483.0,168.9L483.5,168.9L484.0,168.8L484.5,168.8L485.0,168.8L485.5,168.7L486.0,168.7L486.5,168.7L487.0,168.6L487.5,168.6L488.0,168.6L488.5,168.5L489.0,168.5L489.5,168.4L490.0,168.4L490.5,168.4L491.0,168.3L491.5,168.2L492.0,168.2L492.5,168.1L493.0,168.0L493.5,167.9L494.0,167.8L494.5,167.7L495.0,167.6L495.5,167.5L496.0,167.4L496.5,167.3L497.0,167.1L497.5,167.0L498.0,166.9L498.5,166.7L499.0,166.5L499.5,166.4L500.0,166.2L500.5,166.0L501.0,165.8L501.5,165.5L502.0,165.2L502.5,164.8L503.0,164.5L503.5,164.1L504.0,163.7L504.5,163.2L505.0,162.8L505.5,162.3L506.0,161.8L506.5,161.2L507.0,160.6L507.5,159.9L508.0,159.2L508.5,158.4L509.0,157.7L509.5,156.8L510.0,156.0L510.5,155.1L511.0,154.1L511.5,153.1L512.0,152.0L512.5,150.8L513.0,149.6L513.5,148.4L514.0,147.2L514.5,145.9L515.0,144.6L515.5,143.3L516.0,141.9L516.5,140.5L517.0,139.0L517.5,137.5L518.0,136.0L518.5,134.5L519.0,133.0L519.5,131.4L520.0,129.9L520.5,128.4L521.0,126.8L521.5,125.1L522.0,123.5L522.5,121.9L523.0,120.3L523.5,118.8L524.0,117.4L524.5,116.0L525.0,114.6L525.5,113.2L526.0,111.9L526.5,110.8L527.0,109.9L527.5,109.1L528.0,108.4L528.5,107.7L529.0,107.1L529.5,106.7L530.0,106.4L530.5,106.2L531.0,106.0L531.5,105.9L532.0,105.8L532.5,105.7L533.0,105.7L533.5,105.9L534.0,106.1L534.5,106.3L535.0,106.7L535.5,107.0L536.0,107.5L536.5,108.0L537.0,108.5L537.5,109.0L538.0,109.8L538.5,110.9L539.0,112.3L539.5,113.9L540.0,115.7L540.5,117.5L541.0,119.4L541.5,121.1L542.0,122.7L542.5,124.2L543.0,125.6L543.5,127.1L544.0,128.5L544.5,130.0L545.0,131.4L545.5,132.9L546.0,134.4L546.5,135.9L547.0,137.4L547.5,139.0L548.0,140.7L548.5,142.4L549.0,144.2L549.5,145.9L550.0,147.6L550.5,149.2L551.0,150.8L551.5,152.2L552.0,153.5L552.5,154.9L553.0,156.2L553.5,157.5L554.0,158.7L554.5,159.8L555.0,160.8L555.5,161.7L556.0,162.4L556.5,163.1L557.0,163.7L557.5,164.3L558.0,164.9L558.5,165.4L559.0,165.9L559.5,166.3L560.0,166.6L560.5,166.8L561.0,167.0L561.5,167.1L562.0,167.2L562.5,167.3L563.0,167.4L563.5,167.5L564.0,167.5L564.5,167.6L565.0,167.7L565.5,167.7L566.0,167.8L566.5,167.8L567.0,167.9L567.5,167.9L568.0,167.9L568.5,168.0L569.0,168.0L569.5,168.0L570.0,168.0L570.5,168.0L571.0,168.0L571.5,168.0L572.0,168.0L572.5,168.0L573.0,168.0L573.5,168.0L574.0,168.0L574.5,168.0L575.0,168.0L575.5,168.0L576.0,168.0L576.5,168.0L577.0,168.0L577.5,168.0L578.0,168.0L578.5,168.0L579.0,168.0L579.5,168.0L580.0,168.0L580.5,168.0L581.0,168.0L581.5,168.0L582.0,168.0L582.5,168.0L583.0,168.0L583.5,168.0L584.0,168.0L584.5,168.0L585.0,168.0L585.5,168.0L586.0,168.0L586.5,168.0L587.0,168.0L587.5,168.0L588.0,168.0L588.5,168.0L589.0,168.0L589.5,168.0L590.0,168.0L590.5,168.0L591.0,168.0L591.5,168.0L592.0,168.0L592.5,168.0L593.0,168.0L593.5,168.0L594.0,168.0L594.5,168.0L595.0,168.0L595.5,168.0L596.0,168.0L596.5,168.0L597.0,168.0L597.5,168.0L598.0,168.0L598.5,168.0L599.0,168.0L599.5,168.0L600.0,168.0L600.5,168.0L601.0,168.0L601.5,168.0L602.0,168.0L602.5,168.0L603.0,168.0L603.5,168.0L604.0,168.0L604.5,168.0L605.0,168.0L605.5,168.0L606.0,168.0L606.5,168.0L607.0,168.0L607.5,168.0L608.0,168.0L608.5,168.0L609.0,168.0L609.5,168.0L610.0,168.0L610.5,168.0L611.0,168.0L611.5,168.0L612.0,168.0L612.5,168.0L613.0,168.0L613.5,168.0L614.0,168.0L614.5,168.0L615.0,168.0L615.5,168.0L616.0,168.0L616.5,168.0L617.0,168.0L617.5,168.0L618.0,168.0L618.5,168.0L619.0,168.0L619.5,168.0L620.0,168.0L620.5,168.0L621.0,168.0L621.5,168.0L622.0,168.0L622.5,168.0L623.0,167.9L623.5,167.9L624.0,167.9L624.5,167.9L625.0,167.9L625.5,167.9L626.0,167.9L626.5,167.9L627.0,167.9L627.5,167.9L628.0,167.9L628.5,167.9L629.0,167.9L629.5,167.9L630.0,167.9L630.5,167.9L631.0,167.9L631.5,167.9L632.0,167.9L632.5,167.9L633.0,167.9L633.5,167.9L634.0,167.9L634.5,167.9L635.0,167.9L635.5,167.9L636.0,167.9L636.5,167.9L637.0,167.9L637.5,167.9L638.0,167.9L638.5,167.9L639.0,167.9L639.5,167.9L640.0,167.9L640.5,167.9L641.0,167.9L641.5,167.9L642.0,167.9L642.5,167.9L643.0,167.9L643.5,167.9L644.0,167.9L644.5,167.9L645.0,167.9L645.5,167.9L646.0,167.9L646.5,167.8L647.0,167.8L647.5,167.8L648.0,167.8L648.5,167.8L649.0,167.8L649.5,167.8L650.0,167.8L650.5,167.8L651.0,167.8L651.5,167.8L652.0,167.8L652.5,167.8L653.0,167.8L653.5,167.8L654.0,167.8L654.5,167.8L655.0,167.8L655.5,167.8L656.0,167.8L656.5,167.8L657.0,167.8L657.5,167.8L658.0,167.8L658.5,167.8L659.0,167.8L659.5,167.8L660.0,167.8L660.5,167.8L661.0,167.7L661.5,167.7L662.0,167.7L662.5,167.7L663.0,167.7L663.5,167.7L664.0,167.7L664.5,167.7L665.0,167.7L665.5,167.7L666.0,167.7L666.5,167.7L667.0,167.7L667.5,167.7L668.0,167.7L668.5,167.7L669.0,167.7L669.5,167.7L670.0,167.7L670.5,167.7L671.0,167.7L671.5,167.6L672.0,167.6L672.5,167.6L673.0,167.6L673.5,167.6L674.0,167.6L674.5,167.6L675.0,167.6L675.5,167.6L676.0,167.6" fill="none" stroke="#dd7ddd" stroke-width="1.0" stroke-linejoin="round"/>
<path d="M476.0,168.6L476.5,168.6L477.0,168.6L477.5,168.6L478.0,168.6L478.5,168.6L479.0,168.6L479.5,168.6L480.0,168.6L480.5,168.6L481.0,168.6L481.5,168.6L482.0,168.6L482.5,168.6L483.0,168.6L483.5,168.6L484.0,168.6L484.5,168.6L485.0,168.6L485.5,168.6L486.0,168.6L486.5,168.6L487.0,168.6L487.5,168.6L488.0,168.6L488.5,168.6L489.0,168.6L489.5,168.6L490.0,168.6L490.5,168.6L491.0,168.6L491.5,168.6L492.0,168.6L492.5,168.6L493.0,168.6L493.5,168.6L494.0,168.6L494.5,168.6L495.0,168.6L495.5,168.6L496.0,168.6L496.5,168.6L497.0,168.6L497.5,168.5L498.0,168.5L498.5,168.5L499.0,168.5L499.5,168.5L500.0,168.5L500.5,168.5L501.0,168.5L501.5,168.5L502.0,168.5L502.5,168.5L503.0,168.5L503.5,168.5L504.0,168.5L504.5,168.5L505.0,168.5L505.5,168.5L506.0,168.5L506.5,168.5L507.0,168.5L507.5,168.5L508.0,168.5L508.5,168.5L509.0,168.5L509.5,168.4L510.0,168.4L510.5,168.4L511.0,168.4L511.5,168.4L512.0,168.4L512.5,168.4L513.0,168.4L513.5,168.4L514.0,168.4L514.5,168.4L515.0,168.4L515.5,168.4L516.0,168.4L516.5,168.4L517.0,168.3L517.5,168.3L518.0,168.3L518.5,168.3L519.0,168.3L519.5,168.3L520.0,168.3L520.5,168.3L521.0,168.3L521.5,168.3L522.0,168.3L522.5,168.3L523.0,168.2L523.5,168.2L524.0,168.2L524.5,168.2L525.0,168.2L525.5,168.2L526.0,168.1L526.5,168.0L527.0,167.9L527.5,167.8L528.0,167.6L528.5,167.5L529.0,167.3L529.5,167.2L530.0,167.0L530.5,166.8L531.0,166.7L531.5,166.5L532.0,166.4L532.5,166.2L533.0,166.0L533.5,165.8L534.0,165.6L534.5,165.4L535.0,165.2L535.5,165.0L536.0,164.7L536.5,164.5L537.0,164.2L537.5,163.9L538.0,163.7L538.5,163.4L539.0,163.1L539.5,162.7L540.0,162.4L540.5,162.0L541.0,161.6L541.5,161.1L542.0,160.5L542.5,159.9L543.0,159.3L543.5,158.6L544.0,158.0L544.5,157.3L545.0,156.7L545.5,156.1L546.0,155.4L546.5,154.8L547.0,154.1L547.5,153.4L548.0,152.7L548.5,152.0L549.0,151.3L549.5,150.7L550.0,150.0L550.5,149.3L551.0,148.7L551.5,148.0L552.0,147.3L552.5,146.6L553.0,145.9L553.5,145.3L554.0,144.7L554.5,144.2L555.0,143.8L555.5,143.4L556.0,143.0L556.5,142.7L557.0,142.4L557.5,142.1L558.0,141.8L558.5,141.5L559.0,141.3L559.5,141.1L560.0,140.9L560.5,140.7L561.0,140.6L561.5,140.4L562.0,140.3L562.5,140.2L563.0,140.2L563.5,140.2L564.0,140.3L564.5,140.5L565.0,140.7L565.5,140.9L566.0,141.2L566.5,141.5L567.0,141.8L567.5,142.1L568.0,142.4L568.5,142.8L569.0,143.2L569.5,143.7L570.0,144.2L570.5,144.8L571.0,145.4L571.5,146.1L572.0,146.8L572.5,147.5L573.0,148.2L573.5,148.9L574.0,149.6L574.5,150.3L575.0,151.0L575.5,151.7L576.0,152.3L576.5,153.0L577.0,153.7L577.5,154.4L578.0,155.1L578.5,155.8L579.0,156.5L579.5,157.2L580.0,157.9L580.5,158.6L581.0,159.3L581.5,160.0L582.0,160.7L582.5,161.5L583.0,162.1L583.5,162.8L584.0,163.4L584.5,163.9L585.0,164.3L585.5,164.7L586.0,165.0L586.5,165.4L587.0,165.7L587.5,166.1L588.0,166.3L588.5,166.6L589.0,166.8L589.5,166.9L590.0,167.0L590.5,167.1L591.0,167.1L591.5,167.2L592.0,167.2L592.5,167.3L593.0,167.3L593.5,167.3L594.0,167.4L594.5,167.4L595.0,167.4L595.5,167.5L596.0,167.5L596.5,167.5L597.0,167.5L597.5,167.6L598.0,167.6L598.5,167.6L599.0,167.6L599.5,167.6L600.0,167.6L600.5,167.6L601.0,167.6L601.5,167.6L602.0,167.6L602.5,167.6L603.0,167.6L603.5,167.6L604.0,167.6L604.5,167.6L605.0,167.6L605.5,167.6L606.0,167.6L606.5,167.6L607.0,167.6L607.5,167.6L608.0,167.6L608.5,167.6L609.0,167.6L609.5,167.6L610.0,167.6L610.5,167.6L611.0,167.6L611.5,167.6L612.0,167.6L612.5,167.6L613.0,167.6L613.5,167.6L614.0,167.6L614.5,167.6L615.0,167.6L615.5,167.6L616.0,167.6L616.5,167.6L617.0,167.6L617.5,167.6L618.0,167.6L618.5,167.6L619.0,167.6L619.5,167.6L620.0,167.6L620.5,167.6L621.0,167.6L621.5,167.6L622.0,167.6L622.5,167.6L623.0,167.6L623.5,167.6L624.0,167.6L624.5,167.6L625.0,167.6L625.5,167.6L626.0,167.6L626.5,167.6L627.0,167.6L627.5,167.6L628.0,167.6L628.5,167.6L629.0,167.6L629.5,167.6L630.0,167.6L630.5,167.6L631.0,167.6L631.5,167.6L632.0,167.6L632.5,167.6L633.0,167.6L633.5,167.6L634.0,167.6L634.5,167.6L635.0,167.6L635.5,167.6L636.0,167.6L636.5,167.6L637.0,167.6L637.5,167.6L638.0,167.6L638.5,167.6L639.0,167.6L639.5,167.6L640.0,167.6L640.5,167.6L641.0,167.6L641.5,167.6L642.0,167.6L642.5,167.6L643.0,167.6L643.5,167.6L644.0,167.6L644.5,167.6L645.0,167.6L645.5,167.6L646.0,167.6L646.5,167.6L647.0,167.6L647.5,167.6L648.0,167.6L648.5,167.6L649.0,167.6L649.5,167.6L650.0,167.6L650.5,167.6L651.0,167.6L651.5,167.6L652.0,167.6L652.5,167.6L653.0,167.6L653.5,167.6L654.0,167.6L654.5,167.6L655.0,167.6L655.5,167.6L656.0,167.6L656.5,167.6L657.0,167.6L657.5,167.6L658.0,167.6L658.5,167.6L659.0,167.6L659.5,167.6L660.0,167.6L660.5,167.6L661.0,167.6L661.5,167.6L662.0,167.6L662.5,167.6L663.0,167.6L663.5,167.6L664.0,167.6L664.5,167.6L665.0,167.6L665.5,167.6L666.0,167.6L666.5,167.6L667.0,167.6L667.5,167.6L668.0,167.6L668.5,167.6L669.0,167.6L669.5,167.6L670.0,167.6L670.5,167.6L671.0,167.6L671.5,167.6L672.0,167.6L672.5,167.6L673.0,167.6L673.5,167.6L674.0,167.6L674.5,167.6L675.0,167.6L675.5,167.6L676.0,167.6" fill="none" stroke="#2ecc2e" stroke-width="1.05" stroke-linejoin="round"/>
<path d="M476.0,168.8L476.5,168.8L477.0,168.8L477.5,168.8L478.0,168.8L478.5,168.8L479.0,168.8L479.5,168.8L480.0,168.8L480.5,168.8L481.0,168.8L481.5,168.8L482.0,168.8L482.5,168.8L483.0,168.8L483.5,168.8L484.0,168.8L484.5,168.8L485.0,168.8L485.5,168.8L486.0,168.8L486.5,168.8L487.0,168.8L487.5,168.8L488.0,168.8L488.5,168.8L489.0,168.8L489.5,168.8L490.0,168.8L490.5,168.8L491.0,168.8L491.5,168.8L492.0,168.8L492.5,168.8L493.0,168.8L493.5,168.8L494.0,168.8L494.5,168.8L495.0,168.8L495.5,168.8L496.0,168.8L496.5,168.8L497.0,168.8L497.5,168.8L498.0,168.8L498.5,168.8L499.0,168.8L499.5,168.8L500.0,168.8L500.5,168.8L501.0,168.8L501.5,168.8L502.0,168.7L502.5,168.7L503.0,168.7L503.5,168.7L504.0,168.7L504.5,168.7L505.0,168.7L505.5,168.7L506.0,168.7L506.5,168.7L507.0,168.7L507.5,168.7L508.0,168.7L508.5,168.7L509.0,168.7L509.5,168.7L510.0,168.7L510.5,168.7L511.0,168.7L511.5,168.7L512.0,168.7L512.5,168.7L513.0,168.7L513.5,168.7L514.0,168.7L514.5,168.7L515.0,168.7L515.5,168.7L516.0,168.7L516.5,168.7L517.0,168.6L517.5,168.6L518.0,168.6L518.5,168.6L519.0,168.6L519.5,168.6L520.0,168.6L520.5,168.6L521.0,168.6L521.5,168.6L522.0,168.6L522.5,168.6L523.0,168.6L523.5,168.6L524.0,168.6L524.5,168.6L525.0,168.6L525.5,168.6L526.0,168.5L526.5,168.5L527.0,168.5L527.5,168.5L528.0,168.5L528.5,168.5L529.0,168.5L529.5,168.5L530.0,168.5L530.5,168.5L531.0,168.5L531.5,168.5L532.0,168.5L532.5,168.5L533.0,168.5L533.5,168.4L534.0,168.4L534.5,168.4L535.0,168.4L535.5,168.4L536.0,168.4L536.5,168.4L537.0,168.4L537.5,168.4L538.0,168.4L538.5,168.4L539.0,168.4L539.5,168.3L540.0,168.3L540.5,168.3L541.0,168.3L541.5,168.3L542.0,168.3L542.5,168.3L543.0,168.3L543.5,168.3L544.0,168.3L544.5,168.2L545.0,168.2L545.5,168.2L546.0,168.2L546.5,168.2L547.0,168.2L547.5,168.2L548.0,168.2L548.5,168.2L549.0,168.1L549.5,168.1L550.0,168.1L550.5,168.1L551.0,168.1L551.5,168.1L552.0,168.1L552.5,168.1L553.0,168.1L553.5,168.0L554.0,168.0L554.5,168.0L555.0,168.0L555.5,168.0L556.0,167.9L556.5,167.8L557.0,167.7L557.5,167.6L558.0,167.5L558.5,167.4L559.0,167.3L559.5,167.1L560.0,167.0L560.5,166.9L561.0,166.8L561.5,166.6L562.0,166.5L562.5,166.4L563.0,166.2L563.5,166.1L564.0,166.0L564.5,165.8L565.0,165.7L565.5,165.5L566.0,165.3L566.5,165.1L567.0,165.0L567.5,164.8L568.0,164.6L568.5,164.3L569.0,164.1L569.5,163.9L570.0,163.6L570.5,163.3L571.0,162.9L571.5,162.4L572.0,161.9L572.5,161.4L573.0,160.9L573.5,160.4L574.0,160.0L574.5,159.7L575.0,159.3L575.5,159.0L576.0,158.7L576.5,158.5L577.0,158.2L577.5,157.9L578.0,157.7L578.5,157.4L579.0,157.2L579.5,156.9L580.0,156.7L580.5,156.5L581.0,156.2L581.5,155.9L582.0,155.7L582.5,155.4L583.0,155.2L583.5,155.0L584.0,154.8L584.5,154.6L585.0,154.5L585.5,154.4L586.0,154.3L586.5,154.2L587.0,154.1L587.5,154.0L588.0,153.9L588.5,153.9L589.0,153.8L589.5,153.8L590.0,153.8L590.5,153.8L591.0,153.9L591.5,154.1L592.0,154.3L592.5,154.5L593.0,154.8L593.5,155.1L594.0,155.4L594.5,155.7L595.0,156.0L595.5,156.3L596.0,156.7L596.5,157.1L597.0,157.5L597.5,157.9L598.0,158.4L598.5,158.9L599.0,159.3L599.5,159.8L600.0,160.2L600.5,160.6L601.0,161.1L601.5,161.5L602.0,162.0L602.5,162.4L603.0,162.9L603.5,163.3L604.0,163.7L604.5,164.0L605.0,164.3L605.5,164.6L606.0,164.8L606.5,165.1L607.0,165.3L607.5,165.6L608.0,165.8L608.5,166.0L609.0,166.2L609.5,166.4L610.0,166.6L610.5,166.7L611.0,166.8L611.5,166.9L612.0,167.0L612.5,167.1L613.0,167.1L613.5,167.2L614.0,167.2L614.5,167.3L615.0,167.3L615.5,167.4L616.0,167.4L616.5,167.5L617.0,167.5L617.5,167.5L618.0,167.5L618.5,167.6L619.0,167.6L619.5,167.6L620.0,167.6L620.5,167.6L621.0,167.6L621.5,167.6L622.0,167.6L622.5,167.6L623.0,167.6L623.5,167.6L624.0,167.6L624.5,167.6L625.0,167.6L625.5,167.6L626.0,167.6L626.5,167.6L627.0,167.6L627.5,167.6L628.0,167.6L628.5,167.6L629.0,167.6L629.5,167.6L630.0,167.6L630.5,167.6L631.0,167.6L631.5,167.6L632.0,167.6L632.5,167.6L633.0,167.6L633.5,167.7L634.0,167.7L634.5,167.7L635.0,167.7L635.5,167.7L636.0,167.7L636.5,167.7L637.0,167.7L637.5,167.7L638.0,167.7L638.5,167.7L639.0,167.7L639.5,167.7L640.0,167.7L640.5,167.7L641.0,167.7L641.5,167.7L642.0,167.7L642.5,167.7L643.0,167.7L643.5,167.7L644.0,167.7L644.5,167.7L645.0,167.7L645.5,167.7L646.0,167.7L646.5,167.7L647.0,167.7L647.5,167.7L648.0,167.7L648.5,167.7L649.0,167.7L649.5,167.7L650.0,167.7L650.5,167.7L651.0,167.7L651.5,167.7L652.0,167.7L652.5,167.7L653.0,167.7L653.5,167.7L654.0,167.7L654.5,167.7L655.0,167.7L655.5,167.7L656.0,167.7L656.5,167.7L657.0,167.7L657.5,167.7L658.0,167.7L658.5,167.7L659.0,167.7L659.5,167.7L660.0,167.7L660.5,167.7L661.0,167.7L661.5,167.7L662.0,167.7L662.5,167.7L663.0,167.7L663.5,167.7L664.0,167.7L664.5,167.7L665.0,167.7L665.5,167.7L666.0,167.7L666.5,167.7L667.0,167.7L667.5,167.7L668.0,167.7L668.5,167.7L669.0,167.7L669.5,167.7L670.0,167.7L670.5,167.7L671.0,167.7L671.5,167.7L672.0,167.7L672.5,167.7L673.0,167.7L673.5,167.7L674.0,167.7L674.5,167.7L675.0,167.7L675.5,167.7L676.0,167.7" fill="none" stroke="#2323d6" stroke-width="1.05" stroke-linejoin="round"/>
<path d="M476.0,168.7L476.5,168.7L477.0,168.7L477.5,168.7L478.0,168.7L478.5,168.7L479.0,168.7L479.5,168.6L480.0,168.6L480.5,168.6L481.0,168.6L481.5,168.6L482.0,168.5L482.5,168.5L483.0,168.5L483.5,168.5L484.0,168.4L484.5,168.4L485.0,168.4L485.5,168.3L486.0,168.3L486.5,168.3L487.0,168.2L487.5,168.2L488.0,168.2L488.5,168.1L489.0,168.1L489.5,168.0L490.0,168.0L490.5,168.0L491.0,167.9L491.5,167.8L492.0,167.8L492.5,167.7L493.0,167.6L493.5,167.5L494.0,167.4L494.5,167.3L495.0,167.2L495.5,167.1L496.0,167.0L496.5,166.9L497.0,166.7L497.5,166.6L498.0,166.5L498.5,166.3L499.0,166.1L499.5,166.0L500.0,165.8L500.5,165.6L501.0,165.4L501.5,165.1L502.0,164.8L502.5,164.4L503.0,164.1L503.5,163.7L504.0,163.3L504.5,162.8L505.0,162.4L505.5,161.9L506.0,161.4L506.5,160.8L507.0,160.2L507.5,159.5L508.0,158.8L508.5,158.0L509.0,157.3L509.5,156.4L510.0,155.6L510.5,154.7L511.0,153.7L511.5,152.7L512.0,151.6L512.5,150.4L513.0,149.2L513.5,148.0L514.0,146.8L514.5,145.5L515.0,144.2L515.5,142.9L516.0,141.5L516.5,140.1L517.0,138.6L517.5,137.1L518.0,135.6L518.5,134.1L519.0,132.6L519.5,131.0L520.0,129.5L520.5,128.0L521.0,126.4L521.5,124.7L522.0,123.1L522.5,121.5L523.0,119.9L523.5,118.4L524.0,117.0L524.5,115.6L525.0,114.2L525.5,112.8L526.0,111.5L526.5,110.4L527.0,109.5L527.5,108.7L528.0,108.0L528.5,107.3L529.0,106.7L529.5,106.3L530.0,106.0L530.5,105.8L531.0,105.6L531.5,105.5L532.0,105.4L532.5,105.4L533.0,105.4L533.5,105.6L534.0,105.8L534.5,106.0L535.0,106.3L535.5,106.6L536.0,107.0L536.5,107.5L537.0,108.1L537.5,109.0L538.0,109.9L538.5,110.9L539.0,112.0L539.5,113.3L540.0,114.9L540.5,116.6L541.0,118.4L541.5,120.1L542.0,121.5L542.5,122.7L543.0,123.9L543.5,124.9L544.0,126.0L544.5,126.9L545.0,127.8L545.5,128.7L546.0,129.5L546.5,130.3L547.0,130.9L547.5,131.6L548.0,132.2L548.5,132.8L549.0,133.4L549.5,134.0L550.0,134.6L550.5,135.2L551.0,135.7L551.5,136.2L552.0,136.7L552.5,137.2L553.0,137.6L553.5,138.1L554.0,138.5L554.5,139.0L555.0,139.3L555.5,139.6L556.0,139.7L556.5,139.8L557.0,139.8L557.5,139.9L558.0,139.9L558.5,139.9L559.0,140.0L559.5,140.0L560.0,140.0L560.5,140.1L561.0,140.1L561.5,140.1L562.0,140.2L562.5,140.3L563.0,140.4L563.5,140.5L564.0,140.6L564.5,140.8L565.0,140.9L565.5,141.1L566.0,141.3L566.5,141.4L567.0,141.6L567.5,141.8L568.0,142.0L568.5,142.2L569.0,142.4L569.5,142.6L570.0,142.8L570.5,143.0L571.0,143.3L571.5,143.5L572.0,143.8L572.5,144.0L573.0,144.3L573.5,144.6L574.0,144.8L574.5,145.1L575.0,145.4L575.5,145.7L576.0,146.0L576.5,146.4L577.0,146.7L577.5,147.1L578.0,147.4L578.5,147.8L579.0,148.2L579.5,148.5L580.0,148.8L580.5,149.1L581.0,149.4L581.5,149.7L582.0,149.9L582.5,150.2L583.0,150.5L583.5,150.7L584.0,151.0L584.5,151.3L585.0,151.5L585.5,151.7L586.0,152.0L586.5,152.2L587.0,152.4L587.5,152.6L588.0,152.9L588.5,153.1L589.0,153.3L589.5,153.6L590.0,153.8L590.5,154.1L591.0,154.3L591.5,154.6L592.0,154.8L592.5,155.1L593.0,155.4L593.5,155.7L594.0,156.0L594.5,156.3L595.0,156.7L595.5,157.1L596.0,157.5L596.5,158.0L597.0,158.5L597.5,159.0L598.0,159.6L598.5,160.1L599.0,160.6L599.5,161.1L600.0,161.5L600.5,161.9L601.0,162.3L601.5,162.7L602.0,163.1L602.5,163.5L603.0,163.8L603.5,164.1L604.0,164.5L604.5,164.7L605.0,165.0L605.5,165.2L606.0,165.5L606.5,165.7L607.0,166.0L607.5,166.2L608.0,166.4L608.5,166.6L609.0,166.8L609.5,167.0L610.0,167.1L610.5,167.3L611.0,167.4L611.5,167.4L612.0,167.5L612.5,167.5L613.0,167.6L613.5,167.6L614.0,167.6L614.5,167.7L615.0,167.7L615.5,167.7L616.0,167.8L616.5,167.8L617.0,167.8L617.5,167.8L618.0,167.9L618.5,167.9L619.0,167.9L619.5,167.9L620.0,167.9L620.5,167.9L621.0,168.0L621.5,168.0L622.0,168.0L622.5,168.0L623.0,168.0L623.5,168.0L624.0,168.0L624.5,168.0L625.0,168.0L625.5,168.0L626.0,168.0L626.5,168.0L627.0,168.0L627.5,168.0L628.0,168.0L628.5,168.0L629.0,168.0L629.5,168.0L630.0,168.0L630.5,168.0L631.0,168.0L631.5,168.0L632.0,168.0L632.5,168.0L633.0,168.0L633.5,168.0L634.0,168.0L634.5,168.0L635.0,168.0L635.5,168.0L636.0,168.0L636.5,168.0L637.0,168.0L637.5,168.0L638.0,168.0L638.5,168.0L639.0,168.0L639.5,168.0L640.0,168.0L640.5,168.0L641.0,168.0L641.5,168.0L642.0,168.0L642.5,168.0L643.0,168.0L643.5,168.0L644.0,168.0L644.5,168.0L645.0,168.0L645.5,168.0L646.0,168.0L646.5,168.0L647.0,168.0L647.5,168.0L648.0,168.0L648.5,168.0L649.0,168.0L649.5,168.0L650.0,168.0L650.5,168.0L651.0,168.0L651.5,168.0L652.0,168.0L652.5,168.0L653.0,168.0L653.5,168.0L654.0,168.0L654.5,168.0L655.0,168.0L655.5,168.0L656.0,168.0L656.5,168.0L657.0,168.0L657.5,168.0L658.0,168.0L658.5,168.0L659.0,168.0L659.5,168.0L660.0,168.0L660.5,168.0L661.0,168.0L661.5,168.0L662.0,168.0L662.5,168.0L663.0,168.0L663.5,168.0L664.0,168.0L664.5,168.0L665.0,168.0L665.5,168.0L666.0,168.0L666.5,168.0L667.0,168.0L667.5,168.0L668.0,168.0L668.5,168.0L669.0,168.0L669.5,168.0L670.0,168.0L670.5,168.0L671.0,168.0L671.5,168.0L672.0,168.0L672.5,168.0L673.0,168.0L673.5,168.0L674.0,168.0L674.5,168.0L675.0,168.0L675.5,168.0L676.0,168.0" fill="none" stroke="#de4a74" stroke-width="1.9" stroke-linejoin="round"/>
<path d="M476.0,168.7L476.5,168.5L477.0,168.5L477.5,168.4L478.0,169.1L478.5,168.6L479.0,169.2L479.5,168.6L480.0,167.9L480.5,168.9L481.0,168.5L481.5,168.5L482.0,169.0L482.5,168.4L483.0,168.8L483.5,168.5L484.0,168.2L484.5,168.6L485.0,168.2L485.5,168.7L486.0,168.6L486.5,168.3L487.0,168.4L487.5,168.4L488.0,168.1L488.5,168.4L489.0,168.0L489.5,168.2L490.0,167.7L490.5,168.0L491.0,168.0L491.5,167.6L492.0,167.7L492.5,167.5L493.0,167.8L493.5,167.3L494.0,167.6L494.5,167.8L495.0,167.3L495.5,166.6L496.0,167.0L496.5,167.2L497.0,166.7L497.5,166.9L498.0,166.6L498.5,166.4L499.0,166.1L499.5,165.8L500.0,165.7L500.5,165.6L501.0,165.5L501.5,165.2L502.0,164.7L502.5,164.5L503.0,164.2L503.5,163.2L504.0,163.1L504.5,162.6L505.0,162.3L505.5,161.8L506.0,161.3L506.5,160.5L507.0,160.4L507.5,159.6L508.0,158.3L508.5,158.0L509.0,156.9L509.5,157.0L510.0,155.5L510.5,154.6L511.0,153.8L511.5,152.6L512.0,151.6L512.5,150.9L513.0,149.3L513.5,148.3L514.0,147.1L514.5,145.2L515.0,144.7L515.5,143.1L516.0,141.8L516.5,139.8L517.0,138.9L517.5,137.3L518.0,135.5L518.5,134.8L519.0,132.7L519.5,131.0L520.0,129.6L520.5,128.2L521.0,126.7L521.5,124.9L522.0,123.5L522.5,122.0L523.0,119.6L523.5,118.3L524.0,116.7L524.5,115.6L525.0,114.6L525.5,113.0L526.0,111.2L526.5,110.3L527.0,109.8L527.5,108.6L528.0,107.9L528.5,107.4L529.0,106.2L529.5,106.5L530.0,106.1L530.5,106.0L531.0,105.4L531.5,105.3L532.0,105.3L532.5,105.5L533.0,105.5L533.5,105.6L534.0,106.3L534.5,106.4L535.0,106.1L535.5,106.5L536.0,107.5L536.5,107.4L537.0,108.6L537.5,109.4L538.0,109.7L538.5,110.8L539.0,112.0L539.5,113.0L540.0,114.6L540.5,116.5L541.0,118.7L541.5,120.0L542.0,121.4L542.5,122.6L543.0,123.4L543.5,125.4L544.0,125.3L544.5,126.7L545.0,128.0L545.5,128.3L546.0,129.7L546.5,130.6L547.0,130.7L547.5,131.7L548.0,131.9L548.5,133.0L549.0,133.5L549.5,134.1L550.0,135.0L550.5,135.3L551.0,136.1L551.5,136.4L552.0,136.4L552.5,137.3L553.0,137.8L553.5,137.7L554.0,139.0L554.5,139.0L555.0,139.4L555.5,139.3L556.0,139.7L556.5,139.9L557.0,139.7L557.5,139.9L558.0,139.3L558.5,140.4L559.0,139.6L559.5,139.3L560.0,139.7L560.5,139.8L561.0,140.3L561.5,139.9L562.0,140.3L562.5,140.0L563.0,141.0L563.5,140.7L564.0,141.2L564.5,140.5L565.0,141.1L565.5,140.8L566.0,141.4L566.5,141.7L567.0,141.2L567.5,141.5L568.0,141.7L568.5,141.7L569.0,142.2L569.5,142.3L570.0,142.4L570.5,143.1L571.0,143.4L571.5,143.1L572.0,143.6L572.5,144.0L573.0,144.2L573.5,144.4L574.0,145.1L574.5,145.4L575.0,145.6L575.5,145.6L576.0,146.6L576.5,146.9L577.0,146.6L577.5,147.0L578.0,147.8L578.5,147.6L579.0,148.3L579.5,148.5L580.0,148.6L580.5,149.0L581.0,148.9L581.5,149.5L582.0,149.3L582.5,150.9L583.0,150.9L583.5,151.1L584.0,151.1L584.5,151.6L585.0,151.9L585.5,152.0L586.0,152.3L586.5,151.9L587.0,152.6L587.5,152.5L588.0,152.5L588.5,152.7L589.0,153.4L589.5,153.9L590.0,153.4L590.5,154.6L591.0,154.8L591.5,154.5L592.0,154.7L592.5,155.1L593.0,155.7L593.5,155.6L594.0,155.7L594.5,156.5L595.0,156.1L595.5,157.1L596.0,157.9L596.5,158.1L597.0,158.8L597.5,159.2L598.0,159.8L598.5,160.1L599.0,160.3L599.5,161.0L600.0,161.5L600.5,162.3L601.0,162.8L601.5,162.8L602.0,162.9L602.5,163.2L603.0,163.8L603.5,164.6L604.0,164.6L604.5,164.7L605.0,164.8L605.5,165.5L606.0,165.6L606.5,165.7L607.0,166.0L607.5,166.7L608.0,166.4L608.5,167.1L609.0,167.2L609.5,167.0L610.0,167.4L610.5,167.2L611.0,167.1L611.5,167.4L612.0,167.2L612.5,167.7L613.0,167.6L613.5,167.8L614.0,167.9L614.5,166.7L615.0,167.8L615.5,167.2L616.0,167.8L616.5,167.5L617.0,167.8L617.5,168.2L618.0,167.3L618.5,167.9L619.0,167.9L619.5,167.3L620.0,168.1L620.5,167.9L621.0,167.8L621.5,167.7L622.0,168.9L622.5,167.9L623.0,167.4L623.5,167.7L624.0,167.9L624.5,167.9L625.0,168.0L625.5,167.7L626.0,168.2L626.5,167.9L627.0,167.6L627.5,167.8L628.0,167.9L628.5,168.3L629.0,168.1L629.5,167.9L630.0,168.0L630.5,168.1L631.0,168.6L631.5,167.8L632.0,168.1L632.5,168.2L633.0,167.7L633.5,168.1L634.0,168.0L634.5,167.9L635.0,168.2L635.5,168.3L636.0,168.3L636.5,167.9L637.0,168.1L637.5,168.7L638.0,167.7L638.5,168.1L639.0,168.3L639.5,168.0L640.0,168.2L640.5,168.1L641.0,168.2L641.5,168.4L642.0,167.9L642.5,168.1L643.0,168.0L643.5,167.9L644.0,168.0L644.5,167.7L645.0,168.2L645.5,168.5L646.0,168.5L646.5,168.4L647.0,167.7L647.5,168.5L648.0,167.8L648.5,168.0L649.0,168.6L649.5,167.7L650.0,168.3L650.5,168.1L651.0,168.0L651.5,167.7L652.0,168.1L652.5,167.9L653.0,168.3L653.5,168.4L654.0,167.6L654.5,167.8L655.0,167.9L655.5,167.6L656.0,167.7L656.5,168.0L657.0,167.9L657.5,167.5L658.0,167.8L658.5,168.2L659.0,167.6L659.5,167.7L660.0,168.5L660.5,168.4L661.0,167.5L661.5,167.6L662.0,168.1L662.5,167.6L663.0,167.9L663.5,167.9L664.0,168.2L664.5,167.2L665.0,167.3L665.5,167.6L666.0,168.3L666.5,168.0L667.0,167.5L667.5,168.1L668.0,168.2L668.5,167.9L669.0,167.9L669.5,168.1L670.0,168.4L670.5,168.0L671.0,168.2L671.5,168.0L672.0,167.9L672.5,167.7L673.0,168.1L673.5,167.9L674.0,167.9L674.5,168.3L675.0,168.1L675.5,168.3L676.0,167.5" fill="none" stroke="#3a0e1a" stroke-width="1.1" stroke-linejoin="round" stroke-dasharray="2.2,0.7"/>
<path d="M476.0,246.7L476.5,246.7L477.0,246.7L477.5,246.7L478.0,246.7L478.5,246.7L479.0,246.7L479.5,246.6L480.0,246.6L480.5,246.6L481.0,246.6L481.5,246.6L482.0,246.5L482.5,246.5L483.0,246.5L483.5,246.5L484.0,246.4L484.5,246.4L485.0,246.3L485.5,246.3L486.0,246.3L486.5,246.2L487.0,246.2L487.5,246.1L488.0,246.1L488.5,246.0L489.0,246.0L489.5,245.9L490.0,245.9L490.5,245.8L491.0,245.7L491.5,245.7L492.0,245.6L492.5,245.5L493.0,245.4L493.5,245.2L494.0,245.0L494.5,244.8L495.0,244.5L495.5,244.2L496.0,244.0L496.5,243.7L497.0,243.4L497.5,243.1L498.0,242.8L498.5,242.5L499.0,242.2L499.5,241.9L500.0,241.5L500.5,241.1L501.0,240.7L501.5,240.3L502.0,239.9L502.5,239.5L503.0,239.0L503.5,238.5L504.0,238.0L504.5,237.4L505.0,236.9L505.5,236.3L506.0,235.6L506.5,235.0L507.0,234.3L507.5,233.6L508.0,232.8L508.5,232.0L509.0,231.1L509.5,230.2L510.0,229.3L510.5,228.3L511.0,227.3L511.5,226.3L512.0,225.2L512.5,224.1L513.0,222.8L513.5,221.5L514.0,220.2L514.5,218.7L515.0,217.3L515.5,215.9L516.0,214.4L516.5,213.0L517.0,211.6L517.5,210.2L518.0,208.9L518.5,207.5L519.0,206.1L519.5,204.7L520.0,203.3L520.5,201.9L521.0,200.6L521.5,199.2L522.0,197.9L522.5,196.6L523.0,195.2L523.5,193.8L524.0,192.4L524.5,191.1L525.0,189.8L525.5,188.7L526.0,187.7L526.5,186.7L527.0,185.8L527.5,184.9L528.0,184.1L528.5,183.5L529.0,183.2L529.5,183.0L530.0,182.9L530.5,182.7L531.0,182.6L531.5,182.5L532.0,182.5L532.5,182.4L533.0,182.6L533.5,183.0L534.0,183.5L534.5,184.1L535.0,184.7L535.5,185.4L536.0,186.1L536.5,186.8L537.0,187.6L537.5,188.6L538.0,189.7L538.5,190.9L539.0,192.2L539.5,193.5L540.0,194.8L540.5,196.1L541.0,197.4L541.5,198.7L542.0,199.9L542.5,201.1L543.0,202.3L543.5,203.5L544.0,204.7L544.5,206.0L545.0,207.2L545.5,208.5L546.0,209.8L546.5,211.2L547.0,212.7L547.5,214.2L548.0,215.9L548.5,217.6L549.0,219.3L549.5,221.0L550.0,222.6L550.5,224.2L551.0,225.7L551.5,227.0L552.0,228.2L552.5,229.4L553.0,230.6L553.5,231.7L554.0,232.8L554.5,233.8L555.0,234.8L555.5,235.7L556.0,236.5L556.5,237.3L557.0,238.0L557.5,238.7L558.0,239.4L558.5,240.1L559.0,240.7L559.5,241.3L560.0,241.8L560.5,242.3L561.0,242.7L561.5,243.0L562.0,243.3L562.5,243.6L563.0,243.8L563.5,244.1L564.0,244.3L564.5,244.5L565.0,244.7L565.5,244.8L566.0,244.9L566.5,245.0L567.0,245.0L567.5,245.1L568.0,245.1L568.5,245.2L569.0,245.2L569.5,245.3L570.0,245.3L570.5,245.3L571.0,245.3L571.5,245.4L572.0,245.4L572.5,245.4L573.0,245.4L573.5,245.5L574.0,245.5L574.5,245.5L575.0,245.5L575.5,245.5L576.0,245.5L576.5,245.5L577.0,245.5L577.5,245.5L578.0,245.5L578.5,245.5L579.0,245.5L579.5,245.5L580.0,245.5L580.5,245.5L581.0,245.5L581.5,245.5L582.0,245.5L582.5,245.5L583.0,245.5L583.5,245.5L584.0,245.5L584.5,245.5L585.0,245.5L585.5,245.5L586.0,245.5L586.5,245.5L587.0,245.5L587.5,245.5L588.0,245.5L588.5,245.5L589.0,245.5L589.5,245.5L590.0,245.5L590.5,245.5L591.0,245.5L591.5,245.5L592.0,245.5L592.5,245.5L593.0,245.5L593.5,245.5L594.0,245.5L594.5,245.5L595.0,245.5L595.5,245.5L596.0,245.5L596.5,245.5L597.0,245.5L597.5,245.5L598.0,245.5L598.5,245.5L599.0,245.5L599.5,245.5L600.0,245.5L600.5,245.5L601.0,245.5L601.5,245.5L602.0,245.5L602.5,245.5L603.0,245.5L603.5,245.5L604.0,245.5L604.5,245.5L605.0,245.5L605.5,245.5L606.0,245.5L606.5,245.5L607.0,245.5L607.5,245.5L608.0,245.5L608.5,245.5L609.0,245.5L609.5,245.5L610.0,245.5L610.5,245.5L611.0,245.5L611.5,245.5L612.0,245.5L612.5,245.5L613.0,245.5L613.5,245.5L614.0,245.5L614.5,245.5L615.0,245.5L615.5,245.5L616.0,245.5L616.5,245.5L617.0,245.5L617.5,245.5L618.0,245.5L618.5,245.5L619.0,245.5L619.5,245.5L620.0,245.5L620.5,245.5L621.0,245.5L621.5,245.5L622.0,245.5L622.5,245.5L623.0,245.5L623.5,245.5L624.0,245.5L624.5,245.5L625.0,245.5L625.5,245.5L626.0,245.5L626.5,245.5L627.0,245.5L627.5,245.5L628.0,245.5L628.5,245.5L629.0,245.5L629.5,245.5L630.0,245.5L630.5,245.5L631.0,245.5L631.5,245.4L632.0,245.4L632.5,245.4L633.0,245.4L633.5,245.4L634.0,245.4L634.5,245.4L635.0,245.4L635.5,245.4L636.0,245.4L636.5,245.4L637.0,245.4L637.5,245.4L638.0,245.4L638.5,245.4L639.0,245.4L639.5,245.4L640.0,245.4L640.5,245.4L641.0,245.4L641.5,245.4L642.0,245.4L642.5,245.4L643.0,245.4L643.5,245.4L644.0,245.4L644.5,245.4L645.0,245.4L645.5,245.4L646.0,245.4L646.5,245.4L647.0,245.4L647.5,245.4L648.0,245.4L648.5,245.4L649.0,245.4L649.5,245.4L650.0,245.4L650.5,245.4L651.0,245.4L651.5,245.4L652.0,245.4L652.5,245.4L653.0,245.4L653.5,245.4L654.0,245.4L654.5,245.4L655.0,245.4L655.5,245.3L656.0,245.3L656.5,245.3L657.0,245.3L657.5,245.3L658.0,245.3L658.5,245.3L659.0,245.3L659.5,245.3L660.0,245.3L660.5,245.3L661.0,245.3L661.5,245.3L662.0,245.3L662.5,245.3L663.0,245.3L663.5,245.3L664.0,245.3L664.5,245.3L665.0,245.3L665.5,245.3L666.0,245.3L666.5,245.3L667.0,245.3L667.5,245.3L668.0,245.3L668.5,245.3L669.0,245.3L669.5,245.3L670.0,245.3L670.5,245.2L671.0,245.2L671.5,245.2L672.0,245.2L672.5,245.2L673.0,245.2L673.5,245.2L674.0,245.2L674.5,245.2L675.0,245.2L675.5,245.2L676.0,245.2" fill="none" stroke="#dd7ddd" stroke-width="1.0" stroke-linejoin="round"/>
<path d="M476.0,246.6L476.5,246.6L477.0,246.6L477.5,246.6L478.0,246.6L478.5,246.6L479.0,246.6L479.5,246.6L480.0,246.6L480.5,246.6L481.0,246.6L481.5,246.6L482.0,246.6L482.5,246.6L483.0,246.6L483.5,246.6L484.0,246.6L484.5,246.6L485.0,246.6L485.5,246.6L486.0,246.6L486.5,246.6L487.0,246.6L487.5,246.6L488.0,246.6L488.5,246.6L489.0,246.6L489.5,246.6L490.0,246.6L490.5,246.6L491.0,246.6L491.5,246.6L492.0,246.6L492.5,246.6L493.0,246.6L493.5,246.6L494.0,246.6L494.5,246.6L495.0,246.5L495.5,246.5L496.0,246.5L496.5,246.5L497.0,246.5L497.5,246.5L498.0,246.5L498.5,246.5L499.0,246.5L499.5,246.5L500.0,246.5L500.5,246.5L501.0,246.5L501.5,246.5L502.0,246.5L502.5,246.5L503.0,246.5L503.5,246.5L504.0,246.5L504.5,246.5L505.0,246.5L505.5,246.5L506.0,246.5L506.5,246.4L507.0,246.4L507.5,246.4L508.0,246.4L508.5,246.4L509.0,246.4L509.5,246.4L510.0,246.4L510.5,246.4L511.0,246.4L511.5,246.4L512.0,246.4L512.5,246.4L513.0,246.4L513.5,246.4L514.0,246.3L514.5,246.3L515.0,246.3L515.5,246.3L516.0,246.3L516.5,246.3L517.0,246.3L517.5,246.3L518.0,246.3L518.5,246.3L519.0,246.3L519.5,246.2L520.0,246.2L520.5,246.2L521.0,246.2L521.5,246.2L522.0,246.2L522.5,246.2L523.0,246.2L523.5,246.2L524.0,246.2L524.5,246.1L525.0,246.1L525.5,246.1L526.0,246.1L526.5,246.1L527.0,246.1L527.5,246.1L528.0,246.1L528.5,246.0L529.0,246.0L529.5,246.0L530.0,246.0L530.5,246.0L531.0,245.9L531.5,245.9L532.0,245.8L532.5,245.7L533.0,245.6L533.5,245.5L534.0,245.4L534.5,245.3L535.0,245.2L535.5,245.1L536.0,244.9L536.5,244.8L537.0,244.6L537.5,244.5L538.0,244.3L538.5,244.1L539.0,243.9L539.5,243.7L540.0,243.4L540.5,243.2L541.0,243.0L541.5,242.7L542.0,242.4L542.5,242.2L543.0,241.9L543.5,241.6L544.0,241.3L544.5,241.0L545.0,240.7L545.5,240.4L546.0,240.0L546.5,239.5L547.0,239.1L547.5,238.6L548.0,238.1L548.5,237.6L549.0,237.1L549.5,236.6L550.0,236.2L550.5,235.8L551.0,235.3L551.5,234.8L552.0,234.3L552.5,233.8L553.0,233.4L553.5,233.0L554.0,232.6L554.5,232.3L555.0,232.0L555.5,231.8L556.0,231.6L556.5,231.4L557.0,231.2L557.5,231.0L558.0,230.8L558.5,230.7L559.0,230.6L559.5,230.5L560.0,230.5L560.5,230.5L561.0,230.6L561.5,230.6L562.0,230.7L562.5,230.8L563.0,231.0L563.5,231.1L564.0,231.3L564.5,231.4L565.0,231.6L565.5,231.8L566.0,232.2L566.5,232.6L567.0,233.0L567.5,233.6L568.0,234.1L568.5,234.6L569.0,235.2L569.5,235.7L570.0,236.2L570.5,236.7L571.0,237.1L571.5,237.6L572.0,238.1L572.5,238.5L573.0,239.0L573.5,239.5L574.0,239.9L574.5,240.3L575.0,240.7L575.5,241.1L576.0,241.5L576.5,241.9L577.0,242.3L577.5,242.7L578.0,243.0L578.5,243.4L579.0,243.6L579.5,243.8L580.0,244.0L580.5,244.1L581.0,244.2L581.5,244.3L582.0,244.4L582.5,244.5L583.0,244.6L583.5,244.7L584.0,244.8L584.5,244.9L585.0,244.9L585.5,245.0L586.0,245.1L586.5,245.1L587.0,245.2L587.5,245.2L588.0,245.2L588.5,245.3L589.0,245.3L589.5,245.3L590.0,245.3L590.5,245.3L591.0,245.3L591.5,245.3L592.0,245.3L592.5,245.3L593.0,245.3L593.5,245.3L594.0,245.3L594.5,245.3L595.0,245.3L595.5,245.3L596.0,245.3L596.5,245.3L597.0,245.3L597.5,245.3L598.0,245.3L598.5,245.3L599.0,245.3L599.5,245.3L600.0,245.3L600.5,245.3L601.0,245.3L601.5,245.3L602.0,245.3L602.5,245.3L603.0,245.3L603.5,245.3L604.0,245.3L604.5,245.3L605.0,245.3L605.5,245.3L606.0,245.3L606.5,245.3L607.0,245.3L607.5,245.3L608.0,245.3L608.5,245.3L609.0,245.3L609.5,245.3L610.0,245.3L610.5,245.3L611.0,245.3L611.5,245.3L612.0,245.3L612.5,245.3L613.0,245.3L613.5,245.3L614.0,245.3L614.5,245.3L615.0,245.3L615.5,245.3L616.0,245.3L616.5,245.3L617.0,245.3L617.5,245.3L618.0,245.3L618.5,245.3L619.0,245.3L619.5,245.3L620.0,245.3L620.5,245.3L621.0,245.3L621.5,245.3L622.0,245.3L622.5,245.3L623.0,245.3L623.5,245.3L624.0,245.3L624.5,245.3L625.0,245.3L625.5,245.3L626.0,245.3L626.5,245.3L627.0,245.3L627.5,245.3L628.0,245.3L628.5,245.3L629.0,245.3L629.5,245.3L630.0,245.3L630.5,245.3L631.0,245.3L631.5,245.3L632.0,245.3L632.5,245.3L633.0,245.3L633.5,245.3L634.0,245.3L634.5,245.3L635.0,245.3L635.5,245.3L636.0,245.3L636.5,245.3L637.0,245.3L637.5,245.3L638.0,245.3L638.5,245.3L639.0,245.3L639.5,245.3L640.0,245.3L640.5,245.3L641.0,245.3L641.5,245.3L642.0,245.3L642.5,245.3L643.0,245.3L643.5,245.3L644.0,245.3L644.5,245.3L645.0,245.3L645.5,245.3L646.0,245.3L646.5,245.3L647.0,245.3L647.5,245.3L648.0,245.3L648.5,245.3L649.0,245.3L649.5,245.3L650.0,245.3L650.5,245.3L651.0,245.3L651.5,245.3L652.0,245.3L652.5,245.3L653.0,245.3L653.5,245.3L654.0,245.3L654.5,245.3L655.0,245.3L655.5,245.3L656.0,245.3L656.5,245.3L657.0,245.3L657.5,245.3L658.0,245.3L658.5,245.2L659.0,245.2L659.5,245.2L660.0,245.2L660.5,245.2L661.0,245.2L661.5,245.2L662.0,245.2L662.5,245.2L663.0,245.2L663.5,245.2L664.0,245.2L664.5,245.2L665.0,245.2L665.5,245.2L666.0,245.2L666.5,245.2L667.0,245.2L667.5,245.2L668.0,245.2L668.5,245.2L669.0,245.2L669.5,245.2L670.0,245.2L670.5,245.2L671.0,245.2L671.5,245.2L672.0,245.2L672.5,245.2L673.0,245.2L673.5,245.2L674.0,245.2L674.5,245.2L675.0,245.2L675.5,245.2L676.0,245.2" fill="none" stroke="#2ecc2e" stroke-width="1.05" stroke-linejoin="round"/>
<path d="M476.0,246.8L476.5,246.8L477.0,246.8L477.5,246.8L478.0,246.8L478.5,246.8L479.0,246.8L479.5,246.8L480.0,246.8L480.5,246.8L481.0,246.8L481.5,246.8L482.0,246.8L482.5,246.8L483.0,246.8L483.5,246.8L484.0,246.8L484.5,246.8L485.0,246.8L485.5,246.8L486.0,246.8L486.5,246.8L487.0,246.8L487.5,246.8L488.0,246.8L488.5,246.8L489.0,246.8L489.5,246.8L490.0,246.8L490.5,246.8L491.0,246.8L491.5,246.8L492.0,246.8L492.5,246.8L493.0,246.8L493.5,246.8L494.0,246.8L494.5,246.7L495.0,246.7L495.5,246.7L496.0,246.7L496.5,246.7L497.0,246.7L497.5,246.7L498.0,246.7L498.5,246.7L499.0,246.7L499.5,246.7L500.0,246.7L500.5,246.7L501.0,246.7L501.5,246.7L502.0,246.7L502.5,246.7L503.0,246.7L503.5,246.7L504.0,246.7L504.5,246.7L505.0,246.7L505.5,246.7L506.0,246.7L506.5,246.7L507.0,246.7L507.5,246.6L508.0,246.6L508.5,246.6L509.0,246.6L509.5,246.6L510.0,246.6L510.5,246.6L511.0,246.6L511.5,246.6L512.0,246.6L512.5,246.6L513.0,246.6L513.5,246.6L514.0,246.6L514.5,246.6L515.0,246.6L515.5,246.6L516.0,246.5L516.5,246.5L517.0,246.5L517.5,246.5L518.0,246.5L518.5,246.5L519.0,246.5L519.5,246.5L520.0,246.5L520.5,246.5L521.0,246.5L521.5,246.5L522.0,246.5L522.5,246.5L523.0,246.4L523.5,246.4L524.0,246.4L524.5,246.4L525.0,246.4L525.5,246.4L526.0,246.4L526.5,246.4L527.0,246.4L527.5,246.4L528.0,246.4L528.5,246.4L529.0,246.3L529.5,246.3L530.0,246.3L530.5,246.3L531.0,246.3L531.5,246.3L532.0,246.3L532.5,246.3L533.0,246.3L533.5,246.3L534.0,246.2L534.5,246.2L535.0,246.2L535.5,246.2L536.0,246.2L536.5,246.2L537.0,246.2L537.5,246.2L538.0,246.2L538.5,246.2L539.0,246.1L539.5,246.1L540.0,246.1L540.5,246.1L541.0,246.1L541.5,246.1L542.0,246.1L542.5,246.1L543.0,246.0L543.5,246.0L544.0,246.0L544.5,246.0L545.0,246.0L545.5,246.0L546.0,246.0L546.5,245.9L547.0,245.9L547.5,245.9L548.0,245.9L548.5,245.8L549.0,245.8L549.5,245.8L550.0,245.7L550.5,245.7L551.0,245.6L551.5,245.6L552.0,245.5L552.5,245.5L553.0,245.4L553.5,245.4L554.0,245.3L554.5,245.3L555.0,245.2L555.5,245.1L556.0,245.1L556.5,245.0L557.0,244.9L557.5,244.8L558.0,244.6L558.5,244.5L559.0,244.4L559.5,244.2L560.0,244.1L560.5,243.9L561.0,243.8L561.5,243.6L562.0,243.4L562.5,243.3L563.0,243.1L563.5,242.9L564.0,242.7L564.5,242.5L565.0,242.4L565.5,242.2L566.0,242.0L566.5,241.8L567.0,241.7L567.5,241.5L568.0,241.3L568.5,241.2L569.0,241.0L569.5,240.8L570.0,240.7L570.5,240.6L571.0,240.4L571.5,240.3L572.0,240.1L572.5,240.0L573.0,239.9L573.5,239.7L574.0,239.6L574.5,239.5L575.0,239.3L575.5,239.2L576.0,239.1L576.5,238.9L577.0,238.8L577.5,238.7L578.0,238.6L578.5,238.5L579.0,238.5L579.5,238.4L580.0,238.4L580.5,238.4L581.0,238.4L581.5,238.4L582.0,238.4L582.5,238.4L583.0,238.4L583.5,238.4L584.0,238.4L584.5,238.4L585.0,238.4L585.5,238.4L586.0,238.5L586.5,238.7L587.0,238.9L587.5,239.1L588.0,239.4L588.5,239.7L589.0,239.9L589.5,240.1L590.0,240.3L590.5,240.5L591.0,240.6L591.5,240.8L592.0,240.9L592.5,241.1L593.0,241.2L593.5,241.4L594.0,241.5L594.5,241.7L595.0,241.8L595.5,241.9L596.0,242.1L596.5,242.2L597.0,242.3L597.5,242.4L598.0,242.6L598.5,242.7L599.0,242.8L599.5,242.9L600.0,243.0L600.5,243.1L601.0,243.2L601.5,243.3L602.0,243.4L602.5,243.5L603.0,243.6L603.5,243.7L604.0,243.8L604.5,243.9L605.0,243.9L605.5,244.0L606.0,244.1L606.5,244.2L607.0,244.3L607.5,244.3L608.0,244.4L608.5,244.4L609.0,244.5L609.5,244.6L610.0,244.6L610.5,244.6L611.0,244.7L611.5,244.7L612.0,244.8L612.5,244.8L613.0,244.9L613.5,244.9L614.0,244.9L614.5,245.0L615.0,245.0L615.5,245.0L616.0,245.1L616.5,245.1L617.0,245.1L617.5,245.1L618.0,245.2L618.5,245.2L619.0,245.2L619.5,245.2L620.0,245.2L620.5,245.2L621.0,245.2L621.5,245.2L622.0,245.2L622.5,245.2L623.0,245.2L623.5,245.2L624.0,245.2L624.5,245.2L625.0,245.2L625.5,245.2L626.0,245.2L626.5,245.2L627.0,245.2L627.5,245.2L628.0,245.2L628.5,245.2L629.0,245.2L629.5,245.2L630.0,245.2L630.5,245.2L631.0,245.2L631.5,245.2L632.0,245.2L632.5,245.2L633.0,245.2L633.5,245.2L634.0,245.3L634.5,245.3L635.0,245.3L635.5,245.3L636.0,245.3L636.5,245.3L637.0,245.3L637.5,245.3L638.0,245.3L638.5,245.3L639.0,245.3L639.5,245.3L640.0,245.3L640.5,245.3L641.0,245.3L641.5,245.3L642.0,245.3L642.5,245.3L643.0,245.3L643.5,245.3L644.0,245.3L644.5,245.3L645.0,245.3L645.5,245.3L646.0,245.3L646.5,245.3L647.0,245.3L647.5,245.3L648.0,245.3L648.5,245.3L649.0,245.3L649.5,245.3L650.0,245.3L650.5,245.3L651.0,245.3L651.5,245.3L652.0,245.3L652.5,245.3L653.0,245.3L653.5,245.3L654.0,245.3L654.5,245.3L655.0,245.3L655.5,245.3L656.0,245.3L656.5,245.3L657.0,245.3L657.5,245.3L658.0,245.3L658.5,245.3L659.0,245.3L659.5,245.3L660.0,245.3L660.5,245.3L661.0,245.3L661.5,245.3L662.0,245.3L662.5,245.3L663.0,245.3L663.5,245.3L664.0,245.3L664.5,245.3L665.0,245.3L665.5,245.3L666.0,245.3L666.5,245.3L667.0,245.3L667.5,245.3L668.0,245.3L668.5,245.3L669.0,245.3L669.5,245.3L670.0,245.3L670.5,245.3L671.0,245.3L671.5,245.3L672.0,245.3L672.5,245.3L673.0,245.3L673.5,245.3L674.0,245.3L674.5,245.3L675.0,245.3L675.5,245.3L676.0,245.3" fill="none" stroke="#2323d6" stroke-width="1.05" stroke-linejoin="round"/>
<path d="M476.0,246.3L476.5,246.3L477.0,246.3L477.5,246.3L478.0,246.3L478.5,246.3L479.0,246.3L479.5,246.2L480.0,246.2L480.5,246.2L481.0,246.2L481.5,246.2L482.0,246.1L482.5,246.1L483.0,246.1L483.5,246.1L484.0,246.0L484.5,246.0L485.0,245.9L485.5,245.9L486.0,245.9L486.5,245.8L487.0,245.8L487.5,245.7L488.0,245.7L488.5,245.6L489.0,245.6L489.5,245.5L490.0,245.5L490.5,245.4L491.0,245.3L491.5,245.3L492.0,245.2L492.5,245.1L493.0,245.0L493.5,244.8L494.0,244.6L494.5,244.4L495.0,244.1L495.5,243.8L496.0,243.6L496.5,243.3L497.0,243.0L497.5,242.7L498.0,242.4L498.5,242.1L499.0,241.8L499.5,241.5L500.0,241.1L500.5,240.7L501.0,240.3L501.5,239.9L502.0,239.5L502.5,239.1L503.0,238.6L503.5,238.1L504.0,237.6L504.5,237.0L505.0,236.5L505.5,235.9L506.0,235.2L506.5,234.6L507.0,233.9L507.5,233.2L508.0,232.4L508.5,231.6L509.0,230.7L509.5,229.8L510.0,228.9L510.5,227.9L511.0,226.9L511.5,225.9L512.0,224.8L512.5,223.7L513.0,222.4L513.5,221.1L514.0,219.8L514.5,218.3L515.0,216.9L515.5,215.5L516.0,214.0L516.5,212.6L517.0,211.2L517.5,209.8L518.0,208.5L518.5,207.1L519.0,205.7L519.5,204.3L520.0,202.9L520.5,201.5L521.0,200.2L521.5,198.8L522.0,197.5L522.5,196.2L523.0,194.8L523.5,193.4L524.0,192.0L524.5,190.7L525.0,189.4L525.5,188.3L526.0,187.3L526.5,186.3L527.0,185.4L527.5,184.5L528.0,183.7L528.5,183.1L529.0,182.8L529.5,182.6L530.0,182.5L530.5,182.3L531.0,182.2L531.5,182.1L532.0,182.1L532.5,182.0L533.0,182.0L533.5,182.1L534.0,182.4L534.5,182.8L535.0,183.4L535.5,184.0L536.0,184.7L536.5,185.5L537.0,186.2L537.5,187.0L538.0,187.9L538.5,189.0L539.0,190.2L539.5,191.4L540.0,192.7L540.5,193.9L541.0,195.2L541.5,196.4L542.0,197.5L542.5,198.6L543.0,199.7L543.5,200.8L544.0,201.8L544.5,202.9L545.0,204.0L545.5,205.0L546.0,205.9L546.5,206.8L547.0,207.7L547.5,208.5L548.0,209.3L548.5,210.1L549.0,210.8L549.5,211.5L550.0,212.2L550.5,212.8L551.0,213.5L551.5,214.0L552.0,214.6L552.5,215.1L553.0,215.6L553.5,216.1L554.0,216.6L554.5,217.1L555.0,217.5L555.5,217.9L556.0,218.3L556.5,218.7L557.0,219.0L557.5,219.3L558.0,219.6L558.5,219.8L559.0,220.1L559.5,220.3L560.0,220.5L560.5,220.7L561.0,221.0L561.5,221.2L562.0,221.4L562.5,221.6L563.0,221.8L563.5,222.0L564.0,222.2L564.5,222.5L565.0,222.7L565.5,222.9L566.0,223.1L566.5,223.3L567.0,223.6L567.5,223.9L568.0,224.2L568.5,224.5L569.0,224.9L569.5,225.2L570.0,225.6L570.5,225.9L571.0,226.3L571.5,226.6L572.0,227.0L572.5,227.3L573.0,227.7L573.5,228.0L574.0,228.4L574.5,228.8L575.0,229.1L575.5,229.5L576.0,229.8L576.5,230.2L577.0,230.5L577.5,230.8L578.0,231.2L578.5,231.5L579.0,231.9L579.5,232.2L580.0,232.5L580.5,232.9L581.0,233.2L581.5,233.6L582.0,233.9L582.5,234.2L583.0,234.6L583.5,234.9L584.0,235.3L584.5,235.6L585.0,236.0L585.5,236.3L586.0,236.6L586.5,237.0L587.0,237.3L587.5,237.6L588.0,238.0L588.5,238.4L589.0,238.7L589.5,239.1L590.0,239.4L590.5,239.8L591.0,240.0L591.5,240.3L592.0,240.5L592.5,240.7L593.0,240.8L593.5,241.0L594.0,241.1L594.5,241.3L595.0,241.4L595.5,241.5L596.0,241.6L596.5,241.8L597.0,241.9L597.5,242.0L598.0,242.1L598.5,242.2L599.0,242.3L599.5,242.3L600.0,242.4L600.5,242.5L601.0,242.6L601.5,242.7L602.0,242.8L602.5,242.9L603.0,243.0L603.5,243.1L604.0,243.2L604.5,243.3L605.0,243.4L605.5,243.5L606.0,243.6L606.5,243.7L607.0,243.8L607.5,243.8L608.0,243.9L608.5,244.0L609.0,244.1L609.5,244.1L610.0,244.2L610.5,244.3L611.0,244.3L611.5,244.4L612.0,244.4L612.5,244.4L613.0,244.5L613.5,244.5L614.0,244.5L614.5,244.6L615.0,244.6L615.5,244.6L616.0,244.7L616.5,244.7L617.0,244.7L617.5,244.7L618.0,244.8L618.5,244.8L619.0,244.8L619.5,244.9L620.0,244.9L620.5,244.9L621.0,244.9L621.5,244.9L622.0,245.0L622.5,245.0L623.0,245.0L623.5,245.0L624.0,245.1L624.5,245.1L625.0,245.1L625.5,245.1L626.0,245.1L626.5,245.1L627.0,245.1L627.5,245.2L628.0,245.2L628.5,245.2L629.0,245.2L629.5,245.2L630.0,245.2L630.5,245.2L631.0,245.2L631.5,245.2L632.0,245.2L632.5,245.2L633.0,245.2L633.5,245.2L634.0,245.2L634.5,245.2L635.0,245.2L635.5,245.2L636.0,245.2L636.5,245.2L637.0,245.2L637.5,245.2L638.0,245.2L638.5,245.2L639.0,245.2L639.5,245.2L640.0,245.2L640.5,245.2L641.0,245.2L641.5,245.2L642.0,245.2L642.5,245.2L643.0,245.2L643.5,245.2L644.0,245.2L644.5,245.2L645.0,245.2L645.5,245.2L646.0,245.2L646.5,245.2L647.0,245.2L647.5,245.2L648.0,245.2L648.5,245.2L649.0,245.2L649.5,245.2L650.0,245.2L650.5,245.2L651.0,245.2L651.5,245.2L652.0,245.2L652.5,245.2L653.0,245.2L653.5,245.2L654.0,245.2L654.5,245.2L655.0,245.2L655.5,245.2L656.0,245.2L656.5,245.2L657.0,245.2L657.5,245.2L658.0,245.2L658.5,245.2L659.0,245.2L659.5,245.2L660.0,245.2L660.5,245.2L661.0,245.2L661.5,245.2L662.0,245.2L662.5,245.2L663.0,245.2L663.5,245.2L664.0,245.2L664.5,245.2L665.0,245.2L665.5,245.2L666.0,245.2L666.5,245.2L667.0,245.2L667.5,245.2L668.0,245.2L668.5,245.2L669.0,245.2L669.5,245.2L670.0,245.2L670.5,245.2L671.0,245.2L671.5,245.2L672.0,245.2L672.5,245.2L673.0,245.2L673.5,245.2L674.0,245.2L674.5,245.2L675.0,245.2L675.5,245.2L676.0,245.2" fill="none" stroke="#de4a74" stroke-width="1.9" stroke-linejoin="round"/>
<path d="M476.0,246.5L476.5,246.1L477.0,246.1L477.5,246.0L478.0,246.6L478.5,246.5L479.0,246.0L479.5,245.9L480.0,246.2L480.5,246.1L481.0,246.7L481.5,245.7L482.0,245.6L482.5,246.0L483.0,246.1L483.5,246.1L484.0,246.2L484.5,246.6L485.0,245.8L485.5,245.7L486.0,245.3L486.5,245.9L487.0,246.0L487.5,245.7L488.0,246.0L488.5,245.6L489.0,246.0L489.5,245.6L490.0,245.1L490.5,245.2L491.0,244.9L491.5,244.7L492.0,245.3L492.5,245.4L493.0,245.6L493.5,244.8L494.0,244.5L494.5,244.0L495.0,244.4L495.5,243.9L496.0,243.4L496.5,243.5L497.0,243.2L497.5,242.2L498.0,242.7L498.5,242.2L499.0,241.7L499.5,241.3L500.0,241.6L500.5,241.2L501.0,240.9L501.5,239.6L502.0,239.3L502.5,239.3L503.0,238.2L503.5,237.9L504.0,237.0L504.5,237.6L505.0,236.8L505.5,236.0L506.0,235.3L506.5,234.5L507.0,233.8L507.5,233.4L508.0,232.2L508.5,232.0L509.0,230.6L509.5,229.6L510.0,229.3L510.5,227.9L511.0,227.1L511.5,225.8L512.0,224.1L512.5,223.8L513.0,222.0L513.5,221.4L514.0,219.3L514.5,217.8L515.0,217.0L515.5,215.6L516.0,214.0L516.5,212.2L517.0,211.5L517.5,209.4L518.0,208.3L518.5,206.8L519.0,205.6L519.5,204.5L520.0,202.7L520.5,201.7L521.0,200.4L521.5,198.3L522.0,197.2L522.5,196.0L523.0,194.6L523.5,193.5L524.0,191.4L524.5,190.9L525.0,189.7L525.5,188.3L526.0,186.9L526.5,186.3L527.0,185.2L527.5,184.7L528.0,183.7L528.5,183.3L529.0,182.7L529.5,183.1L530.0,181.8L530.5,182.0L531.0,182.4L531.5,181.7L532.0,182.3L532.5,181.6L533.0,182.0L533.5,181.8L534.0,182.3L534.5,182.9L535.0,183.4L535.5,183.9L536.0,185.4L536.5,185.5L537.0,185.9L537.5,187.3L538.0,188.2L538.5,189.4L539.0,190.7L539.5,191.1L540.0,193.0L540.5,194.3L541.0,195.2L541.5,196.5L542.0,196.6L542.5,198.4L543.0,200.2L543.5,200.2L544.0,201.7L544.5,203.0L545.0,204.1L545.5,205.5L546.0,205.4L546.5,206.9L547.0,208.0L547.5,208.1L548.0,209.3L548.5,210.6L549.0,211.2L549.5,211.7L550.0,211.4L550.5,212.8L551.0,213.6L551.5,214.0L552.0,214.6L552.5,216.1L553.0,215.6L553.5,215.9L554.0,216.7L554.5,217.0L555.0,217.4L555.5,217.9L556.0,218.5L556.5,218.7L557.0,218.6L557.5,219.3L558.0,219.7L558.5,219.7L559.0,220.4L559.5,220.5L560.0,220.2L560.5,220.8L561.0,221.6L561.5,221.6L562.0,221.4L562.5,221.9L563.0,221.6L563.5,221.6L564.0,222.4L564.5,222.5L565.0,222.8L565.5,222.9L566.0,223.2L566.5,223.2L567.0,223.7L567.5,224.1L568.0,224.2L568.5,224.8L569.0,224.3L569.5,225.0L570.0,226.0L570.5,226.5L571.0,226.4L571.5,226.6L572.0,226.6L572.5,227.5L573.0,227.9L573.5,227.6L574.0,228.6L574.5,228.9L575.0,229.2L575.5,229.1L576.0,230.0L576.5,229.7L577.0,230.9L577.5,230.9L578.0,230.8L578.5,231.9L579.0,232.2L579.5,232.0L580.0,233.2L580.5,232.6L581.0,233.3L581.5,233.9L582.0,233.2L582.5,234.5L583.0,234.6L583.5,234.9L584.0,234.9L584.5,235.7L585.0,235.6L585.5,236.0L586.0,236.5L586.5,236.6L587.0,237.8L587.5,237.2L588.0,237.8L588.5,238.3L589.0,238.7L589.5,239.3L590.0,239.7L590.5,239.7L591.0,239.9L591.5,240.3L592.0,240.7L592.5,240.9L593.0,240.7L593.5,240.4L594.0,241.8L594.5,241.6L595.0,241.5L595.5,241.6L596.0,241.5L596.5,241.5L597.0,241.8L597.5,241.9L598.0,241.9L598.5,241.7L599.0,242.2L599.5,242.5L600.0,242.3L600.5,242.5L601.0,242.0L601.5,242.6L602.0,242.8L602.5,242.5L603.0,242.5L603.5,243.2L604.0,242.9L604.5,243.4L605.0,243.3L605.5,243.7L606.0,243.5L606.5,243.2L607.0,243.7L607.5,243.7L608.0,244.1L608.5,243.9L609.0,244.0L609.5,244.4L610.0,244.6L610.5,244.5L611.0,244.6L611.5,244.5L612.0,244.6L612.5,244.7L613.0,244.6L613.5,244.5L614.0,244.6L614.5,245.3L615.0,244.6L615.5,244.6L616.0,244.5L616.5,244.7L617.0,244.8L617.5,244.4L618.0,244.2L618.5,244.9L619.0,244.3L619.5,244.9L620.0,244.9L620.5,245.2L621.0,245.4L621.5,245.1L622.0,244.8L622.5,244.6L623.0,244.8L623.5,245.0L624.0,244.4L624.5,245.1L625.0,245.1L625.5,245.3L626.0,245.0L626.5,245.2L627.0,244.9L627.5,245.0L628.0,244.6L628.5,245.2L629.0,245.6L629.5,245.2L630.0,245.3L630.5,244.9L631.0,245.6L631.5,245.0L632.0,245.4L632.5,245.2L633.0,244.9L633.5,245.5L634.0,245.2L634.5,245.3L635.0,245.3L635.5,245.2L636.0,245.1L636.5,245.3L637.0,245.1L637.5,245.2L638.0,245.0L638.5,244.8L639.0,245.0L639.5,245.1L640.0,245.2L640.5,245.6L641.0,244.7L641.5,245.2L642.0,244.5L642.5,244.9L643.0,245.0L643.5,244.5L644.0,244.6L644.5,245.2L645.0,245.2L645.5,245.2L646.0,245.0L646.5,245.8L647.0,245.2L647.5,244.9L648.0,245.7L648.5,245.4L649.0,245.1L649.5,245.6L650.0,245.2L650.5,245.4L651.0,245.3L651.5,244.9L652.0,245.5L652.5,245.2L653.0,244.9L653.5,245.0L654.0,245.5L654.5,245.1L655.0,245.2L655.5,245.4L656.0,245.2L656.5,244.7L657.0,245.4L657.5,245.5L658.0,245.5L658.5,245.7L659.0,245.3L659.5,245.4L660.0,245.7L660.5,245.1L661.0,245.7L661.5,245.7L662.0,245.4L662.5,245.8L663.0,245.5L663.5,244.9L664.0,245.5L664.5,245.3L665.0,245.3L665.5,245.2L666.0,245.6L666.5,245.4L667.0,245.0L667.5,245.3L668.0,245.4L668.5,245.0L669.0,245.1L669.5,245.1L670.0,245.0L670.5,245.3L671.0,245.5L671.5,245.8L672.0,245.6L672.5,245.5L673.0,245.5L673.5,245.6L674.0,245.1L674.5,245.4L675.0,245.3L675.5,245.2L676.0,245.1" fill="none" stroke="#3a0e1a" stroke-width="1.1" stroke-linejoin="round" stroke-dasharray="2.2,0.7"/>
<path d="M476.0,319.2L476.5,319.2L477.0,319.2L477.5,319.2L478.0,319.1L478.5,319.1L479.0,319.0L479.5,319.0L480.0,318.9L480.5,318.9L481.0,318.8L481.5,318.7L482.0,318.6L482.5,318.5L483.0,318.4L483.5,318.3L484.0,318.2L484.5,318.1L485.0,318.0L485.5,317.9L486.0,317.8L486.5,317.7L487.0,317.6L487.5,317.5L488.0,317.4L488.5,317.2L489.0,317.1L489.5,316.9L490.0,316.7L490.5,316.5L491.0,316.3L491.5,316.0L492.0,315.8L492.5,315.5L493.0,315.2L493.5,314.8L494.0,314.4L494.5,313.9L495.0,313.5L495.5,313.0L496.0,312.4L496.5,311.9L497.0,311.3L497.5,310.7L498.0,310.0L498.5,309.3L499.0,308.5L499.5,307.7L500.0,306.9L500.5,306.0L501.0,305.1L501.5,304.2L502.0,303.3L502.5,302.4L503.0,301.4L503.5,300.4L504.0,299.4L504.5,298.4L505.0,297.3L505.5,296.2L506.0,295.2L506.5,294.1L507.0,293.1L507.5,292.1L508.0,291.0L508.5,290.0L509.0,289.0L509.5,287.9L510.0,286.9L510.5,285.9L511.0,284.9L511.5,283.9L512.0,282.9L512.5,281.9L513.0,281.0L513.5,280.0L514.0,279.0L514.5,278.1L515.0,277.1L515.5,276.2L516.0,275.4L516.5,274.6L517.0,273.8L517.5,273.1L518.0,272.4L518.5,271.7L519.0,271.0L519.5,270.3L520.0,269.7L520.5,269.1L521.0,268.6L521.5,268.1L522.0,267.7L522.5,267.3L523.0,266.9L523.5,266.6L524.0,266.2L524.5,265.9L525.0,265.6L525.5,265.3L526.0,265.1L526.5,264.9L527.0,264.7L527.5,264.5L528.0,264.4L528.5,264.2L529.0,264.1L529.5,264.0L530.0,264.0L530.5,264.0L531.0,264.1L531.5,264.2L532.0,264.3L532.5,264.5L533.0,264.7L533.5,264.9L534.0,265.2L534.5,265.5L535.0,265.7L535.5,266.0L536.0,266.4L536.5,266.7L537.0,267.0L537.5,267.4L538.0,267.8L538.5,268.3L539.0,268.9L539.5,269.5L540.0,270.2L540.5,270.9L541.0,271.6L541.5,272.3L542.0,273.0L542.5,273.7L543.0,274.5L543.5,275.3L544.0,276.1L544.5,276.9L545.0,277.8L545.5,278.7L546.0,279.6L546.5,280.5L547.0,281.4L547.5,282.3L548.0,283.3L548.5,284.3L549.0,285.3L549.5,286.4L550.0,287.4L550.5,288.5L551.0,289.5L551.5,290.6L552.0,291.6L552.5,292.6L553.0,293.7L553.5,294.7L554.0,295.7L554.5,296.8L555.0,297.8L555.5,298.8L556.0,299.8L556.5,300.8L557.0,301.8L557.5,302.8L558.0,303.8L558.5,304.7L559.0,305.7L559.5,306.7L560.0,307.6L560.5,308.5L561.0,309.4L561.5,310.2L562.0,310.9L562.5,311.6L563.0,312.2L563.5,312.9L564.0,313.5L564.5,314.0L565.0,314.6L565.5,315.1L566.0,315.6L566.5,316.1L567.0,316.5L567.5,316.9L568.0,317.4L568.5,317.8L569.0,318.2L569.5,318.6L570.0,319.0L570.5,319.3L571.0,319.6L571.5,319.8L572.0,320.0L572.5,320.2L573.0,320.3L573.5,320.4L574.0,320.6L574.5,320.7L575.0,320.8L575.5,321.0L576.0,321.1L576.5,321.2L577.0,321.3L577.5,321.4L578.0,321.5L578.5,321.5L579.0,321.6L579.5,321.7L580.0,321.7L580.5,321.7L581.0,321.8L581.5,321.8L582.0,321.8L582.5,321.8L583.0,321.8L583.5,321.8L584.0,321.8L584.5,321.8L585.0,321.8L585.5,321.8L586.0,321.8L586.5,321.8L587.0,321.8L587.5,321.8L588.0,321.8L588.5,321.8L589.0,321.8L589.5,321.8L590.0,321.8L590.5,321.8L591.0,321.8L591.5,321.8L592.0,321.8L592.5,321.8L593.0,321.8L593.5,321.8L594.0,321.8L594.5,321.8L595.0,321.8L595.5,321.8L596.0,321.8L596.5,321.8L597.0,321.8L597.5,321.8L598.0,321.8L598.5,321.8L599.0,321.8L599.5,321.8L600.0,321.8L600.5,321.8L601.0,321.8L601.5,321.8L602.0,321.8L602.5,321.8L603.0,321.8L603.5,321.8L604.0,321.8L604.5,321.8L605.0,321.8L605.5,321.8L606.0,321.8L606.5,321.8L607.0,321.8L607.5,321.8L608.0,321.8L608.5,321.8L609.0,321.8L609.5,321.8L610.0,321.8L610.5,321.8L611.0,321.8L611.5,321.8L612.0,321.8L612.5,321.8L613.0,321.8L613.5,321.8L614.0,321.8L614.5,321.8L615.0,321.8L615.5,321.8L616.0,321.8L616.5,321.8L617.0,321.8L617.5,321.8L618.0,321.8L618.5,321.8L619.0,321.8L619.5,321.8L620.0,321.8L620.5,321.8L621.0,321.8L621.5,321.8L622.0,321.8L622.5,321.8L623.0,321.8L623.5,321.8L624.0,321.8L624.5,321.8L625.0,321.8L625.5,321.8L626.0,321.8L626.5,321.8L627.0,321.8L627.5,321.8L628.0,321.8L628.5,321.8L629.0,321.8L629.5,321.8L630.0,321.8L630.5,321.8L631.0,321.8L631.5,321.8L632.0,321.8L632.5,321.8L633.0,321.8L633.5,321.8L634.0,321.8L634.5,321.8L635.0,321.8L635.5,321.8L636.0,321.8L636.5,321.8L637.0,321.8L637.5,321.8L638.0,321.8L638.5,321.8L639.0,321.8L639.5,321.8L640.0,321.8L640.5,321.8L641.0,321.8L641.5,321.8L642.0,321.8L642.5,321.8L643.0,321.8L643.5,321.8L644.0,321.8L644.5,321.8L645.0,321.8L645.5,321.8L646.0,321.8L646.5,321.8L647.0,321.8L647.5,321.8L648.0,321.8L648.5,321.8L649.0,321.8L649.5,321.8L650.0,321.8L650.5,321.8L651.0,321.8L651.5,321.8L652.0,321.8L652.5,321.8L653.0,321.8L653.5,321.8L654.0,321.8L654.5,321.8L655.0,321.8L655.5,321.8L656.0,321.8L656.5,321.8L657.0,321.8L657.5,321.8L658.0,321.8L658.5,321.8L659.0,321.8L659.5,321.8L660.0,321.8L660.5,321.8L661.0,321.8L661.5,321.8L662.0,321.8L662.5,321.8L663.0,321.8L663.5,321.8L664.0,321.8L664.5,321.8L665.0,321.8L665.5,321.8L666.0,321.8L666.5,321.8L667.0,321.8L667.5,321.8L668.0,321.8L668.5,321.8L669.0,321.8L669.5,321.8L670.0,321.8L670.5,321.8L671.0,321.8L671.5,321.8L672.0,321.8L672.5,321.8L673.0,321.8L673.5,321.8L674.0,321.8L674.5,321.8L675.0,321.8L675.5,321.8L676.0,321.8" fill="none" stroke="#dd7ddd" stroke-width="1.0" stroke-linejoin="round"/>
<path d="M476.0,322.5L476.5,322.5L477.0,322.5L477.5,322.5L478.0,322.5L478.5,322.5L479.0,322.5L479.5,322.5L480.0,322.5L480.5,322.5L481.0,322.5L481.5,322.5L482.0,322.5L482.5,322.5L483.0,322.5L483.5,322.5L484.0,322.5L484.5,322.5L485.0,322.5L485.5,322.5L486.0,322.5L486.5,322.5L487.0,322.5L487.5,322.5L488.0,322.5L488.5,322.5L489.0,322.5L489.5,322.5L490.0,322.5L490.5,322.5L491.0,322.5L491.5,322.5L492.0,322.5L492.5,322.5L493.0,322.5L493.5,322.5L494.0,322.5L494.5,322.5L495.0,322.5L495.5,322.5L496.0,322.5L496.5,322.5L497.0,322.5L497.5,322.5L498.0,322.5L498.5,322.5L499.0,322.5L499.5,322.5L500.0,322.5L500.5,322.5L501.0,322.5L501.5,322.5L502.0,322.5L502.5,322.5L503.0,322.5L503.5,322.5L504.0,322.5L504.5,322.5L505.0,322.5L505.5,322.5L506.0,322.5L506.5,322.5L507.0,322.5L507.5,322.5L508.0,322.5L508.5,322.5L509.0,322.5L509.5,322.5L510.0,322.5L510.5,322.5L511.0,322.5L511.5,322.5L512.0,322.5L512.5,322.5L513.0,322.5L513.5,322.5L514.0,322.5L514.5,322.5L515.0,322.5L515.5,322.5L516.0,322.5L516.5,322.5L517.0,322.5L517.5,322.5L518.0,322.5L518.5,322.5L519.0,322.5L519.5,322.5L520.0,322.5L520.5,322.5L521.0,322.5L521.5,322.5L522.0,322.5L522.5,322.5L523.0,322.5L523.5,322.5L524.0,322.5L524.5,322.5L525.0,322.4L525.5,322.4L526.0,322.4L526.5,322.4L527.0,322.4L527.5,322.4L528.0,322.4L528.5,322.3L529.0,322.3L529.5,322.3L530.0,322.3L530.5,322.3L531.0,322.2L531.5,322.2L532.0,322.1L532.5,322.1L533.0,322.0L533.5,321.9L534.0,321.8L534.5,321.7L535.0,321.6L535.5,321.5L536.0,321.4L536.5,321.3L537.0,321.2L537.5,321.0L538.0,320.9L538.5,320.8L539.0,320.6L539.5,320.5L540.0,320.3L540.5,320.2L541.0,320.0L541.5,319.9L542.0,319.7L542.5,319.6L543.0,319.4L543.5,319.3L544.0,319.1L544.5,318.9L545.0,318.8L545.5,318.6L546.0,318.5L546.5,318.3L547.0,318.1L547.5,317.9L548.0,317.7L548.5,317.5L549.0,317.3L549.5,317.1L550.0,316.9L550.5,316.7L551.0,316.5L551.5,316.3L552.0,316.1L552.5,315.9L553.0,315.7L553.5,315.5L554.0,315.3L554.5,315.2L555.0,315.0L555.5,314.8L556.0,314.7L556.5,314.5L557.0,314.3L557.5,314.1L558.0,313.9L558.5,313.8L559.0,313.7L559.5,313.6L560.0,313.6L560.5,313.6L561.0,313.6L561.5,313.7L562.0,313.7L562.5,313.8L563.0,313.9L563.5,314.0L564.0,314.1L564.5,314.2L565.0,314.3L565.5,314.4L566.0,314.6L566.5,314.7L567.0,314.9L567.5,315.1L568.0,315.4L568.5,315.6L569.0,315.9L569.5,316.1L570.0,316.4L570.5,316.7L571.0,316.9L571.5,317.2L572.0,317.5L572.5,317.7L573.0,318.0L573.5,318.2L574.0,318.4L574.5,318.6L575.0,318.8L575.5,319.0L576.0,319.1L576.5,319.3L577.0,319.5L577.5,319.7L578.0,319.8L578.5,320.0L579.0,320.1L579.5,320.3L580.0,320.5L580.5,320.6L581.0,320.7L581.5,320.9L582.0,321.0L582.5,321.1L583.0,321.2L583.5,321.3L584.0,321.4L584.5,321.4L585.0,321.5L585.5,321.5L586.0,321.6L586.5,321.6L587.0,321.7L587.5,321.7L588.0,321.8L588.5,321.8L589.0,321.8L589.5,321.9L590.0,321.9L590.5,321.9L591.0,322.0L591.5,322.0L592.0,322.0L592.5,322.1L593.0,322.1L593.5,322.1L594.0,322.2L594.5,322.2L595.0,322.2L595.5,322.2L596.0,322.2L596.5,322.2L597.0,322.3L597.5,322.3L598.0,322.3L598.5,322.3L599.0,322.3L599.5,322.3L600.0,322.3L600.5,322.3L601.0,322.3L601.5,322.3L602.0,322.3L602.5,322.3L603.0,322.3L603.5,322.3L604.0,322.3L604.5,322.3L605.0,322.3L605.5,322.3L606.0,322.3L606.5,322.3L607.0,322.3L607.5,322.3L608.0,322.3L608.5,322.3L609.0,322.3L609.5,322.3L610.0,322.3L610.5,322.3L611.0,322.3L611.5,322.3L612.0,322.3L612.5,322.3L613.0,322.3L613.5,322.3L614.0,322.3L614.5,322.3L615.0,322.3L615.5,322.3L616.0,322.3L616.5,322.3L617.0,322.3L617.5,322.3L618.0,322.3L618.5,322.3L619.0,322.3L619.5,322.3L620.0,322.3L620.5,322.3L621.0,322.3L621.5,322.3L622.0,322.3L622.5,322.3L623.0,322.3L623.5,322.3L624.0,322.3L624.5,322.3L625.0,322.3L625.5,322.3L626.0,322.3L626.5,322.3L627.0,322.3L627.5,322.3L628.0,322.3L628.5,322.3L629.0,322.3L629.5,322.3L630.0,322.3L630.5,322.3L631.0,322.3L631.5,322.3L632.0,322.3L632.5,322.3L633.0,322.3L633.5,322.3L634.0,322.3L634.5,322.3L635.0,322.3L635.5,322.3L636.0,322.3L636.5,322.3L637.0,322.3L637.5,322.3L638.0,322.3L638.5,322.3L639.0,322.3L639.5,322.3L640.0,322.3L640.5,322.3L641.0,322.3L641.5,322.3L642.0,322.3L642.5,322.3L643.0,322.3L643.5,322.3L644.0,322.3L644.5,322.3L645.0,322.3L645.5,322.3L646.0,322.3L646.5,322.3L647.0,322.3L647.5,322.3L648.0,322.3L648.5,322.3L649.0,322.3L649.5,322.3L650.0,322.3L650.5,322.3L651.0,322.3L651.5,322.3L652.0,322.3L652.5,322.3L653.0,322.3L653.5,322.3L654.0,322.3L654.5,322.3L655.0,322.3L655.5,322.3L656.0,322.3L656.5,322.3L657.0,322.3L657.5,322.3L658.0,322.3L658.5,322.3L659.0,322.3L659.5,322.3L660.0,322.3L660.5,322.3L661.0,322.3L661.5,322.3L662.0,322.3L662.5,322.3L663.0,322.3L663.5,322.3L664.0,322.3L664.5,322.3L665.0,322.3L665.5,322.3L666.0,322.3L666.5,322.3L667.0,322.3L667.5,322.3L668.0,322.3L668.5,322.3L669.0,322.3L669.5,322.3L670.0,322.3L670.5,322.3L671.0,322.3L671.5,322.3L672.0,322.3L672.5,322.3L673.0,322.3L673.5,322.3L674.0,322.3L674.5,322.3L675.0,322.3L675.5,322.3L676.0,322.3" fill="none" stroke="#2ecc2e" stroke-width="1.05" stroke-linejoin="round"/>
<path d="M476.0,322.6L476.5,322.6L477.0,322.6L477.5,322.6L478.0,322.6L478.5,322.6L479.0,322.6L479.5,322.6L480.0,322.6L480.5,322.6L481.0,322.6L481.5,322.6L482.0,322.6L482.5,322.6L483.0,322.6L483.5,322.6L484.0,322.6L484.5,322.6L485.0,322.6L485.5,322.6L486.0,322.6L486.5,322.6L487.0,322.6L487.5,322.6L488.0,322.6L488.5,322.6L489.0,322.6L489.5,322.6L490.0,322.6L490.5,322.6L491.0,322.6L491.5,322.6L492.0,322.6L492.5,322.6L493.0,322.6L493.5,322.6L494.0,322.6L494.5,322.6L495.0,322.6L495.5,322.6L496.0,322.6L496.5,322.6L497.0,322.6L497.5,322.6L498.0,322.6L498.5,322.6L499.0,322.6L499.5,322.6L500.0,322.6L500.5,322.6L501.0,322.6L501.5,322.6L502.0,322.6L502.5,322.6L503.0,322.6L503.5,322.6L504.0,322.6L504.5,322.6L505.0,322.5L505.5,322.5L506.0,322.5L506.5,322.5L507.0,322.5L507.5,322.5L508.0,322.5L508.5,322.5L509.0,322.5L509.5,322.5L510.0,322.5L510.5,322.5L511.0,322.5L511.5,322.5L512.0,322.5L512.5,322.5L513.0,322.5L513.5,322.5L514.0,322.5L514.5,322.5L515.0,322.5L515.5,322.5L516.0,322.5L516.5,322.5L517.0,322.5L517.5,322.5L518.0,322.5L518.5,322.5L519.0,322.5L519.5,322.5L520.0,322.5L520.5,322.5L521.0,322.5L521.5,322.5L522.0,322.5L522.5,322.5L523.0,322.5L523.5,322.4L524.0,322.4L524.5,322.4L525.0,322.4L525.5,322.4L526.0,322.4L526.5,322.4L527.0,322.4L527.5,322.4L528.0,322.4L528.5,322.4L529.0,322.4L529.5,322.4L530.0,322.4L530.5,322.4L531.0,322.4L531.5,322.4L532.0,322.4L532.5,322.4L533.0,322.4L533.5,322.4L534.0,322.4L534.5,322.4L535.0,322.4L535.5,322.3L536.0,322.3L536.5,322.3L537.0,322.3L537.5,322.3L538.0,322.3L538.5,322.3L539.0,322.3L539.5,322.3L540.0,322.3L540.5,322.3L541.0,322.3L541.5,322.3L542.0,322.3L542.5,322.2L543.0,322.2L543.5,322.2L544.0,322.2L544.5,322.1L545.0,322.1L545.5,322.1L546.0,322.0L546.5,322.0L547.0,322.0L547.5,321.9L548.0,321.9L548.5,321.8L549.0,321.8L549.5,321.7L550.0,321.7L550.5,321.6L551.0,321.6L551.5,321.5L552.0,321.4L552.5,321.3L553.0,321.2L553.5,321.1L554.0,321.0L554.5,320.9L555.0,320.7L555.5,320.6L556.0,320.4L556.5,320.3L557.0,320.1L557.5,320.0L558.0,319.8L558.5,319.6L559.0,319.5L559.5,319.3L560.0,319.1L560.5,319.0L561.0,318.8L561.5,318.7L562.0,318.5L562.5,318.3L563.0,318.2L563.5,318.0L564.0,317.9L564.5,317.7L565.0,317.6L565.5,317.5L566.0,317.3L566.5,317.2L567.0,317.0L567.5,316.9L568.0,316.8L568.5,316.6L569.0,316.5L569.5,316.3L570.0,316.2L570.5,316.0L571.0,315.9L571.5,315.8L572.0,315.7L572.5,315.5L573.0,315.4L573.5,315.3L574.0,315.2L574.5,315.1L575.0,315.0L575.5,314.9L576.0,314.8L576.5,314.8L577.0,314.7L577.5,314.7L578.0,314.6L578.5,314.5L579.0,314.5L579.5,314.4L580.0,314.3L580.5,314.2L581.0,314.0L581.5,313.9L582.0,313.7L582.5,313.5L583.0,313.4L583.5,313.2L584.0,313.1L584.5,313.0L585.0,313.0L585.5,313.0L586.0,313.0L586.5,313.1L587.0,313.1L587.5,313.2L588.0,313.2L588.5,313.3L589.0,313.3L589.5,313.4L590.0,313.5L590.5,313.6L591.0,313.7L591.5,313.9L592.0,314.1L592.5,314.3L593.0,314.6L593.5,314.8L594.0,315.0L594.5,315.2L595.0,315.4L595.5,315.6L596.0,315.7L596.5,315.9L597.0,316.0L597.5,316.2L598.0,316.3L598.5,316.5L599.0,316.6L599.5,316.7L600.0,316.9L600.5,317.0L601.0,317.1L601.5,317.3L602.0,317.4L602.5,317.5L603.0,317.6L603.5,317.8L604.0,317.9L604.5,318.0L605.0,318.1L605.5,318.2L606.0,318.3L606.5,318.4L607.0,318.5L607.5,318.7L608.0,318.8L608.5,318.9L609.0,319.0L609.5,319.1L610.0,319.2L610.5,319.3L611.0,319.4L611.5,319.5L612.0,319.6L612.5,319.6L613.0,319.7L613.5,319.8L614.0,319.9L614.5,319.9L615.0,320.0L615.5,320.1L616.0,320.1L616.5,320.2L617.0,320.2L617.5,320.3L618.0,320.4L618.5,320.4L619.0,320.5L619.5,320.5L620.0,320.6L620.5,320.6L621.0,320.7L621.5,320.7L622.0,320.8L622.5,320.8L623.0,320.9L623.5,320.9L624.0,321.0L624.5,321.0L625.0,321.0L625.5,321.1L626.0,321.1L626.5,321.2L627.0,321.2L627.5,321.2L628.0,321.2L628.5,321.3L629.0,321.3L629.5,321.3L630.0,321.3L630.5,321.3L631.0,321.3L631.5,321.3L632.0,321.3L632.5,321.4L633.0,321.4L633.5,321.4L634.0,321.4L634.5,321.4L635.0,321.4L635.5,321.4L636.0,321.4L636.5,321.4L637.0,321.4L637.5,321.5L638.0,321.5L638.5,321.5L639.0,321.5L639.5,321.5L640.0,321.5L640.5,321.5L641.0,321.5L641.5,321.5L642.0,321.5L642.5,321.5L643.0,321.5L643.5,321.6L644.0,321.6L644.5,321.6L645.0,321.6L645.5,321.6L646.0,321.6L646.5,321.6L647.0,321.6L647.5,321.6L648.0,321.6L648.5,321.6L649.0,321.6L649.5,321.6L650.0,321.6L650.5,321.6L651.0,321.7L651.5,321.7L652.0,321.7L652.5,321.7L653.0,321.7L653.5,321.7L654.0,321.7L654.5,321.7L655.0,321.7L655.5,321.7L656.0,321.7L656.5,321.7L657.0,321.7L657.5,321.7L658.0,321.7L658.5,321.7L659.0,321.7L659.5,321.7L660.0,321.7L660.5,321.7L661.0,321.7L661.5,321.8L662.0,321.8L662.5,321.8L663.0,321.8L663.5,321.8L664.0,321.8L664.5,321.8L665.0,321.8L665.5,321.8L666.0,321.8L666.5,321.8L667.0,321.8L667.5,321.8L668.0,321.8L668.5,321.8L669.0,321.8L669.5,321.8L670.0,321.8L670.5,321.8L671.0,321.8L671.5,321.8L672.0,321.8L672.5,321.8L673.0,321.8L673.5,321.8L674.0,321.8L674.5,321.8L675.0,321.8L675.5,321.8L676.0,321.8" fill="none" stroke="#2323d6" stroke-width="1.05" stroke-linejoin="round"/>
<path d="M476.0,318.8L476.5,318.8L477.0,318.8L477.5,318.8L478.0,318.7L478.5,318.7L479.0,318.6L479.5,318.6L480.0,318.5L480.5,318.5L481.0,318.4L481.5,318.3L482.0,318.2L482.5,318.1L483.0,318.0L483.5,317.9L484.0,317.8L484.5,317.7L485.0,317.6L485.5,317.5L486.0,317.4L486.5,317.3L487.0,317.2L487.5,317.1L488.0,317.0L488.5,316.8L489.0,316.7L489.5,316.5L490.0,316.3L490.5,316.1L491.0,315.9L491.5,315.6L492.0,315.4L492.5,315.1L493.0,314.8L493.5,314.4L494.0,314.0L494.5,313.5L495.0,313.1L495.5,312.6L496.0,312.0L496.5,311.5L497.0,310.9L497.5,310.3L498.0,309.6L498.5,308.9L499.0,308.1L499.5,307.3L500.0,306.5L500.5,305.6L501.0,304.7L501.5,303.8L502.0,302.9L502.5,302.0L503.0,301.0L503.5,300.0L504.0,299.0L504.5,298.0L505.0,296.9L505.5,295.8L506.0,294.8L506.5,293.7L507.0,292.7L507.5,291.7L508.0,290.6L508.5,289.6L509.0,288.6L509.5,287.5L510.0,286.5L510.5,285.5L511.0,284.5L511.5,283.5L512.0,282.5L512.5,281.5L513.0,280.6L513.5,279.6L514.0,278.6L514.5,277.7L515.0,276.7L515.5,275.8L516.0,275.0L516.5,274.2L517.0,273.4L517.5,272.7L518.0,272.0L518.5,271.3L519.0,270.6L519.5,269.9L520.0,269.3L520.5,268.7L521.0,268.2L521.5,267.7L522.0,267.3L522.5,266.9L523.0,266.5L523.5,266.2L524.0,265.8L524.5,265.5L525.0,265.2L525.5,264.9L526.0,264.7L526.5,264.5L527.0,264.3L527.5,264.1L528.0,264.0L528.5,263.8L529.0,263.7L529.5,263.6L530.0,263.6L530.5,263.6L531.0,263.7L531.5,263.9L532.0,264.1L532.5,264.3L533.0,264.5L533.5,264.8L534.0,265.0L534.5,265.3L535.0,265.5L535.5,265.9L536.0,266.2L536.5,266.6L537.0,267.0L537.5,267.4L538.0,267.9L538.5,268.3L539.0,268.8L539.5,269.3L540.0,269.9L540.5,270.5L541.0,271.2L541.5,271.9L542.0,272.7L542.5,273.4L543.0,274.2L543.5,275.0L544.0,275.7L544.5,276.4L545.0,277.2L545.5,278.0L546.0,278.8L546.5,279.6L547.0,280.4L547.5,281.2L548.0,282.0L548.5,282.8L549.0,283.6L549.5,284.4L550.0,285.2L550.5,286.1L551.0,286.9L551.5,287.8L552.0,288.6L552.5,289.4L553.0,290.2L553.5,290.9L554.0,291.6L554.5,292.3L555.0,292.9L555.5,293.5L556.0,294.1L556.5,294.7L557.0,295.2L557.5,295.7L558.0,296.3L558.5,296.8L559.0,297.3L559.5,297.8L560.0,298.3L560.5,298.8L561.0,299.2L561.5,299.7L562.0,300.1L562.5,300.6L563.0,301.0L563.5,301.4L564.0,301.8L564.5,302.2L565.0,302.6L565.5,302.9L566.0,303.3L566.5,303.6L567.0,304.0L567.5,304.3L568.0,304.6L568.5,305.0L569.0,305.3L569.5,305.6L570.0,305.9L570.5,306.2L571.0,306.5L571.5,306.8L572.0,307.1L572.5,307.4L573.0,307.6L573.5,307.9L574.0,308.2L574.5,308.4L575.0,308.7L575.5,308.9L576.0,309.2L576.5,309.5L577.0,309.7L577.5,309.9L578.0,310.2L578.5,310.4L579.0,310.7L579.5,310.9L580.0,311.1L580.5,311.4L581.0,311.6L581.5,311.8L582.0,312.0L582.5,312.2L583.0,312.4L583.5,312.6L584.0,312.8L584.5,313.0L585.0,313.2L585.5,313.4L586.0,313.5L586.5,313.7L587.0,313.9L587.5,314.1L588.0,314.2L588.5,314.4L589.0,314.6L589.5,314.7L590.0,314.9L590.5,315.0L591.0,315.1L591.5,315.3L592.0,315.4L592.5,315.5L593.0,315.6L593.5,315.7L594.0,315.8L594.5,315.9L595.0,316.0L595.5,316.1L596.0,316.2L596.5,316.3L597.0,316.4L597.5,316.5L598.0,316.5L598.5,316.6L599.0,316.7L599.5,316.8L600.0,316.9L600.5,317.0L601.0,317.0L601.5,317.1L602.0,317.2L602.5,317.3L603.0,317.4L603.5,317.5L604.0,317.6L604.5,317.6L605.0,317.7L605.5,317.8L606.0,317.9L606.5,318.0L607.0,318.1L607.5,318.2L608.0,318.3L608.5,318.3L609.0,318.4L609.5,318.5L610.0,318.6L610.5,318.6L611.0,318.7L611.5,318.7L612.0,318.8L612.5,318.8L613.0,318.9L613.5,318.9L614.0,319.0L614.5,319.0L615.0,319.1L615.5,319.1L616.0,319.2L616.5,319.2L617.0,319.2L617.5,319.3L618.0,319.3L618.5,319.4L619.0,319.4L619.5,319.4L620.0,319.4L620.5,319.5L621.0,319.5L621.5,319.5L622.0,319.5L622.5,319.5L623.0,319.5L623.5,319.5L624.0,319.5L624.5,319.5L625.0,319.6L625.5,319.6L626.0,319.6L626.5,319.6L627.0,319.6L627.5,319.6L628.0,319.6L628.5,319.6L629.0,319.6L629.5,319.6L630.0,319.6L630.5,319.7L631.0,319.7L631.5,319.7L632.0,319.7L632.5,319.7L633.0,319.7L633.5,319.7L634.0,319.7L634.5,319.7L635.0,319.7L635.5,319.7L636.0,319.7L636.5,319.7L637.0,319.7L637.5,319.8L638.0,319.8L638.5,319.8L639.0,319.8L639.5,319.8L640.0,319.8L640.5,319.8L641.0,319.8L641.5,319.8L642.0,319.8L642.5,319.8L643.0,319.8L643.5,319.8L644.0,319.8L644.5,319.8L645.0,319.8L645.5,319.9L646.0,319.9L646.5,319.9L647.0,319.9L647.5,319.9L648.0,319.9L648.5,319.9L649.0,319.9L649.5,319.9L650.0,319.9L650.5,319.9L651.0,319.9L651.5,319.9L652.0,319.9L652.5,319.9L653.0,319.9L653.5,319.9L654.0,319.9L654.5,319.9L655.0,319.9L655.5,319.9L656.0,319.9L656.5,319.9L657.0,319.9L657.5,319.9L658.0,319.9L658.5,320.0L659.0,320.0L659.5,320.0L660.0,320.0L660.5,320.0L661.0,320.0L661.5,320.0L662.0,320.0L662.5,320.0L663.0,320.0L663.5,320.0L664.0,320.0L664.5,320.0L665.0,320.0L665.5,320.0L666.0,320.0L666.5,320.0L667.0,320.0L667.5,320.0L668.0,320.0L668.5,320.0L669.0,320.0L669.5,320.0L670.0,320.0L670.5,320.0L671.0,320.0L671.5,320.0L672.0,320.0L672.5,320.0L673.0,320.0L673.5,320.0L674.0,320.0L674.5,320.0L675.0,320.0L675.5,320.0L676.0,320.0" fill="none" stroke="#de4a74" stroke-width="1.9" stroke-linejoin="round"/>
<path d="M476.0,318.6L476.5,318.7L477.0,318.4L477.5,318.9L478.0,318.7L478.5,318.7L479.0,318.7L479.5,318.8L480.0,318.3L480.5,318.4L481.0,317.9L481.5,317.6L482.0,317.6L482.5,318.6L483.0,317.5L483.5,318.1L484.0,318.3L484.5,317.6L485.0,318.1L485.5,318.1L486.0,317.7L486.5,318.0L487.0,317.4L487.5,316.9L488.0,317.1L488.5,316.7L489.0,316.3L489.5,316.1L490.0,317.0L490.5,315.9L491.0,315.9L491.5,315.5L492.0,315.4L492.5,315.0L493.0,314.7L493.5,314.1L494.0,313.6L494.5,313.3L495.0,313.2L495.5,313.2L496.0,312.3L496.5,312.0L497.0,311.0L497.5,310.3L498.0,309.2L498.5,308.9L499.0,307.5L499.5,307.2L500.0,306.9L500.5,305.7L501.0,305.0L501.5,303.7L502.0,302.5L502.5,301.8L503.0,300.9L503.5,300.4L504.0,299.6L504.5,297.7L505.0,296.8L505.5,295.8L506.0,294.7L506.5,293.4L507.0,292.7L507.5,291.8L508.0,290.8L508.5,289.2L509.0,288.5L509.5,287.0L510.0,286.8L510.5,285.2L511.0,284.4L511.5,283.3L512.0,282.3L512.5,281.2L513.0,280.0L513.5,280.1L514.0,278.7L514.5,277.7L515.0,277.4L515.5,275.8L516.0,275.1L516.5,274.2L517.0,273.8L517.5,272.8L518.0,272.1L518.5,271.2L519.0,270.7L519.5,270.3L520.0,268.7L520.5,268.7L521.0,268.1L521.5,267.7L522.0,266.7L522.5,267.1L523.0,266.3L523.5,266.1L524.0,265.7L524.5,265.0L525.0,265.1L525.5,264.4L526.0,264.4L526.5,264.4L527.0,264.3L527.5,264.2L528.0,263.9L528.5,264.5L529.0,263.8L529.5,263.3L530.0,263.4L530.5,263.4L531.0,263.7L531.5,263.7L532.0,263.8L532.5,264.8L533.0,264.5L533.5,264.7L534.0,264.9L534.5,265.2L535.0,266.0L535.5,266.0L536.0,266.6L536.5,265.7L537.0,267.1L537.5,267.7L538.0,268.5L538.5,268.3L539.0,268.3L539.5,269.5L540.0,269.7L540.5,270.0L541.0,271.1L541.5,272.3L542.0,273.1L542.5,273.7L543.0,273.9L543.5,275.7L544.0,275.4L544.5,276.4L545.0,276.8L545.5,278.4L546.0,278.9L546.5,279.9L547.0,280.4L547.5,281.2L548.0,282.1L548.5,282.2L549.0,283.9L549.5,284.7L550.0,285.1L550.5,286.1L551.0,287.0L551.5,288.2L552.0,288.7L552.5,289.4L553.0,290.0L553.5,290.5L554.0,291.4L554.5,292.3L555.0,292.8L555.5,293.5L556.0,294.3L556.5,294.8L557.0,295.3L557.5,296.0L558.0,296.3L558.5,296.8L559.0,297.5L559.5,297.3L560.0,298.7L560.5,298.4L561.0,299.5L561.5,299.7L562.0,300.5L562.5,300.6L563.0,300.7L563.5,301.7L564.0,301.9L564.5,302.2L565.0,302.6L565.5,303.2L566.0,303.5L566.5,303.7L567.0,303.5L567.5,304.2L568.0,304.7L568.5,305.5L569.0,305.4L569.5,305.6L570.0,306.3L570.5,306.2L571.0,306.5L571.5,306.8L572.0,306.6L572.5,307.7L573.0,307.8L573.5,307.8L574.0,307.8L574.5,308.5L575.0,309.1L575.5,308.8L576.0,308.9L576.5,309.6L577.0,309.2L577.5,309.3L578.0,310.1L578.5,310.2L579.0,310.6L579.5,310.8L580.0,311.3L580.5,311.3L581.0,311.4L581.5,311.7L582.0,312.2L582.5,312.5L583.0,312.7L583.5,312.8L584.0,311.8L584.5,312.7L585.0,313.1L585.5,313.4L586.0,313.1L586.5,314.2L587.0,314.0L587.5,313.9L588.0,314.3L588.5,314.3L589.0,314.4L589.5,314.9L590.0,314.8L590.5,314.6L591.0,315.0L591.5,315.3L592.0,315.1L592.5,315.9L593.0,315.3L593.5,316.3L594.0,316.1L594.5,315.7L595.0,316.1L595.5,316.5L596.0,316.2L596.5,316.0L597.0,316.4L597.5,317.1L598.0,316.1L598.5,316.8L599.0,316.7L599.5,316.8L600.0,316.8L600.5,316.9L601.0,317.4L601.5,317.3L602.0,316.9L602.5,317.8L603.0,317.0L603.5,317.7L604.0,317.6L604.5,318.0L605.0,317.9L605.5,318.2L606.0,317.9L606.5,318.3L607.0,318.2L607.5,318.8L608.0,318.1L608.5,318.7L609.0,318.6L609.5,318.6L610.0,318.4L610.5,318.8L611.0,318.3L611.5,318.4L612.0,319.0L612.5,318.4L613.0,319.3L613.5,318.9L614.0,319.1L614.5,319.1L615.0,319.2L615.5,319.1L616.0,319.1L616.5,319.2L617.0,319.6L617.5,319.6L618.0,319.7L618.5,319.5L619.0,319.3L619.5,318.9L620.0,319.6L620.5,319.7L621.0,319.4L621.5,319.8L622.0,319.9L622.5,319.6L623.0,319.9L623.5,319.6L624.0,319.0L624.5,319.4L625.0,319.5L625.5,319.7L626.0,319.3L626.5,319.5L627.0,319.3L627.5,319.6L628.0,319.7L628.5,319.9L629.0,319.9L629.5,319.7L630.0,319.7L630.5,319.7L631.0,319.7L631.5,320.2L632.0,319.0L632.5,319.7L633.0,319.8L633.5,320.1L634.0,319.4L634.5,319.8L635.0,320.0L635.5,319.6L636.0,319.2L636.5,319.7L637.0,319.4L637.5,320.0L638.0,319.5L638.5,320.3L639.0,319.8L639.5,319.6L640.0,319.7L640.5,319.5L641.0,319.9L641.5,320.3L642.0,319.8L642.5,320.1L643.0,319.6L643.5,319.9L644.0,320.5L644.5,319.4L645.0,320.2L645.5,320.2L646.0,319.3L646.5,319.5L647.0,319.6L647.5,320.2L648.0,319.8L648.5,319.9L649.0,320.1L649.5,319.9L650.0,320.0L650.5,319.8L651.0,320.3L651.5,319.7L652.0,320.4L652.5,319.8L653.0,319.7L653.5,320.1L654.0,320.1L654.5,319.4L655.0,320.0L655.5,319.6L656.0,319.7L656.5,320.2L657.0,319.7L657.5,320.1L658.0,319.9L658.5,320.6L659.0,319.9L659.5,319.6L660.0,319.7L660.5,319.7L661.0,320.0L661.5,320.0L662.0,320.3L662.5,320.0L663.0,320.0L663.5,320.1L664.0,320.0L664.5,320.1L665.0,320.2L665.5,320.2L666.0,319.8L666.5,319.5L667.0,319.8L667.5,320.1L668.0,319.3L668.5,319.9L669.0,320.1L669.5,319.8L670.0,319.7L670.5,320.5L671.0,320.4L671.5,319.9L672.0,320.4L672.5,320.4L673.0,319.7L673.5,320.8L674.0,319.7L674.5,319.9L675.0,319.7L675.5,320.0L676.0,319.6" fill="none" stroke="#3a0e1a" stroke-width="1.1" stroke-linejoin="round" stroke-dasharray="2.2,0.7"/>
<text x="485.8" y="47.3" font-size="9.4" text-anchor="start" fill="#333" stroke="#333" stroke-width="0.22">529.8eV</text>
<text x="523.5" y="36.6" font-size="9.4" text-anchor="start" fill="#333" stroke="#333" stroke-width="0.22">531.7eV</text>
<text x="603.5" y="52.5" font-size="9.4" text-anchor="start" fill="#333" stroke="#333" stroke-width="0.22">533.3eV</text>
<text x="614.4" y="81" font-size="10.6" text-anchor="start" fill="#333" stroke="#333" stroke-width="0.22">15%Mn-ZnO</text>
<line x1="510.5" y1="50" x2="517.3328573895418" y2="56.99750455555494" stroke="#222" stroke-width="0.8"/>
<path d="M518.80,58.50 L516.05,57.55 L517.91,55.73 Z" fill="#222"/>
<line x1="552.4" y1="44.5" x2="554.7370912042411" y2="46.59738954226776" stroke="#222" stroke-width="0.8"/>
<path d="M556.30,48.00 L553.50,47.23 L555.23,45.30 Z" fill="#222"/>
<line x1="603.5" y1="56" x2="600.5764808268626" y2="60.896894615005195" stroke="#222" stroke-width="0.8"/>
<path d="M599.50,62.70 L599.72,59.80 L601.95,61.13 Z" fill="#222"/>
<text x="489.9" y="113.9" font-size="9.4" text-anchor="start" fill="#333" stroke="#333" stroke-width="0.22">530.1eV</text>
<text x="557.5" y="133" font-size="9.4" text-anchor="start" fill="#333" stroke="#333" stroke-width="0.22">531.7eV</text>
<text x="592" y="145.4" font-size="9.4" text-anchor="start" fill="#333" stroke="#333" stroke-width="0.22">533.2eV</text>
<text x="614.9" y="163" font-size="10.5" text-anchor="start" fill="#333" stroke="#333" stroke-width="0.22">10%Mn-ZnO</text>
<line x1="521.2" y1="119.2" x2="525.3793745761946" y2="124.36722674874964" stroke="#222" stroke-width="0.8"/>
<path d="M526.70,126.00 L524.05,124.80 L526.08,123.16 Z" fill="#222"/>
<line x1="569.3" y1="137.4" x2="565.8971871146297" y2="144.60130168764425" stroke="#222" stroke-width="0.8"/>
<path d="M565.00,146.50 L564.94,143.59 L567.29,144.70 Z" fill="#222"/>
<line x1="596.7" y1="148.8" x2="594.6791515087809" y2="154.71285299282601" stroke="#222" stroke-width="0.8"/>
<path d="M594.00,156.70 L593.61,153.82 L596.07,154.66 Z" fill="#222"/>
<text x="483.5" y="188.4" font-size="9.4" text-anchor="start" fill="#333" stroke="#333" stroke-width="0.22">530.1eV</text>
<text x="555.7" y="216.8" font-size="9.4" text-anchor="start" fill="#333" stroke="#333" stroke-width="0.22">531.7eV</text>
<text x="585" y="227.5" font-size="9.4" text-anchor="start" fill="#333" stroke="#333" stroke-width="0.22">532.7eV</text>
<text x="616" y="240.7" font-size="10.6" text-anchor="start" fill="#333" stroke="#333" stroke-width="0.22">5%Mn-ZnO</text>
<line x1="518.3" y1="191.8" x2="524.2442499931815" y2="197.1894533271513" stroke="#222" stroke-width="0.8"/>
<path d="M525.80,198.60 L523.00,197.82 L524.75,195.89 Z" fill="#222"/>
<line x1="567" y1="221.4" x2="564.2360348619446" y2="231.8695649168762" stroke="#222" stroke-width="0.8"/>
<path d="M563.70,233.90 L563.11,231.05 L565.62,231.72 Z" fill="#222"/>
<line x1="588.8" y1="230.5" x2="586.0640783086353" y2="238.7077650740939" stroke="#222" stroke-width="0.8"/>
<path d="M585.40,240.70 L584.99,237.82 L587.46,238.64 Z" fill="#222"/>
<text x="485" y="270.4" font-size="9.4" text-anchor="start" fill="#333" stroke="#333" stroke-width="0.22">529.8eV</text>
<text x="558" y="296" font-size="9.4" text-anchor="start" fill="#333" stroke="#333" stroke-width="0.22">531.2eV</text>
<text x="591.7" y="303.6" font-size="9.4" text-anchor="start" fill="#333" stroke="#333" stroke-width="0.22">533.2eV</text>
<text x="641.7" y="312.6" font-size="10.6" text-anchor="start" fill="#333" stroke="#333" stroke-width="0.22">ZnO</text>
<line x1="514.9" y1="273.4" x2="520.2894533271514" y2="279.34424999318156" stroke="#222" stroke-width="0.8"/>
<path d="M521.70,280.90 L518.99,279.85 L520.92,278.10 Z" fill="#222"/>
<line x1="567" y1="303" x2="564.4229347632327" y2="310.02835973663815" stroke="#222" stroke-width="0.8"/>
<path d="M563.70,312.00 L563.37,309.11 L565.82,310.01 Z" fill="#222"/>
<line x1="596.7" y1="307.4" x2="593.9883226743971" y2="315.216011114973" stroke="#222" stroke-width="0.8"/>
<path d="M593.30,317.20 L592.92,314.32 L595.38,315.17 Z" fill="#222"/>
</svg></body></html>
